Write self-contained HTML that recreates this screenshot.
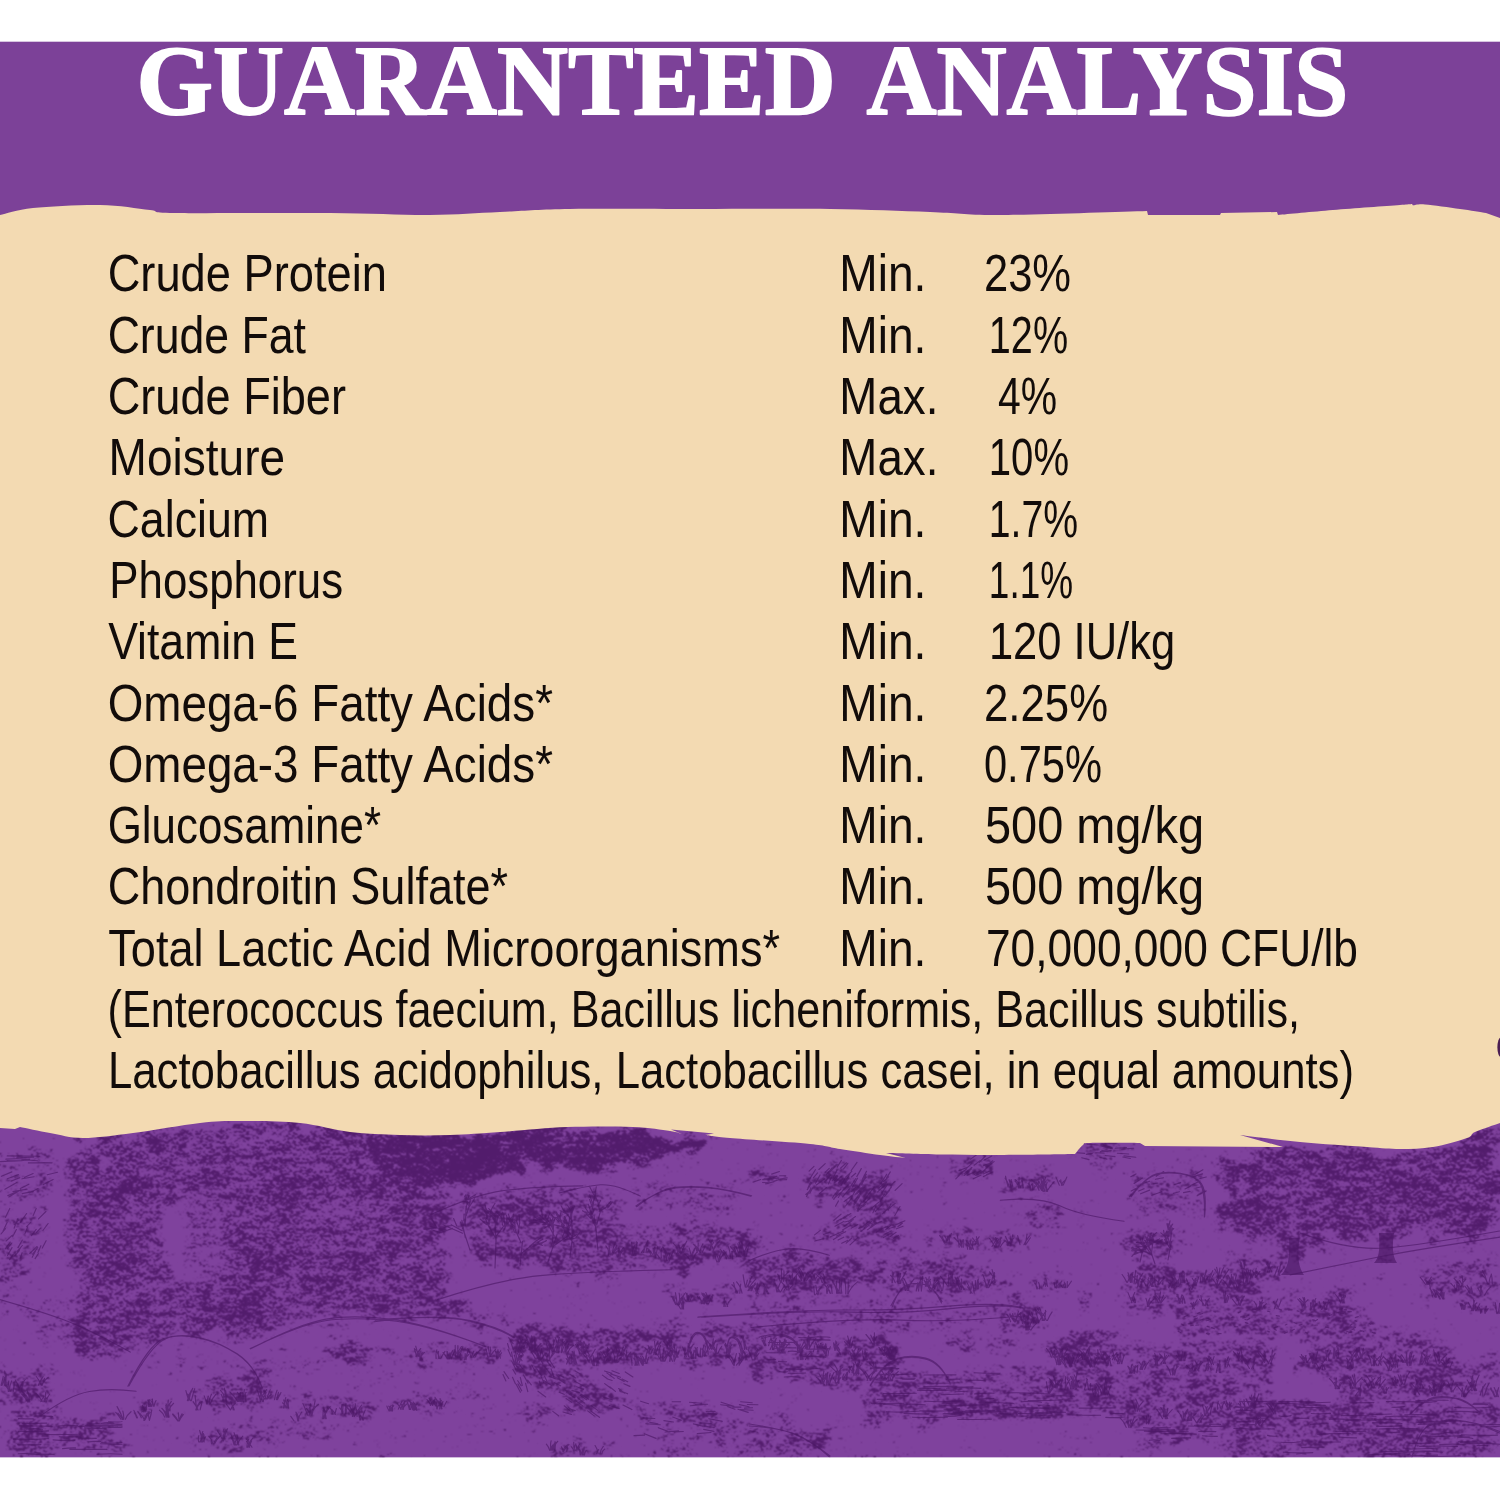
<!DOCTYPE html>
<html lang="en">
<head>
<meta charset="utf-8">
<title>Guaranteed Analysis</title>
<style>
html,body{margin:0;padding:0;background:#fff;}
body{width:1500px;height:1500px;overflow:hidden;position:relative;}
svg{display:block;position:absolute;left:0;top:0;}
.title{font-family:"Liberation Serif","DejaVu Serif",serif;font-weight:bold;fill:#fff;stroke:#fff;stroke-width:1.8px;stroke-linejoin:round;}
.ga text{font-family:"Liberation Sans","DejaVu Sans",sans-serif;font-size:51.5px;fill:#120c0a;}
</style>
</head>
<body>
<svg width="1500" height="1500" viewBox="0 0 1500 1500">
<rect x="0" y="0" width="1500" height="1500" fill="#ffffff"/>
<rect x="0" y="41.7" width="1500" height="1415.6" fill="#7c4198"/>
<clipPath id="bandclip"><rect x="0" y="1100" width="1500" height="357.3"/></clipPath>
<g clip-path="url(#bandclip)">
<defs>
<filter id="sk" x="0" y="1100" width="1500" height="357.3" filterUnits="userSpaceOnUse" color-interpolation-filters="sRGB">
 <feTurbulence type="fractalNoise" baseFrequency="0.035 0.05" numOctaves="2" seed="11" result="w"/>
 <feGaussianBlur in="SourceGraphic" stdDeviation="3.5" result="d0"/>
 <feDisplacementMap in="d0" in2="w" scale="36" xChannelSelector="R" yChannelSelector="G" result="d"/>
 <feTurbulence type="fractalNoise" baseFrequency="0.30 0.45" numOctaves="2" seed="7"/>
 <feColorMatrix type="matrix" values="1 0 0 0 0  1 0 0 0 0  1 0 0 0 0  0 0 0 0 1" result="nf"/>
 <feTurbulence type="fractalNoise" baseFrequency="0.08 0.17" numOctaves="2" seed="11"/>
 <feColorMatrix type="matrix" values="1 0 0 0 0  1 0 0 0 0  1 0 0 0 0  0 0 0 0 1" result="nm"/>
 <feTurbulence type="fractalNoise" baseFrequency="0.022 0.04" numOctaves="2" seed="16"/>
 <feColorMatrix type="matrix" values="1 0 0 0 0  1 0 0 0 0  1 0 0 0 0  0 0 0 0 1" result="nl"/>
 <feComposite in="nf" in2="nm" operator="arithmetic" k1="0" k2="0.75" k3="0.5" k4="-0.125" result="n1"/>
 <feComposite in="n1" in2="nl" operator="arithmetic" k1="0" k2="1" k3="0.27" k4="-0.135" result="n"/>
 <feComposite in="n" in2="d" operator="arithmetic" k1="0" k2="1" k3="0.6" k4="-0.3" result="s"/>
 <feColorMatrix in="s" type="matrix" values="0 0 0 0 0.294  0 0 0 0 0.086  0 0 0 0 0.392  8 0 0 0 -4.1"/>
 <feConvolveMatrix order="3" kernelMatrix="1 2 1 2 5 2 1 2 1" divisor="17" edgeMode="duplicate" preserveAlpha="false"/>
</filter>
</defs>
<rect x="0" y="1100" width="1500" height="357.3" fill="#7f429d"/>
<g filter="url(#sk)" opacity="0.84">
<rect x="-50" y="1050" width="1600" height="456" fill="#252525"/>
<rect x="0" y="1150" width="52" height="14" fill="#949494"/>
<rect x="0" y="1168" width="50" height="34" fill="#696969"/>
<polygon points="0,1212 45,1205 40,1245 12,1262 0,1262" fill="#898989"/>
<rect x="0" y="1262" width="22" height="30" fill="#828282"/>
<ellipse cx="30" cy="1310" rx="22" ry="9" fill="#858585"/>
<polygon points="72,1142 100,1136 180,1128 186,1200 160,1212 158,1262 182,1275 190,1340 135,1345 128,1362 76,1360 70,1290 66,1220" fill="#9d9d9d"/>
<polygon points="176,1126 280,1120 330,1122 332,1335 228,1340 222,1268 226,1208 188,1200" fill="#9d9d9d"/>
<polygon points="326,1122 440,1138 452,1200 446,1290 432,1322 326,1335" fill="#9c9c9c"/>
<ellipse cx="205" cy="1243" rx="22" ry="50" fill="#6b6b6b"/>
<ellipse cx="338" cy="1215" rx="9" ry="45" fill="#7d7d7d"/>
<ellipse cx="128" cy="1180" rx="8" ry="30" fill="#b3b3b3"/>
<ellipse cx="285" cy="1230" rx="9" ry="60" fill="#b3b3b3"/>
<ellipse cx="392" cy="1240" rx="8" ry="50" fill="#afafaf"/>
<polygon points="180,1274 350,1272 440,1300 432,1328 352,1346 262,1330 225,1345 182,1340" fill="#a0a0a0"/>
<polygon points="128,1352 160,1338 178,1334 215,1342 252,1362 262,1386 130,1388" fill="#333333"/>
<polygon points="250,1345 300,1322 350,1316 420,1322 480,1345 490,1390 262,1388" fill="#373737"/>
<ellipse cx="352" cy="1354" rx="22" ry="11" fill="#949494"/>
<polygon points="188,1392 250,1362 270,1372 290,1405 262,1412 200,1410" fill="#949494"/>
<ellipse cx="153" cy="1404" rx="18" ry="7" fill="#858585"/>
<polygon points="295,1400 335,1392 370,1402 372,1425 340,1412 300,1418" fill="#8d8d8d"/>
<rect x="0" y="1372" width="50" height="34" fill="#949494"/>
<polygon points="8,1416 120,1412 122,1455 8,1455" fill="#8d8d8d"/>
<rect x="200" y="1430" width="50" height="18" fill="#858585"/>
<rect x="250" y="1422" width="75" height="20" fill="#707070"/>
<rect x="40" y="1300" width="30" height="40" fill="#656565"/>
<polygon points="375,1192 432,1192 436,1250 430,1310 375,1312" fill="#a0a0a0"/>
<polygon points="375,1132 425,1133 525,1127 637,1127 702,1140 702,1152 650,1160 582,1170 525,1168 475,1182 425,1192 375,1190" fill="#e1e1e1"/>
<polygon points="457,1190 560,1186 625,1200 622,1268 560,1272 470,1262" fill="#8d8d8d"/>
<polygon points="480,1212 575,1206 578,1262 485,1266" fill="#9c9c9c"/>
<polygon points="607,1230 700,1224 752,1228 752,1262 690,1268 610,1264" fill="#949494"/>
<ellipse cx="608" cy="1266" rx="17" ry="20" fill="#949494"/>
<ellipse cx="704" cy="1257" rx="11" ry="8" fill="#bbbbbb"/>
<ellipse cx="685" cy="1270" rx="15" ry="10" fill="#afafaf"/>
<polygon points="375,1285 437,1290 487,1310 517,1328 475,1326 425,1313 375,1311" fill="#9c9c9c"/>
<rect x="670" y="1286" width="56" height="25" fill="#898989"/>
<polygon points="515,1326 752,1322 752,1364 540,1368" fill="#949494"/>
<ellipse cx="697" cy="1342" rx="11" ry="12" fill="#4b4b4b"/>
<ellipse cx="733" cy="1347" rx="9" ry="12" fill="#4b4b4b"/>
<ellipse cx="650" cy="1350" rx="9" ry="7" fill="#656565"/>
<polygon points="375,1318 440,1314 500,1326 512,1360 375,1362" fill="#353535"/>
<ellipse cx="387" cy="1348" rx="13" ry="7" fill="#949494"/>
<polygon points="412,1348 500,1346 502,1362 412,1363" fill="#858585"/>
<polygon points="503,1333 525,1330 552,1380 535,1388" fill="#b3b3b3"/>
<polygon points="535,1368 575,1372 628,1400 622,1414 570,1405 540,1390" fill="#9b9b9b"/>
<polygon points="622,1398 752,1418 752,1436 625,1414" fill="#858585"/>
<rect x="387" y="1397" width="63" height="14" fill="#898989"/>
<rect x="442" y="1382" width="45" height="18" fill="#676767"/>
<ellipse cx="537" cy="1414" rx="13" ry="8" fill="#858585"/>
<rect x="550" y="1440" width="52" height="15" fill="#7d7d7d"/>
<polygon points="650,1424 752,1436 752,1455 652,1455" fill="#707070"/>
<rect x="637" y="1182" width="115" height="28" fill="#606060"/>
<ellipse cx="738" cy="1181" rx="13" ry="4" fill="#a0a0a0"/>
<rect x="750" y="1170" width="30" height="15" fill="#9b9b9b"/>
<polygon points="805,1170 850,1163 856,1196 815,1204" fill="#949494"/>
<polygon points="832,1182 892,1172 897,1214 845,1222" fill="#949494"/>
<polygon points="812,1218 900,1214 900,1244 815,1247" fill="#898989"/>
<ellipse cx="970" cy="1168" rx="21" ry="12" fill="#a0a0a0"/>
<rect x="1005" y="1172" width="57" height="20" fill="#898989"/>
<rect x="1025" y="1202" width="37" height="25" fill="#898989"/>
<rect x="1075" y="1143" width="50" height="17" fill="#898989"/>
<rect x="945" y="1230" width="80" height="20" fill="#828282"/>
<rect x="887" y="1242" width="38" height="10" fill="#707070"/>
<polygon points="750,1258 800,1252 885,1260 885,1292 750,1296" fill="#9b9b9b"/>
<polygon points="890,1262 1000,1257 1000,1294 890,1296" fill="#919191"/>
<ellipse cx="916" cy="1294" rx="23" ry="12" fill="#515151"/>
<rect x="1032" y="1275" width="38" height="15" fill="#7b7b7b"/>
<rect x="750" y="1300" width="275" height="30" fill="#707070"/>
<rect x="1012" y="1305" width="38" height="25" fill="#949494"/>
<rect x="1075" y="1290" width="25" height="20" fill="#828282"/>
<rect x="750" y="1330" width="75" height="55" fill="#898989"/>
<ellipse cx="785" cy="1350" rx="18" ry="11" fill="#515151"/>
<polygon points="837,1337 895,1335 897,1384 840,1386" fill="#9b9b9b"/>
<rect x="945" y="1335" width="67" height="17" fill="#7b7b7b"/>
<ellipse cx="1086" cy="1351" rx="36" ry="17" fill="#a4a4a4"/>
<polygon points="862,1370 1125,1367 1125,1420 862,1422" fill="#858585"/>
<rect x="870" y="1396" width="255" height="18" fill="#949494"/>
<rect x="812" y="1360" width="50" height="25" fill="#898989"/>
<rect x="1045" y="1372" width="67" height="25" fill="#919191"/>
<polygon points="750,1420 832,1424 832,1457 750,1457" fill="#898989"/>
<ellipse cx="820" cy="1448" rx="13" ry="9" fill="#b3b3b3"/>
<polygon points="1215,1157 1285,1144 1375,1147 1450,1147 1475,1132 1500,1122 1500,1230 1462,1240 1400,1240 1325,1240 1305,1250 1250,1240 1220,1230 1225,1192 1215,1172" fill="#aaaaaa"/>
<rect x="1288" y="1238" width="12" height="34" fill="#bbbbbb"/>
<rect x="1378" y="1232" width="16" height="30" fill="#bbbbbb"/>
<rect x="1125" y="1167" width="80" height="50" fill="#696969"/>
<polygon points="1130,1174 1200,1170 1200,1196 1132,1198" fill="#828282"/>
<ellipse cx="1152" cy="1245" rx="28" ry="20" fill="#858585"/>
<rect x="1220" y="1250" width="67" height="30" fill="#8b8b8b"/>
<rect x="1125" y="1270" width="125" height="20" fill="#949494"/>
<rect x="1125" y="1290" width="225" height="20" fill="#7b7b7b"/>
<rect x="1175" y="1307" width="200" height="28" fill="#898989"/>
<rect x="1420" y="1260" width="80" height="40" fill="#858585"/>
<rect x="1462" y="1300" width="38" height="15" fill="#8b8b8b"/>
<rect x="1125" y="1340" width="150" height="35" fill="#8a8a8a"/>
<rect x="1300" y="1335" width="150" height="40" fill="#8a8a8a"/>
<polygon points="1337,1372 1500,1358 1500,1395 1340,1398" fill="#949494"/>
<rect x="1125" y="1378" width="150" height="50" fill="#878787"/>
<polygon points="1225,1400 1400,1400 1400,1457 1225,1457" fill="#949494"/>
<rect x="1400" y="1400" width="100" height="57" fill="#8d8d8d"/>
<ellipse cx="1443" cy="1407" rx="30" ry="9" fill="#515151"/>
<rect x="1125" y="1422" width="100" height="23" fill="#7d7d7d"/>
</g><path d="M145.9 1411.8Q145 1409.2 143.5 1407.4M142 1411.8Q141.7 1409 142.6 1407.2M145.8 1411.8Q146.6 1407.6 146.8 1404.8M143.1 1411.8Q143.6 1407.9 142.4 1405.3M144 1411.8Q144.3 1408.9 145.9 1406.9M151.8 1406.5Q150.8 1402.7 147.7 1400.1M154 1406.5Q154.6 1402.9 156 1400.5M151.9 1406.5Q152.8 1402 152.4 1399M148.5 1406.5Q148.2 1402.3 149.2 1399.6M149.6 1406.5Q148.3 1404 148.3 1402.3M150.4 1406.5Q149.3 1402.7 148.3 1400.1M153.8 1406.5Q153.3 1403.6 151.7 1401.7M170 1410.8Q170.2 1406.4 169.6 1403.5M169 1410.8Q167 1406.6 166.2 1403.8M166.8 1410.8Q167.8 1405.2 171.3 1401.5M168.7 1410.8Q170.1 1406.3 173.6 1403.3M168.3 1410.8Q167.6 1404.3 168.3 1400M199.7 1442Q202.4 1437.8 204.1 1435M198.7 1442Q197.9 1438.1 198.8 1435.6M200.9 1442Q200.8 1435.8 202.8 1431.6M201.6 1442Q201.7 1435 199.6 1430.4M202.7 1442Q204.2 1438.8 205.6 1436.8M202.2 1442Q201.6 1437.5 202.6 1434.5M204.1 1442Q204.6 1436.9 203.3 1433.5M213.5 1443.9Q214.9 1440.7 216.6 1438.5M212.9 1443.9Q211.8 1439.4 208.9 1436.4M211.6 1443.9Q210.7 1441 211.8 1439.1M214.6 1443.9Q216.3 1439.4 219.8 1436.5M223.4 1440.9Q225.1 1433.6 227.5 1428.8M223.3 1440.9Q220.2 1434.8 217.4 1430.8M223.4 1440.9Q224.4 1434.1 223.8 1429.6M221.9 1440.9Q223.3 1434.2 226 1429.7M235.7 1445Q234.2 1440.6 231.5 1437.7M234.1 1445Q233.2 1440.3 231 1437.1M238.9 1445Q236.1 1437.6 234 1432.7M235 1445Q232.6 1438.5 230.9 1434.2M236.6 1445Q239.6 1439.6 242.8 1436.1M234.3 1445Q235.5 1440.5 237.7 1437.5M238.1 1445Q238 1438.9 237 1434.9M248 1447.2Q249.1 1443.9 250.5 1441.7M249.6 1447.2Q249.1 1443.8 246.5 1441.5M252 1447.2Q249 1442.3 246.4 1439M246.9 1447.2Q246.8 1442.3 248.7 1439M249.3 1447.2Q250.2 1443.4 251.6 1440.9M247.8 1447.2Q248.9 1441.7 252.9 1438.1M6.2 1385.3Q5.7 1376.8 4.7 1371.1M2 1385.3Q4 1380.5 4.6 1377.3M4.7 1385.3Q4.4 1378.6 6 1374.1M5.4 1385.3Q5.2 1378.8 6.7 1374.4M1.4 1385.3Q3.5 1381.5 6.1 1379M1 1385.3Q2.6 1380.1 3.2 1376.6M9.3 1391.3Q9.7 1385.1 11.6 1380.9M9 1391.3Q9.1 1386.1 11.1 1382.6M13 1391.3Q14.6 1385.5 15 1381.6M10.8 1391.3Q7.2 1386.2 3.8 1382.8M8.2 1391.3Q8.1 1385.2 8.7 1381.1M9.1 1391.3Q7.1 1387.1 4.3 1384.4M13.3 1391.3Q14.1 1386 13.8 1382.5M18.8 1390Q19.7 1386.3 23.1 1383.9M21.7 1390Q22.4 1385 22.3 1381.6M19.7 1390Q17.9 1384.1 15.3 1380.1M18.6 1390Q21.1 1383.8 25.2 1379.7M28.5 1401.9Q26.7 1396.3 23.8 1392.6M28.5 1401.9Q24.8 1394.7 21.1 1389.8M27.6 1401.9Q25.1 1397.2 21.6 1394M29.9 1401.9Q28.5 1397.2 24 1394M28.4 1401.9Q26.4 1397.2 22.5 1394M29.6 1401.9Q29.6 1395.3 27.2 1390.8M41.9 1385.3Q43.4 1380.6 48.1 1377.4M42.2 1385.3Q43.7 1381.1 44.6 1378.3M38.2 1385.3Q40.7 1380.1 43.1 1376.6M41.7 1385.3Q39 1380 36.3 1376.5M38.4 1385.3Q40.4 1380.9 41.9 1378M45.2 1401.6Q44.2 1398.3 43.4 1396.1M45.6 1401.6Q45.3 1396.1 45.7 1392.5M42.1 1401.6Q39.8 1396.8 35.9 1393.5M44.1 1401.6Q45.2 1398.9 47.7 1397.2M46.5 1401.6Q46.9 1397.3 49.5 1394.4M40.8 1401.6Q42.1 1398.3 44.3 1396.1M418.1 1356.2Q417.3 1352.7 416.9 1350.3M418.4 1356.2Q416.9 1350.2 415.7 1346.2M416.5 1356.2Q415.3 1351.6 414.4 1348.6M419.7 1356.2Q418.5 1352.1 415.8 1349.3M415.9 1356.2Q417.9 1351.6 420.7 1348.5M420.1 1359.9Q419.9 1355.7 419.7 1352.8M419.8 1359.9Q420.9 1355.4 424.5 1352.4M420.8 1359.9Q421.5 1355.1 421 1351.9M420.1 1359.9Q420.7 1355.3 423 1352.2M421.6 1359.9Q420.8 1357 417.8 1355.1M422.6 1359.9Q420.4 1356.5 418.6 1354.2M440.7 1358.4Q443 1354.2 445 1351.4M439.5 1358.4Q438.2 1354 436.5 1351M436.1 1358.4Q435.6 1353.3 436.8 1349.9M438.7 1358.4Q438.2 1354.3 438.4 1351.6M451.1 1358.8Q453.2 1353.9 455.2 1350.6M447.2 1358.8Q447.4 1354.3 446.9 1351.4M449.5 1358.8Q450.3 1353.8 452.8 1350.4M447.3 1358.8Q445.3 1355 443.1 1352.5M447.1 1358.8Q447.6 1354.8 447.5 1352.1M448.2 1358.8Q449 1355.2 450 1352.8M448.2 1358.8Q448.7 1354.6 447.4 1351.7M455.6 1357Q455.2 1350 455.2 1345.3M457.1 1357Q459.8 1351.3 462.8 1347.5M456.8 1357Q458.2 1350.7 461.4 1346.5M457.8 1357Q458.4 1352 457.7 1348.6M459.3 1357Q461.7 1350.7 462.8 1346.4M457.4 1357Q457.9 1350.1 457.9 1345.5M459 1357Q456.5 1352.7 454.3 1349.8M464.9 1359.6Q466.6 1355.8 467.4 1353.2M460.5 1359.6Q459.9 1356.6 458.7 1354.6M464.3 1359.6Q466.6 1356.5 468.7 1354.5M466.1 1359.6Q466.3 1354.5 468 1351.1M461.2 1359.6Q460.1 1356.9 457.6 1355.1M464.6 1359.6Q465.4 1356 465.2 1353.6M471.2 1357.6Q472.3 1353.9 473.7 1351.4M474.8 1357.6Q476.6 1353.1 479.9 1350.1M472.9 1357.6Q475.1 1354.3 476.9 1352M471.1 1357.6Q470.1 1352.1 467.7 1348.5M487.5 1356.3Q486.9 1351.8 485.9 1348.9M490.3 1356.3Q488.6 1350.5 488.1 1346.7M490.3 1356.3Q492.8 1352.1 495.5 1349.4M491.1 1356.3Q490.3 1350.8 490.3 1347.1M497.1 1358.1Q498 1353.8 500.6 1350.9M497.8 1358.1Q499.8 1354.9 501.5 1352.8M497.1 1358.1Q497.5 1353.1 498 1349.7M497.3 1358.1Q496 1353.7 495.4 1350.8M500.4 1358.1Q499.5 1353.5 497.9 1350.4M496.6 1358.1Q496.4 1354.5 496.7 1352.1M498 1358.1Q498.6 1354.4 498.5 1351.8M391.5 1410.9Q392.1 1407.6 393 1405.5M392.5 1410.9Q392.3 1407.2 392.8 1404.8M389.5 1410.9Q389.4 1407.7 391.1 1405.6M391.2 1410.9Q391 1408.3 389.2 1406.5M390.9 1410.9Q390.5 1408 388.7 1406.1M389.7 1410.9Q390.6 1407.8 393.8 1405.7M389.1 1410.9Q387.3 1408 386.9 1406.1M403 1409.1Q403.7 1405.3 404.8 1402.7M400.6 1409.1Q402.4 1404.3 405.3 1401M403.5 1409.1Q402.3 1405.8 400.8 1403.5M398.3 1409.1Q400 1404.7 401.9 1401.7M401.2 1409.1Q399.2 1405.8 397.2 1403.6M402.4 1409.1Q404.3 1406.1 406.6 1404M412.6 1409.5Q413.9 1406.3 416.1 1404.2M414.9 1409.5Q414.3 1406.4 415.4 1404.4M410.7 1409.5Q411 1405.1 413.5 1402.1M410.1 1409.5Q408.8 1405.3 407.4 1402.4M409.3 1409.5Q409.6 1405.3 411.2 1402.6M409.5 1409.5Q407.9 1404.3 406.8 1400.9M412.7 1409.5Q412.1 1404.5 409.8 1401.2M413.2 1410.2Q414.2 1406.4 417.3 1403.9M416.2 1410.2Q415 1406 414.3 1403.2M417 1410.2Q416.5 1406.6 413.5 1404.2M413.3 1410.2Q412.3 1406.5 413.3 1404M414.3 1410.2Q413.3 1407 413.8 1404.8M430.3 1405.4Q431.5 1401.5 435.6 1399M432.6 1405.4Q434.4 1401.2 435.1 1398.5M432.5 1405.4Q431.1 1401.1 429.1 1398.2M430.7 1405.4Q429.5 1402 427 1399.7M441.3 1408.8Q441 1404.5 442.9 1401.6M437.4 1408.8Q436.5 1405.5 433.8 1403.2M436.7 1408.8Q439.3 1403.7 441.4 1400.4M439.8 1408.8Q440 1405.4 439.5 1403.2M437 1408.8Q436.6 1404.2 437 1401.2M442 1408.8Q440.6 1405.2 438.7 1402.9M440.7 1406.7Q439.6 1403.5 439.2 1401.3M443.9 1406.7Q445.4 1403.5 446.8 1401.3M440 1406.7Q438.4 1401.1 435 1397.3M441.1 1406.7Q440.6 1401.9 440.1 1398.6M441.9 1406.7Q441.1 1403.3 438.7 1401M514.4 1364.7Q512.2 1357.1 511.5 1352.1M516.3 1364.7Q518.2 1357.1 520.4 1352M515.7 1364.7Q517.4 1359.2 520.8 1355.6M518.4 1364.7Q520.6 1359.1 522 1355.4M515.1 1364.7Q518 1360.5 520.7 1357.7M515.6 1364.7Q516 1359 514.4 1355.2M517.5 1364.7Q516.9 1356.2 515.1 1350.5M521.2 1348.6Q523.2 1343.5 526.1 1340.2M521.1 1348.6Q521.2 1343.3 520.5 1339.7M524.4 1348.6Q522.7 1344.6 520.9 1341.9M523.7 1348.6Q525.3 1343.7 526 1340.4M520.5 1348.6Q522.3 1344.9 524 1342.3M518.8 1348.6Q519.3 1343.2 522.3 1339.5M530.9 1349.4Q531.3 1344.2 530.1 1340.7M532.5 1349.4Q531.2 1341.3 531.4 1335.9M529.3 1349.4Q530.3 1343.7 533.5 1340M531.8 1349.4Q531.4 1341.9 532.4 1336.9M531 1350.3Q531.3 1343.9 531 1339.6M535 1350.3Q534.7 1343.6 534.4 1339M530.1 1350.3Q529.8 1344.3 527 1340.3M535.4 1350.3Q538 1346.2 541 1343.5M535.6 1350.3Q536.1 1345 535.1 1341.5M541.4 1359.1Q543.7 1355.6 546.3 1353.2M539.7 1359.1Q539 1353.8 536.8 1350.3M538.5 1359.1Q537.1 1354.5 532.9 1351.4M539.2 1359.1Q537.6 1353 536 1348.9M539.6 1359.1Q540.8 1353.5 541.4 1349.7M539.3 1359.1Q541.1 1352.7 541.7 1348.5M546.1 1360.4Q547.5 1356.6 548.3 1354M547.6 1360.4Q547.3 1356.6 544.5 1354.1M549.3 1360.4Q549.1 1353.3 549.9 1348.6M549.2 1360.4Q551.3 1355.5 553.2 1352.2M550.1 1360.4Q548.8 1356.4 548.6 1353.7M548.7 1360.4Q552.5 1354.9 555.7 1351.3M554.7 1351.5Q552.7 1347.2 548.9 1344.4M556.9 1351.5Q558.7 1346 559.1 1342.3M552.1 1351.5Q551.3 1347.7 548.2 1345.2M553.3 1351.5Q552.8 1344.7 554.2 1340.1M553.7 1351.5Q555.6 1345.4 558.7 1341.3M553.8 1351.5Q551.5 1345.4 548.1 1341.3M552.7 1351.5Q550.2 1345.8 546.7 1342M561.3 1352.6Q562.2 1344.6 562.9 1339.2M561.6 1352.6Q563.4 1345.8 567.3 1341.3M558.6 1352.6Q559.1 1347.1 561.1 1343.4M558.2 1352.6Q557.8 1343.5 555.2 1337.4M557.6 1352.6Q559.2 1347.7 559.3 1344.5M556.5 1352.6Q559.3 1345.7 564.9 1341.1M556.3 1352.6Q557.1 1343.5 559.3 1337.5M564.9 1351.8Q565.9 1345.9 566.1 1342M565.2 1351.8Q567.5 1347 568.6 1343.8M568.3 1351.8Q569.7 1347.9 573.6 1345.3M565.7 1351.8Q567.5 1348.6 568.7 1346.5M565.1 1351.8Q564.6 1348.5 565.8 1346.3M566.7 1364Q567.8 1359.8 569.5 1356.9M570.7 1364Q572.7 1361.4 573.7 1359.7M571.8 1364Q571 1359.6 572 1356.7M570.1 1364Q570 1359.7 569.9 1356.9M566.5 1364Q567.9 1361.2 569.4 1359.4M569.8 1364Q568.4 1360.8 566.2 1358.7M569.2 1364Q568.1 1358.1 566.8 1354.3M575.3 1364.2Q575.4 1356.3 574 1351M574.7 1364.2Q573.6 1357 572.9 1352.2M576.9 1364.2Q575 1356.4 572.3 1351.3M575.4 1364.2Q574.2 1360.4 571.2 1357.8M573.1 1364.2Q573.5 1359.5 571.7 1356.4M584.1 1353.9Q586.4 1348.4 589.3 1344.8M579.5 1353.9Q579.1 1348.3 577.6 1344.5M583.3 1353.9Q582.1 1350.2 580.8 1347.7M583.1 1353.9Q585.2 1348.6 586.6 1345M581.9 1353.9Q585 1348.7 588.8 1345.2M583.2 1353.9Q579.9 1348.4 576 1344.6M580.1 1353.9Q578 1348.3 575.6 1344.6M586.6 1350.3Q583.2 1344.7 580.1 1340.9M583.5 1350.3Q583 1344.9 583.9 1341.3M586.5 1350.3Q585.7 1345.3 584.2 1341.9M585.3 1350.3Q586 1346.4 589.2 1343.8M583.4 1350.3Q581.5 1345.6 578.1 1342.4M583.9 1350.3Q583.2 1345.6 582.9 1342.4M584.4 1350.3Q582.1 1344.6 578.6 1340.9M589.5 1362Q586.2 1357.2 583 1354M588.3 1362Q587.4 1356.1 584.8 1352.1M592.5 1362Q590.6 1356.1 587.7 1352.2M588.7 1362Q592 1354.3 595.2 1349.2M596.7 1365.7Q597.1 1358.4 598 1353.5M594.4 1365.7Q593.4 1361.6 590.4 1358.9M598 1365.7Q598.1 1357.3 600.3 1351.7M596 1365.7Q597.9 1360.5 600.5 1357.1M594.5 1365.7Q593.6 1359.6 593 1355.6M593.2 1365.7Q591.1 1359.4 587.9 1355.2M604.4 1359.7Q603.4 1355.1 601.4 1352.1M604.2 1359.7Q606.5 1353.1 608.4 1348.7M607.7 1359.7Q607.6 1352.2 607.6 1347.2M607 1359.7Q609.7 1354.2 613.2 1350.5M604.1 1359.7Q605.5 1353.6 609.7 1349.6M609 1360.5Q607.6 1357 607.8 1354.6M610.1 1360.5Q610.5 1356.2 608.8 1353.4M608.5 1360.5Q606.7 1356 603.6 1352.9M606.5 1360.5Q609.7 1355.8 612.4 1352.6M617.6 1362.6Q620.6 1357.9 623.4 1354.8M616.6 1362.6Q617.5 1359.2 621.2 1356.9M615.9 1362.6Q617.6 1354.9 619.7 1349.8M615 1362.6Q614.6 1355 612.6 1349.9M616.5 1362.6Q616.9 1358.5 618.3 1355.7M622.5 1356Q624.5 1350.2 625.6 1346.4M617.9 1356Q616.7 1350.4 615.7 1346.7M619.4 1356Q622.1 1351.1 625.7 1347.8M619.3 1356Q621.7 1352.1 623.9 1349.5M622 1356Q624.2 1350.5 626.3 1346.8M620.9 1356Q621.7 1350.6 623.3 1347.1M624.1 1359.5Q624.3 1353.9 622 1350.2M627.7 1359.5Q626.4 1355.8 624.5 1353.3M626.1 1359.5Q626.7 1353.9 626.7 1350.1M626.6 1359.5Q627.6 1355 630.9 1352M626.7 1359.5Q626 1354.5 622.8 1351.3M635.3 1365.2Q638.2 1360.7 641.2 1357.6M636.6 1365.2Q636.1 1361.1 633.9 1358.3M634.8 1365.2Q636.5 1361.6 638.7 1359.2M635.4 1365.2Q635.1 1358.9 634.6 1354.7M632 1365.2Q631.9 1361.1 631.2 1358.3M642.4 1365.1Q643.4 1360.9 643 1358.1M639 1365.1Q638.5 1358.7 635.7 1354.4M643 1365.1Q640.8 1360.2 638.7 1357M637.5 1365.1Q636.4 1359.9 636.9 1356.5M643.3 1365.1Q643.1 1360.4 643.4 1357.2M642.4 1365.1Q639.7 1359.3 634.9 1355.4M646.9 1363.5Q647.5 1359.8 648.6 1357.3M644.2 1363.5Q643.3 1360.7 640.2 1358.8M645.8 1363.5Q645.3 1357.6 646.5 1353.7M642.9 1363.5Q641.9 1359.3 640.7 1356.4M643.3 1363.5Q645.4 1358.9 646.6 1355.9M645.7 1363.5Q645.5 1360.1 646.5 1357.8M646.3 1363.5Q644.2 1359.2 642.4 1356.3M649.3 1354Q648.5 1350.2 644.9 1347.7M649 1354Q649.5 1349.8 649.6 1347M646.3 1354Q648.5 1351.1 650.3 1349.1M650 1354Q649.8 1348.9 648.1 1345.5M646.5 1354Q647.4 1350.2 648.7 1347.6M650.9 1354Q651.8 1350.8 653.4 1348.6M653.8 1354.6Q654.9 1346.4 658.1 1340.9M655.4 1354.6Q657.3 1346.9 661 1341.8M656.4 1354.6Q654.7 1346.7 654.5 1341.3M658.7 1354.6Q658.6 1349 660.7 1345.3M664.4 1361.1Q666.9 1354.5 671.1 1350.1M662 1361.1Q665.6 1355.9 668.8 1352.4M663.4 1361.1Q662.7 1353.1 663.8 1347.8M662.3 1361.1Q662.7 1353.1 664.2 1347.8M660.9 1361.1Q658.4 1355 654.1 1350.9M661.2 1361.1Q659.7 1353.7 659.9 1348.7M665 1361.1Q666.6 1355.9 670 1352.4M670.7 1348.9Q670.9 1343.6 669 1340M671.3 1348.9Q668.8 1344.7 667.4 1341.8M668.8 1348.9Q666.6 1344.5 663.7 1341.6M670.7 1348.9Q671.9 1344.1 671.5 1340.9M670.1 1348.9Q669.5 1343.7 668.5 1340.2M668.1 1348.9Q666.9 1344 667 1340.7M669 1348.9Q670.1 1344.6 671.4 1341.8M669.5 1361.3Q670.1 1354.1 672.8 1349.3M672.5 1361.3Q671.9 1357.7 668.4 1355.3M674.2 1361.3Q676.6 1354.6 679.3 1350.2M670 1361.3Q670.7 1355.8 672.8 1352.1M672.5 1361.3Q669.8 1355.6 667.5 1351.9M674.2 1361.3Q674.2 1356.8 672.7 1353.8M674.6 1357.1Q675.2 1350 674.1 1345.3M678.1 1357.1Q676.2 1353 673.4 1350.3M677.3 1357.1Q676.1 1352.1 676.2 1348.8M676.6 1357.1Q676 1353.4 675 1350.9M677.2 1357.1Q675.2 1351.4 671.7 1347.7M676.9 1357.1Q678.6 1353.4 679.3 1350.9M685.1 1356.7Q685 1350.9 682.6 1347.1M684.5 1356.7Q687 1351.2 690.1 1347.6M684.8 1356.7Q685.1 1352.8 685.3 1350.2M688.6 1356.7Q688 1352.6 688.7 1349.9M686.6 1356.7Q688.2 1350.9 688.8 1347M688.8 1351.1Q690.2 1346.9 693.9 1344.1M687.4 1351.1Q688.5 1346.4 688.2 1343.3M689 1351.1Q688.7 1346.3 689.5 1343.1M689.9 1351.1Q691.4 1347.4 692.8 1344.9M694.9 1358.5Q695.9 1353.6 696.1 1350.4M691.4 1358.5Q693.5 1352 697.4 1347.7M693.4 1358.5Q693.2 1353.6 694.1 1350.3M692.3 1358.5Q691.1 1354.6 689.9 1352M695.8 1358.5Q695.6 1353.9 697 1350.8M692.5 1358.5Q692 1352.7 690.1 1348.9M700.6 1356.7Q700.5 1352.6 700.6 1349.8M698.6 1356.7Q696.7 1351.1 695 1347.3M702.3 1356.7Q702.5 1349.7 703.9 1345.1M699.1 1356.7Q696.8 1353.5 694.6 1351.3M698.5 1356.7Q697 1351.4 696.9 1347.9M700 1356.7Q700.1 1351.5 700.8 1348.1M706 1356.1Q705.3 1351.9 701.9 1349M704.6 1356.1Q705.1 1350 705.4 1346M704 1356.1Q704 1351.5 702.9 1348.4M704.6 1356.1Q707.3 1349.9 709.3 1345.8M709.5 1349.2Q711.7 1344.5 715.9 1341.4M711.9 1349.2Q713.1 1344.4 715.9 1341.2M711.7 1349.2Q714 1344.9 715.1 1342M712 1349.2Q712.9 1343 713.3 1338.9M713.5 1349.2Q711.9 1345.2 708.2 1342.5M712 1349.2Q713.6 1344.1 715.5 1340.7M711.4 1349.2Q710.4 1344.1 707.2 1340.7M716 1353.7Q714.6 1349.9 713 1347.3M717.1 1353.7Q715.9 1349.7 714.2 1347M717.7 1353.7Q719.3 1349.3 721.7 1346.3M716.3 1353.7Q716.4 1347.9 717.2 1344M727.9 1357.7Q729.7 1350.7 730.9 1345.9M729.6 1357.7Q727.9 1352.2 726.4 1348.6M729.7 1357.7Q728.9 1350.4 726.2 1345.6M726.8 1357.7Q728 1351.4 729.9 1347.2M728.2 1357.7Q728.2 1350.2 729.2 1345.2M729.2 1357.7Q729.4 1351.7 730.2 1347.7M728.1 1352.1Q727 1346.9 725.5 1343.4M727.3 1352.1Q726.3 1347.7 724.7 1344.7M726.9 1352.1Q729.1 1347.7 732 1344.7M730.1 1352.1Q730.4 1348.2 730.9 1345.6M733.5 1365.1Q731.3 1359.5 727.7 1355.9M739.1 1365.1Q741.8 1360.8 743.9 1357.9M739.2 1365.1Q738.8 1360.7 739 1357.7M734 1365.1Q735.1 1358.2 736.4 1353.6M739.1 1365.1Q740.1 1358.7 739.6 1354.5M734.5 1365.1Q733.3 1358.8 729.5 1354.7M736.4 1365.1Q739.5 1361.1 741.9 1358.5M746.6 1349.3Q744.9 1342.3 743.2 1337.6M744.2 1349.3Q744.7 1341.9 743.4 1336.9M742.7 1349.3Q741.1 1343.3 737.1 1339.4M744.9 1349.3Q744.1 1341.7 741.8 1336.5M746.7 1359.9Q745.5 1354.2 742.1 1350.4M745.4 1359.9Q744.8 1356.2 745.5 1353.7M742.8 1359.9Q740.9 1355.9 739.2 1353.3M747.1 1359.9Q745.2 1354.3 743.4 1350.5M745.3 1359.9Q746.4 1356.6 747.1 1354.4M754.8 1359.9Q756.5 1353.4 757.7 1349.1M755.1 1359.9Q755.9 1354.4 757.6 1350.7M752.4 1359.9Q750.5 1353.6 748 1349.4M753.7 1359.9Q756.5 1356.2 758.7 1353.7M754.4 1359.9Q756.4 1354 758.1 1350.1M754.2 1359.9Q755.2 1354.5 756.5 1350.9M755 1359.9Q754.3 1355.2 755.3 1352M765.9 1345.7Q764.4 1340.3 761.3 1336.7M768.6 1345.7Q769.5 1341.1 771.1 1338M765.7 1345.7Q764.4 1342.7 762.1 1340.7M765.1 1345.7Q764.4 1340.3 765.8 1336.7M764.6 1345.7Q763 1342.7 762.7 1340.6M773.5 1349.4Q774.1 1346 777.5 1343.7M772.5 1349.4Q772.8 1342.5 771 1337.9M773.8 1349.4Q774.4 1343.9 775.7 1340.3M770.1 1349.4Q773 1342.9 776.3 1338.6M779.9 1352.3Q776.3 1345.2 772.9 1340.5M782.1 1352.3Q786.2 1346.3 789.9 1342.4M780.1 1352.3Q779.6 1345.2 779.5 1340.5M778.5 1352.3Q776.3 1346.7 774.7 1342.9M777.7 1352.3Q780.5 1346 783.8 1341.8M782.9 1352.3Q783.2 1344.4 785 1339.1M783.3 1351.3Q782.5 1347.7 781 1345.2M781.5 1351.3Q784.1 1345.1 785.4 1340.9M784.1 1351.3Q782.6 1344.6 779.8 1340.2M782.1 1351.3Q784.5 1345 786.3 1340.8M800.9 1352.6Q799 1346.8 794 1342.9M798.6 1352.6Q800.2 1347.5 800.1 1344M800.3 1352.6Q802.4 1347.6 806.3 1344.3M797.9 1352.6Q798.1 1348.4 797.1 1345.6M797.4 1352.6Q797.7 1345.8 797 1341.3M799 1352.6Q801.9 1346.2 803.9 1342M802.8 1359.6Q802 1356.1 801.4 1353.7M800.4 1359.6Q800.3 1353.5 800.9 1349.4M800.5 1359.6Q801.5 1356.1 801.4 1353.9M801.4 1359.6Q801.3 1354 802.5 1350.3M805.5 1359.6Q806.5 1355.9 809.5 1353.5M809.2 1348.7Q811.7 1342.5 815.9 1338.5M806.7 1348.7Q805.3 1343.3 803.3 1339.8M807.2 1348.7Q808.7 1343.1 809.1 1339.4M809.3 1348.7Q809.6 1340.9 808.7 1335.7M806.9 1348.7Q805.1 1343.6 804.7 1340.3M805.1 1348.7Q807.7 1342.1 811.2 1337.7M806.8 1348.7Q806.8 1341.3 808.2 1336.4M818.9 1351.7Q817.8 1346 815.5 1342.1M817.9 1351.7Q817.2 1347.8 817.8 1345.2M818.6 1351.7Q819.7 1347 821.1 1343.8M813.3 1351.7Q814.5 1348.3 814.5 1345.9M817.7 1351.7Q819.7 1347.2 823.1 1344.2M817.4 1351.7Q817.6 1348.1 820.5 1345.6M826.2 1355.3Q826.7 1351.3 827.8 1348.6M826.3 1355.3Q822.9 1349.8 819 1346.2M825.6 1355.3Q826.5 1348.4 825.7 1343.8M826.2 1355.3Q823.4 1348.3 820.5 1343.6M825.2 1355.3Q826.3 1350.3 826.6 1346.9M825.8 1355.3Q822.3 1348.7 818.4 1344.2M828 1355.3Q828.1 1350.2 830.4 1346.8M835 1350.3Q833.5 1345.8 833.7 1342.8M837.2 1350.3Q836.5 1346.3 834 1343.7M835.2 1350.3Q835.6 1344.9 836 1341.2M839.8 1350.3Q839.2 1347.4 836.3 1345.5M835.1 1350.3Q835.8 1347.2 834.9 1345.2M834.8 1350.3Q837.3 1346.4 838.9 1343.8M838.1 1350.3Q837.7 1344.7 835.7 1341M845.3 1354.8Q846 1350.1 846 1347M844.7 1354.8Q845.4 1350.6 845.1 1347.9M844.7 1354.8Q845 1351.7 846.1 1349.6M840.7 1354.8Q839.6 1351.7 837.4 1349.6M846 1354.8Q846.2 1350.1 847.3 1346.9M850 1347.9Q849.4 1340.8 847.6 1336M851.1 1347.9Q852.3 1343.9 852.6 1341.3M848.3 1347.9Q849.6 1344 850.3 1341.4M849.3 1347.9Q849.3 1341.5 851.3 1337.2M849.6 1347.9Q847 1344.1 844.4 1341.6M854.6 1358.6Q853.4 1355.2 851 1352.9M851.4 1358.6Q853 1352.2 855.9 1347.9M854.7 1358.6Q857.3 1352.7 858.8 1348.7M855.4 1358.6Q853.4 1353.3 852.1 1349.7M852.2 1358.6Q850.5 1354.1 849.7 1351.1M856 1358.6Q854.7 1354 853.5 1350.9M854.3 1358.6Q857 1353.4 860.5 1349.9M866.4 1359.6Q865.4 1355 864.6 1352M866.8 1359.6Q866.9 1354.4 864.8 1351M867.3 1359.6Q865.5 1356.2 864.2 1354M867.4 1359.6Q866 1354.1 865 1350.4M865.1 1359.6Q865.3 1355.4 867 1352.6M864 1359.6Q862.6 1354.4 862.5 1350.9M864.9 1359.6Q865.5 1355 865.6 1351.9M874.3 1344.8Q874.6 1340 873.6 1336.8M873.1 1344.8Q874.8 1340 876.7 1336.7M874.4 1344.8Q873.5 1339 870.7 1335.1M873 1344.8Q870 1338.6 866 1334.5M874.3 1344.8Q874.4 1337.6 874.4 1332.8M883.8 1355.5Q881.1 1350.6 878.8 1347.4M883.7 1355.5Q884.7 1348.4 885.5 1343.7M884.6 1355.5Q886.3 1350.7 890.8 1347.4M884.3 1355.5Q882.4 1350.8 879.3 1347.6M889.8 1358Q890.9 1352.7 893.3 1349.2M889.3 1358Q888.6 1354.9 885.2 1352.8M887.6 1358Q884.9 1352 881.7 1348M889.7 1358Q889.4 1353.7 889.2 1350.8M888.7 1358Q887.9 1351.9 887.8 1347.9M891.9 1358Q893.3 1354.4 894.7 1352M892.7 1358Q892.9 1354 894.4 1351.3M891.7 1359.1Q890.6 1353.9 888.3 1350.5M894.3 1359.1Q893.4 1355.1 893.6 1352.4M894.8 1359.1Q894.7 1353.7 896 1350M890.9 1359.1Q891.8 1352.4 895.1 1347.9M892.5 1359.1Q894 1355 896.4 1352.3M893.7 1359.1Q892.4 1352.2 889.7 1347.5M894.1 1359.1Q894.4 1352.8 895.5 1348.6M677.8 1304.3Q680 1298.4 684.3 1294.5M676 1304.3Q674.1 1299.7 673 1296.6M677.2 1304.3Q676.3 1297.3 675.4 1292.7M679.3 1304.3Q680.1 1297.5 679.1 1293M675.5 1304.3Q673.3 1299.7 671.7 1296.6M679 1304.3Q682.1 1297.9 684.5 1293.7M683.1 1308.9Q682.6 1303.5 682 1300M683.7 1308.9Q681.4 1303.8 679.4 1300.5M680.6 1308.9Q679.4 1305.4 676.1 1303M681.8 1308.9Q682.3 1302.5 682.8 1298.3M682.1 1308.9Q683.4 1304.3 682.9 1301.3M683.4 1308.9Q683.6 1302.5 684.1 1298.3M683.3 1308.9Q682.3 1304.1 680 1301M687.6 1301.6Q687.9 1296.3 685.7 1292.8M689.8 1301.6Q690.9 1298.2 692.1 1295.9M688.8 1301.6Q687.4 1296.6 687 1293.3M686.2 1301.6Q684.2 1298.4 683.4 1296.4M688.2 1301.6Q687.3 1297.9 686.9 1295.4M686.6 1301.6Q688 1297.9 688.4 1295.5M704.1 1303.7Q705.6 1298.6 709.7 1295.2M703.2 1303.7Q705.1 1300.3 706.3 1298.1M701.8 1303.7Q703.2 1298.9 704.9 1295.7M701.6 1303.7Q700.9 1299.6 699.3 1296.8M702 1303.7Q702.7 1300.8 704.8 1298.9M704.6 1303.7Q705.8 1300.2 708.6 1297.9M703.3 1303.7Q701.4 1299.5 697.5 1296.7M708.5 1303.8Q710.5 1299.3 711.8 1296.2M704.4 1303.8Q704.4 1299.1 704.3 1296M707.4 1303.8Q706 1298.1 702 1294.3M706.4 1303.8Q708 1300.3 708.7 1298M708.3 1301Q706 1296.2 701.7 1293M708.1 1301Q707.2 1296.4 703.8 1293.3M708.6 1301Q707.3 1296 705.9 1292.6M709.5 1301Q710.4 1297.8 712.8 1295.7M711.1 1301Q712.2 1297.2 712.9 1294.7M707.9 1301Q705.4 1297.4 702.9 1295M711.3 1301Q712.5 1297.9 712.6 1295.8M727.7 1306.4Q726.1 1303.3 725.6 1301.2M725.2 1306.4Q725.3 1302.4 724 1299.8M727 1306.4Q727.8 1302 731.3 1299M723.9 1306.4Q723.9 1301.4 724.6 1298.1M549.8 1450.3Q551.5 1447.2 552.7 1445.1M555 1450.3Q555 1445.8 555.9 1442.8M549.7 1450.3Q548.5 1446.6 546.4 1444.2M553.9 1450.3Q554.8 1445.1 555.1 1441.7M551 1450.3Q552.7 1445.5 555.2 1442.3M551 1450.3Q550.1 1444.6 551.1 1440.8M552.2 1450.3Q553.7 1444.9 557.8 1441.3M563.4 1451.3Q566.3 1447.2 568.9 1444.4M566.7 1451.3Q567.5 1447.6 567.3 1445.1M562.7 1451.3Q563.7 1447.4 567.5 1444.8M563 1451.3Q562.9 1448.6 561.4 1446.8M576.9 1451Q576.7 1447.3 576.2 1444.8M573.5 1451Q573.5 1448.5 571.3 1446.7M575 1451Q576.5 1448.6 578.2 1447M576.9 1451Q577.6 1446.9 579.6 1444.1M574.5 1451Q573.7 1445.8 573.7 1442.3M576.7 1451Q577 1448.6 579.5 1446.9M574.1 1451Q573.8 1446.7 575.8 1443.8M584 1454.9Q583.4 1450.1 584.2 1447M581.2 1454.9Q580.4 1450.8 577.3 1448M584.5 1454.9Q584.7 1452.4 586.2 1450.7M583.1 1454.9Q580.5 1451.2 578.7 1448.7M582.6 1454.9Q582.6 1451.3 582.2 1448.9M580.2 1454.9Q580 1451.6 579.2 1449.4M596.4 1453.6Q597 1451.2 598.6 1449.6M601.9 1453.6Q602.1 1450.9 604.8 1449.1M600.1 1453.6Q600.8 1449.3 603.2 1446.5M598 1453.6Q597.5 1448.7 595.1 1445.5M742 1293.1Q740.7 1286.3 736.6 1281.8M737.8 1293.1Q736.2 1288.1 732 1284.7M736.2 1293.1Q734.5 1286.8 733.6 1282.6M739.8 1293.1Q740.1 1287.7 740.7 1284.1M748.2 1287.2Q749 1280.8 751.8 1276.6M746.7 1287.2Q748.7 1283.6 750.9 1281.1M745.5 1287.2Q746.8 1283 747.4 1280.2M745.3 1287.2Q743.8 1279.8 743.1 1274.8M749.2 1287.2Q752.7 1282.4 755.7 1279.2M751.6 1290.6Q752.9 1286.8 755.6 1284.2M748 1290.6Q748.6 1288.1 751.3 1286.4M750.8 1290.6Q751.6 1287.7 753.1 1285.8M749 1290.6Q750.1 1287.7 752.7 1285.7M751.8 1290.6Q752.8 1286 755.2 1282.9M758.3 1293.8Q756.9 1290.5 755.4 1288.2M756.8 1293.8Q756.6 1287.4 757.3 1283.1M756.5 1293.8Q756 1290.4 754.5 1288M755.8 1293.8Q758.1 1288.8 759.8 1285.5M764.9 1293.6Q765.2 1290.1 764 1287.8M768.2 1293.6Q766.4 1287.7 763.4 1283.8M763.7 1293.6Q764.5 1289.9 764.1 1287.5M767.8 1293.6Q766 1290.5 764.8 1288.4M767.2 1293.6Q766.8 1289.3 764 1286.4M768.6 1293.6Q765.8 1289.1 763.7 1286.2M780 1291.9Q776.5 1285.5 773.1 1281.2M780.6 1291.9Q782.2 1288.4 784.8 1286M777.4 1291.9Q778.5 1286 780.6 1282.1M776.8 1291.9Q775.6 1284.2 774.1 1279.1M778.8 1291.9Q777 1286 773.6 1282.1M779.9 1281.1Q779.8 1277 777.7 1274.2M783.5 1281.1Q784.3 1274.9 783.9 1270.8M780.9 1281.1Q783.8 1275.9 788 1272.4M781.7 1281.1Q781.4 1273.8 781.5 1269M786.8 1290Q784.8 1284.6 780.4 1281M784.2 1290Q787.3 1285 791.2 1281.7M789.1 1290Q786.9 1284.3 785.9 1280.5M788.7 1290Q791 1286.9 793 1284.8M788.7 1290Q787.2 1284 786.6 1280.1M787.8 1290Q789.1 1284.1 789.1 1280.1M795.6 1284Q796.7 1278.4 796.5 1274.7M792.6 1284Q791.8 1277.8 792.5 1273.7M792.9 1284Q790.5 1278.6 789.4 1275.1M790.5 1284Q793 1279.3 795.7 1276.1M791.6 1284Q793.9 1276.7 799.6 1271.9M806.6 1280.6Q808.7 1275.8 812.6 1272.6M801.7 1280.6Q799 1275.7 796.7 1272.5M806.7 1280.6Q810 1274.2 814.3 1270M805.1 1280.6Q803.4 1272.8 798.8 1267.7M804.4 1280.6Q805.2 1275.6 807.9 1272.4M801.7 1280.6Q800.8 1273.4 798.4 1268.7M815.5 1280.1Q814.4 1275.7 812.1 1272.9M813.7 1280.1Q813.9 1276.1 815 1273.5M812.6 1280.1Q811.1 1276 808.1 1273.3M814.7 1280.1Q817.8 1274.8 821.4 1271.3M817.8 1294.8Q816.1 1289.1 815.8 1285.3M814.5 1294.8Q814 1290.2 813.8 1287.1M815.7 1294.8Q817.9 1291 819.5 1288.5M818 1294.8Q818.8 1290.1 821.4 1286.9M821.9 1282.4Q820.3 1276.9 819.5 1273.1M824.8 1282.4Q825 1277.4 823.3 1274M825.2 1282.4Q823.5 1278.5 821 1275.8M822.5 1282.4Q820.9 1277.9 816.7 1274.9M832.1 1293.4Q831.8 1288.4 831 1285M827.1 1293.4Q827.6 1289.3 828.7 1286.5M826.9 1293.4Q826.1 1288.5 827.5 1285.3M830.3 1293.4Q828.1 1288.4 824.9 1285.1M830.4 1293.4Q829.9 1290.1 826.9 1287.8M836.6 1293.2Q836.6 1285.9 836.4 1281M838.2 1293.2Q835.8 1285.7 832.4 1280.7M837.4 1293.2Q835.5 1287.1 833.9 1283.1M840 1293.2Q836.3 1286.9 832.7 1282.7M841.9 1293.2Q841.1 1286.6 839.4 1282.2M840.9 1293.2Q841.2 1285.1 841.9 1279.8M838.9 1293.2Q839.9 1285 839.6 1279.5M848 1293.8Q848.4 1285 848.1 1279.1M847.8 1293.8Q847.7 1288.7 849.2 1285.3M848.1 1293.8Q851.1 1286.7 857.6 1281.9M845.8 1293.8Q846.2 1284.6 844.2 1278.6M895.2 1282.6Q894 1278.2 890.5 1275.3M892 1282.6Q892.5 1276.1 892.3 1271.8M892.6 1282.6Q892.4 1276.6 893.8 1272.7M897.7 1282.6Q897.2 1277.3 898.5 1273.7M899.6 1283.4Q901.6 1278.6 904.3 1275.4M898.1 1283.4Q898.2 1278.3 897.8 1274.9M898.1 1283.4Q899.8 1277.5 900.6 1273.5M898.5 1283.4Q898.9 1279 900.6 1276M900.4 1283.4Q899.4 1277.6 898.7 1273.8M899.8 1283.4Q903.3 1276.2 906.1 1271.4M908.4 1290.5Q906.5 1284.7 905.2 1280.9M909 1290.5Q907.4 1283.3 903.8 1278.5M907.6 1290.5Q909.5 1283.7 914 1279.2M905.3 1290.5Q904.9 1284.3 902.5 1280.1M905.7 1290.5Q907.8 1286.7 909.4 1284.2M907.2 1290.5Q909.7 1285.7 911.3 1282.5M916.3 1290.9Q916.7 1286 917.9 1282.7M921.3 1290.9Q922 1285.7 922.5 1282.3M921.5 1290.9Q921.3 1285.9 919.7 1282.5M918.4 1290.9Q918.8 1285.4 920.9 1281.7M921.3 1290.9Q922.1 1282.2 922.7 1276.4M918.6 1290.9Q918.5 1285.4 920.9 1281.8M916.2 1290.9Q919 1283.6 921.2 1278.8M927.8 1286.1Q928.8 1280.5 929.2 1276.8M928.6 1286.1Q927.4 1280.9 925.8 1277.4M926.6 1286.1Q925.9 1282.6 924.2 1280.3M929.5 1286.1Q930.7 1283.2 930.1 1281.2M927.1 1286.1Q928 1282.1 930.5 1279.4M925.5 1286.1Q925.8 1281.9 927.4 1279.2M930.3 1290.9Q927.6 1285.2 925.9 1281.4M931.3 1290.9Q933.3 1284.3 937.3 1279.9M931.8 1290.9Q930 1287.2 928.4 1284.7M933.3 1290.9Q935.5 1286 938.5 1282.7M930.9 1290.9Q934.5 1285.1 938.9 1281.2M931.7 1290.9Q933.7 1284.3 934.6 1280M941.4 1290.5Q941 1286 939.2 1283M942.6 1290.5Q943.8 1284.4 943.5 1280.4M938.3 1290.5Q939.6 1286.7 939.7 1284.2M939.2 1290.5Q938.9 1284.5 938.1 1280.5M937.3 1290.5Q937.4 1287 937 1284.6M948.8 1285.8Q948.4 1278.7 948.9 1274M947.4 1285.8Q944 1280.1 940.5 1276.3M952 1285.8Q951.4 1279.9 950.7 1276M951.2 1285.8Q950.1 1279.5 948.5 1275.3M950.4 1285.8Q949.9 1281.4 951.7 1278.5M952.5 1283.7Q952.7 1278 952.4 1274.3M957.8 1283.7Q958.1 1279.3 959.2 1276.3M954.2 1283.7Q951.7 1280.6 950.4 1278.6M953.1 1283.7Q952.5 1278 950.7 1274.2M956.2 1283.7Q956.3 1279.8 957.3 1277.1M964.4 1289.3Q962.7 1285.9 960.4 1283.6M961.3 1289.3Q961.8 1283.2 961.6 1279.1M961.7 1289.3Q959.6 1282.3 955.1 1277.7M963.6 1289.3Q960.3 1282.5 957.8 1277.9M960 1289.3Q957 1281.9 955 1277M974.2 1293.2Q973.6 1286.3 972.1 1281.7M970.2 1293.2Q971.2 1288.8 971.2 1285.8M972.2 1293.2Q969.6 1289.4 967.5 1286.8M970.8 1293.2Q969.5 1286.4 966.7 1281.8M976 1288.8Q977.4 1283.6 977.5 1280.2M975.2 1288.8Q975.8 1283.8 975.3 1280.5M978.2 1288.8Q978.8 1283.8 978.1 1280.5M976 1288.8Q977 1285.5 980.2 1283.3M977.6 1288.8Q977.9 1282.9 978.3 1279M974 1288.8Q972.5 1285.8 972.2 1283.9M987.3 1287.7Q987.9 1282.7 990 1279.4M988.6 1287.7Q990.4 1282.9 995 1279.8M987.5 1287.7Q986.7 1283.3 984 1280.3M986.4 1287.7Q985.5 1279.8 982.8 1274.5M995.2 1282.3Q993.5 1274.7 992.1 1269.6M991.6 1282.3Q992 1276.9 994.6 1273.3M994.5 1282.3Q994.3 1276.4 993.1 1272.4M994.8 1282.3Q994 1276.4 994.5 1272.5M995.4 1282.3Q993.7 1276.1 989.5 1271.9M945.2 1243Q943 1239 942 1236.3M948.9 1243Q949.2 1237.3 951.4 1233.4M945.5 1243Q945.9 1240 948.8 1238M947.3 1243Q946.7 1239 944.9 1236.3M946.4 1243Q948.6 1238.3 949.5 1235.1M946.2 1243Q947.3 1238.8 947.9 1236M944.5 1243Q942.3 1238.5 939.7 1235.5M961.8 1247.1Q958.6 1241.3 954 1237.5M963.3 1247.1Q962.9 1242.6 963.2 1239.6M961.8 1247.1Q961.1 1242.3 959.9 1239.2M959.2 1247.1Q958.3 1240.2 957.3 1235.7M971.7 1249.3Q969.2 1245.1 967.5 1242.3M967.7 1249.3Q966.5 1244.3 966.7 1240.9M969.6 1249.3Q970.1 1244.1 970.8 1240.6M973.4 1249.3Q971.7 1244.3 969.8 1241M970.5 1249.3Q969 1246.1 966.6 1243.9M971.7 1249.3Q972.6 1244.6 973 1241.4M977.9 1244.2Q977.4 1239.7 976.4 1236.7M978.5 1244.2Q978.1 1241.1 977.6 1239.1M975.6 1244.2Q976.5 1239.8 979.1 1236.8M978.3 1244.2Q976.8 1241.3 976.1 1239.4M975.2 1244.2Q976.7 1241.2 977.6 1239.2M977.2 1244.2Q974.6 1240.5 972.6 1238M995.3 1246.5Q996.8 1243.8 998.8 1242M996.5 1246.5Q996.7 1241.1 995.6 1237.5M992 1246.5Q994.7 1241.7 997.2 1238.4M994.6 1246.5Q992.2 1241.7 989.6 1238.5M994.6 1246.5Q996.6 1242.3 998.7 1239.6M997 1247Q997.2 1243.6 996.6 1241.3M998.7 1247Q1000.3 1243.3 1000.9 1240.8M998.3 1247Q998.8 1241.4 1001.1 1237.7M996.6 1247Q997.3 1243.1 997.7 1240.6M1000.2 1247Q1002.3 1243.1 1005.4 1240.5M995.2 1247Q995.6 1243.1 997 1240.6M1010 1245.6Q1011.8 1239.1 1012.7 1234.8M1007.4 1245.6Q1006.9 1242.1 1006.8 1239.7M1008.4 1245.6Q1007.5 1242.6 1004.8 1240.6M1007.7 1245.6Q1009.3 1241 1013.9 1237.9M1010.1 1245.6Q1010.9 1241.7 1012.8 1239.1M1010.9 1245.6Q1010.7 1239.9 1010.2 1236.1M1009.1 1245.6Q1007.7 1240.2 1005.5 1236.6M1025.7 1244.7Q1028.5 1240.6 1030.4 1237.8M1020 1244.7Q1018.6 1239.3 1017.6 1235.7M1025.2 1244.7Q1026.6 1238.4 1027 1234.2M1023.9 1244.7Q1026.6 1239.6 1029.4 1236.1M1011.3 1187.1Q1009.8 1182.7 1009.1 1179.7M1009.5 1187.1Q1007.6 1181.8 1005.1 1178.2M1010.7 1187.1Q1010.4 1182.7 1011.3 1179.7M1008.1 1187.1Q1006.4 1180.6 1005.5 1176.2M1012.8 1187.1Q1012.3 1183.1 1011.1 1180.4M1020.9 1188Q1019.6 1183 1015.2 1179.6M1018.7 1188Q1019 1181.6 1019.1 1177.4M1023.1 1188Q1023 1183.2 1022 1180M1023.5 1188Q1023 1183.5 1021.7 1180.5M1022.3 1188Q1022.5 1182.4 1022 1178.7M1019.2 1188Q1017.9 1183.9 1015.1 1181.1M1030.4 1190Q1029.4 1185.3 1029.1 1182.2M1032.8 1190Q1033.9 1187.4 1034.2 1185.7M1032.6 1190Q1032.3 1186 1032.8 1183.3M1030.2 1190Q1029.9 1186.6 1031.5 1184.3M1032.9 1190Q1035.1 1186.3 1037.7 1183.8M1031 1190Q1030.2 1186 1028.2 1183.4M1042.9 1190.3Q1043.3 1182.7 1045.6 1177.6M1039 1190.3Q1037.9 1185 1038.5 1181.4M1041.9 1190.3Q1043 1184.6 1046.1 1180.8M1042.2 1190.3Q1040.9 1185.1 1039.1 1181.6M1041.6 1190.3Q1039.1 1185.1 1034.6 1181.6M1042 1190.3Q1043.1 1183.4 1043.9 1178.7M1039.1 1190.3Q1036.7 1183.9 1031.8 1179.7M1043 1191.3Q1041.6 1184.3 1041.1 1179.6M1047.6 1191.3Q1046.6 1185 1043.3 1180.8M1044.7 1191.3Q1044.2 1185.2 1041.6 1181.1M1046.8 1191.3Q1050.6 1185.5 1054.1 1181.6M1043.7 1191.3Q1039.7 1185.6 1036 1181.8M1046.1 1191.3Q1045.7 1185.9 1047.1 1182.3M1047.2 1191.3Q1044.8 1185 1042.7 1180.9M1059.3 1185.1Q1057.3 1180.3 1056 1177.1M1063.2 1185.1Q1065.5 1180.3 1066.8 1177.1M1061.4 1185.1Q1062.7 1181.9 1065.8 1179.8M1062.5 1185.1Q1061.2 1182.5 1059.5 1180.8M1062 1185.1Q1060.7 1182 1060.8 1179.9M1130.5 1282.3Q1128.9 1277 1128.3 1273.4M1132.1 1282.3Q1131.8 1276.3 1133 1272.4M1130.6 1282.3Q1129.8 1276.6 1128 1272.8M1130.4 1282.3Q1129.1 1278 1128.1 1275.2M1131 1282.3Q1130.8 1277.5 1130.7 1274.3M1126.8 1282.3Q1124.5 1277.6 1122.1 1274.5M1127.5 1282.3Q1129.8 1276.7 1132.1 1272.9M1137.9 1283.8Q1139.3 1277.5 1142.8 1273.4M1138.7 1283.8Q1136.5 1279.4 1133.1 1276.5M1135.7 1283.8Q1137.1 1278.9 1137.4 1275.6M1134.1 1283.8Q1134.8 1275.7 1135.8 1270.4M1140.2 1286.9Q1141.1 1282.5 1144.1 1279.6M1137.6 1286.9Q1138.5 1282.9 1137.7 1280.2M1140.9 1286.9Q1141.7 1281.6 1142.9 1278.1M1139.4 1286.9Q1138.1 1283.6 1138.3 1281.4M1137.8 1286.9Q1138.2 1284.1 1136.9 1282.2M1146 1286Q1144.5 1281.3 1140.1 1278.2M1149.8 1286Q1150.5 1281.5 1151.2 1278.5M1147.6 1286Q1148.1 1281.1 1148.4 1277.8M1146.9 1286Q1149.2 1282.7 1150.2 1280.5M1155 1286.5Q1154.9 1280.3 1154.8 1276.1M1151.8 1286.5Q1150.5 1282.2 1147.8 1279.3M1153.5 1286.5Q1152.6 1281.9 1150.2 1278.8M1156.2 1286.5Q1154.9 1282.1 1151.8 1279.1M1152.6 1286.5Q1151.8 1280.3 1152.3 1276.1M1151.6 1286.5Q1153 1282.7 1154.8 1280.1M1158.9 1284.6Q1158.5 1281.7 1155.5 1279.8M1158 1284.6Q1158.8 1280.3 1159 1277.4M1158.4 1284.6Q1158.8 1281.1 1159.7 1278.8M1158.9 1284.6Q1161.7 1280.6 1164.4 1277.9M1162.8 1284.6Q1162.6 1279.6 1163.9 1276.3M1168.7 1287.7Q1170.8 1282.4 1174.7 1278.8M1171.4 1287.7Q1170.8 1284.1 1168 1281.8M1171.9 1287.7Q1172.5 1280.6 1175 1275.8M1173.5 1287.7Q1175.9 1282.2 1179.3 1278.6M1172.2 1287.7Q1174 1283.6 1174.8 1280.8M1173.9 1287.7Q1174.4 1283.7 1174.2 1281M1178.3 1286.4Q1176.2 1279.1 1173.5 1274.3M1178.2 1286.4Q1179.2 1278.9 1179.7 1273.9M1176.5 1286.4Q1174.2 1282.3 1172.1 1279.5M1178.9 1286.4Q1180.5 1281.5 1183.3 1278.3M1178.3 1286.4Q1176.4 1279.7 1173.1 1275.2M1177.5 1286.4Q1176.4 1282.7 1173.8 1280.1M1174.5 1286.4Q1173.8 1280.7 1172 1276.9M1181.7 1282.7Q1181.8 1275.8 1183.5 1271.2M1180.4 1282.7Q1180.8 1277.2 1181.1 1273.6M1182.8 1282.7Q1183.2 1275.7 1182.5 1271.1M1184.5 1282.7Q1183.4 1278.7 1183.6 1276.1M1185 1282.7Q1182.7 1276.9 1181.2 1273M1184.1 1282.7Q1184.4 1276.4 1184.2 1272.2M1192.1 1289.6Q1194 1283.8 1196.4 1280M1191.5 1289.6Q1190.1 1285.9 1187.5 1283.5M1191.7 1289.6Q1193.3 1283.2 1195.1 1279M1189.6 1289.6Q1188.8 1283.1 1186.3 1278.8M1195.7 1285.8Q1194.8 1281.3 1192.3 1278.3M1194.8 1285.8Q1195.6 1281.2 1196.1 1278.2M1194.3 1285.8Q1195.3 1283.4 1197.4 1281.8M1193.9 1285.8Q1193.5 1282 1195.4 1279.5M1196 1285.8Q1197.4 1280.7 1198.4 1277.3M1194.7 1285.8Q1195.6 1281.4 1195.3 1278.5M1202.4 1281.8Q1201.9 1277.3 1203.2 1274.3M1205.6 1281.8Q1204.5 1278 1201.3 1275.4M1204.8 1281.8Q1207.7 1276.4 1211.5 1272.8M1203.3 1281.8Q1205.1 1275 1206.5 1270.5M1202.7 1281.8Q1204.3 1275.2 1206.8 1270.9M1200.7 1281.8Q1200.1 1278.1 1201.4 1275.7M1204 1281.8Q1204.4 1274.8 1206.2 1270.1M1209.2 1281.8Q1209.9 1277.4 1211.4 1274.4M1210.9 1281.8Q1211.3 1277.2 1213.7 1274.1M1211 1281.8Q1209.6 1277.5 1209 1274.6M1208.7 1281.8Q1210.7 1275.1 1212.7 1270.7M1217.6 1287.9Q1215.8 1284.2 1214.9 1281.8M1218 1287.9Q1216.1 1282.7 1212.6 1279.1M1217.2 1287.9Q1216.8 1282.3 1218.7 1278.6M1216.9 1287.9Q1217.7 1282.7 1216.6 1279.2M1216.9 1287.9Q1219.9 1282.8 1222.1 1279.4M1228.5 1287.6Q1226.3 1283 1222.9 1280M1229.7 1287.6Q1229.1 1283.2 1229.7 1280.3M1228.3 1287.6Q1230.9 1283.4 1233.8 1280.6M1229.1 1287.6Q1227.1 1284.7 1225.1 1282.7M1228.9 1287.6Q1228.8 1283.7 1229.9 1281.1M1234 1284.8Q1233.3 1280 1233.1 1276.8M1232.9 1284.8Q1233.4 1279.9 1231.7 1276.6M1233.8 1284.8Q1235.4 1278.8 1236.4 1274.8M1230.6 1284.8Q1231.5 1278.5 1231.4 1274.3M1229.5 1284.8Q1230.4 1280 1232.2 1276.9M1233.2 1284.8Q1231.2 1279.1 1228 1275.4M1230.9 1284.8Q1230.8 1279.9 1228.8 1276.6M1237.2 1289.2Q1238.4 1285.1 1240.4 1282.4M1236.8 1289.2Q1237 1285.1 1235.2 1282.5M1234.2 1289.2Q1234.2 1286.2 1232.5 1284.3M1236.9 1289.2Q1238.7 1286.3 1240.6 1284.3M1235.6 1289.2Q1234.3 1284.3 1231.6 1281.1M1249.2 1283.7Q1250.6 1277.4 1250.9 1273.2M1246 1283.7Q1247.3 1275.5 1248.7 1270M1243.9 1283.7Q1242.9 1275.5 1242.1 1270M1247.7 1283.7Q1246.7 1276.7 1244.6 1272.1M1248.1 1283.7Q1248.2 1275.6 1246.1 1270.1M1246.1 1283.7Q1247 1277.5 1249.9 1273.3M1244.8 1283.7Q1245.9 1279.4 1248.7 1276.5M1056.6 1357.2Q1055.5 1354.2 1053.5 1352.3M1055.9 1357.2Q1053.2 1353.6 1051.2 1351.2M1055.3 1357.2Q1055.2 1353.6 1053.2 1351.2M1053 1357.2Q1052.6 1353.3 1051.2 1350.6M1051.5 1357.2Q1049.9 1352 1046.5 1348.5M1054.2 1357.2Q1056.5 1353.4 1057.7 1350.9M1054 1357.2Q1055.1 1353 1054.4 1350.3M1058.8 1364.7Q1058.6 1358.1 1059.1 1353.7M1059.6 1364.7Q1059.6 1357.4 1060.2 1352.6M1056.9 1364.7Q1056.4 1359.7 1054 1356.4M1059.7 1364.7Q1060.4 1359.9 1063.9 1356.7M1059.8 1364.7Q1061.7 1358.2 1067 1353.8M1058.3 1364.7Q1057 1359.5 1057.4 1356.1M1060.3 1364.7Q1059.4 1359.1 1058.6 1355.4M1063.4 1357.4Q1062.4 1353.8 1060.9 1351.3M1063.8 1357.4Q1064.9 1352 1067.8 1348.5M1061.2 1357.4Q1061.4 1351.9 1063.1 1348.3M1060.3 1357.4Q1058.6 1354 1056.4 1351.7M1062.6 1357.4Q1061.9 1351.2 1061.9 1347.1M1059.8 1357.4Q1058.5 1351.1 1054.2 1346.9M1062.2 1357.4Q1060.4 1353.5 1060.2 1350.9M1071 1366.8Q1069.9 1361.1 1068.4 1357.3M1070.1 1366.8Q1072.2 1362.8 1073 1360.1M1065.5 1366.8Q1063.1 1362 1059.8 1358.9M1069.9 1366.8Q1068.9 1361.3 1065.7 1357.6M1066.5 1366.8Q1065.1 1361.8 1061.6 1358.4M1065.2 1366.8Q1064.8 1361.1 1064.5 1357.3M1070.9 1366.8Q1072.1 1362.1 1074 1359M1075 1362.9Q1076.2 1357.8 1078.1 1354.4M1074.6 1362.9Q1074.1 1358.4 1072.4 1355.3M1076.9 1362.9Q1077.7 1359.5 1081.3 1357.2M1076.7 1362.9Q1077.7 1357.8 1080.4 1354.5M1082.8 1359.4Q1081.4 1354.9 1081.4 1351.9M1087.8 1359.4Q1088.9 1351.4 1090 1346.1M1086 1359.4Q1083.9 1353.8 1079.4 1350M1087.7 1359.4Q1086.6 1354.9 1083.4 1351.9M1084.5 1359.4Q1085.6 1352.3 1088.9 1347.6M1087.8 1362.3Q1088.1 1357.8 1087.6 1354.8M1088.1 1362.3Q1087.5 1358.9 1085.5 1356.7M1091.5 1362.3Q1090.4 1356.9 1088.5 1353.2M1087.8 1362.3Q1085.9 1359.3 1084.4 1357.4M1093.7 1367Q1095.1 1359.7 1097.8 1354.8M1090.4 1367Q1091.9 1361.6 1091.9 1358.1M1094.1 1367Q1096 1362.6 1097.6 1359.6M1092.4 1367Q1090.4 1362.3 1088.3 1359.2M1090.2 1367Q1088.7 1361.2 1084.2 1357.4M1090.6 1367Q1088.8 1363.2 1087.5 1360.6M1092.3 1367Q1089.5 1361.6 1085.5 1358.1M1102.9 1359.3Q1102.6 1356.1 1103.7 1354M1097.8 1359.3Q1098.3 1353.7 1097.7 1349.9M1102.9 1359.3Q1101 1355.5 1098.5 1353M1102.2 1359.3Q1101.2 1354.3 1100.7 1351M1099.1 1359.3Q1098.7 1356.7 1095.9 1355.1M1106.6 1365.7Q1105 1359.8 1102 1355.9M1107.6 1365.7Q1104.6 1359 1102.2 1354.5M1107.9 1365.7Q1108.9 1360 1109.7 1356.2M1106.2 1365.7Q1107.7 1361.4 1110.4 1358.6M1111.1 1365.7Q1110.2 1360.9 1109.2 1357.7M1111.1 1365.7Q1109.9 1360.2 1109.1 1356.6M1107.7 1365.7Q1107.2 1358.3 1105.4 1353.4M1114.6 1359.7Q1113 1355 1113.1 1351.8M1109 1359.7Q1106.5 1356.3 1104.7 1354M1114.8 1359.7Q1115.4 1356.8 1117.7 1354.9M1114.5 1359.7Q1114.2 1354 1112.1 1350.3M1112.3 1359.7Q1114.3 1355.5 1116.9 1352.7M1109.8 1359.7Q1107.6 1355.6 1105.5 1352.9M1121.9 1363.7Q1120.6 1359.8 1117.6 1357.1M1117.4 1363.7Q1119.3 1358 1120.5 1354.2M1121.8 1363.7Q1122.9 1358.6 1124.1 1355.2M1119.8 1363.7Q1117.9 1358.1 1117.1 1354.4M1118.4 1363.7Q1116.8 1358.9 1112.6 1355.6M1121.6 1363.7Q1120.5 1357.5 1120.4 1353.3M1304.4 1362.5Q1302.8 1358.9 1300 1356.5M1303.4 1362.5Q1302.9 1357.7 1301.4 1354.5M1307 1362.5Q1309.6 1358.1 1313.1 1355.2M1307.2 1362.5Q1305 1359 1303.4 1356.7M1306.9 1362.5Q1306.4 1358.3 1305.3 1355.6M1305 1362.5Q1304.6 1358.7 1302.8 1356.1M1303.6 1362.5Q1304.4 1358.5 1306.2 1355.8M1312.7 1363.2Q1311.6 1357.5 1309.1 1353.7M1312.6 1363.2Q1312.7 1357.9 1313.5 1354.3M1314 1363.2Q1312.8 1357.3 1309.5 1353.4M1315 1363.2Q1313.7 1357.4 1310.2 1353.5M1315.6 1363.2Q1315.9 1356.4 1317.6 1351.8M1325.1 1369.5Q1324.4 1365.7 1321.2 1363.1M1319.5 1369.5Q1322.4 1362.8 1325.9 1358.3M1319.5 1369.5Q1316.8 1364.2 1314.2 1360.7M1322.5 1369.5Q1322.2 1364.4 1323 1361M1329.2 1360.5Q1328 1354.6 1327.5 1350.6M1330.2 1360.5Q1328.3 1357.4 1326.6 1355.4M1326.4 1360.5Q1326.5 1354.4 1325.9 1350.3M1328.2 1360.5Q1328.3 1354.6 1330.5 1350.7M1338.2 1358.1Q1338.2 1351.9 1338.3 1347.8M1334 1358.1Q1335.3 1354.2 1334.9 1351.6M1333 1358.1Q1334.2 1351.9 1333.9 1347.8M1337.2 1358.1Q1335.3 1352.9 1334.8 1349.4M1334.6 1358.1Q1336.4 1353.3 1336.7 1350.2M1333.1 1358.1Q1334.6 1354.5 1337.9 1352M1338.7 1358.1Q1338.8 1350.9 1336.8 1346.2M1348.9 1368.4Q1350.3 1364.7 1350.3 1362.2M1347.9 1368.4Q1348 1362.8 1349.4 1359M1352 1368.4Q1349.5 1362.3 1346.6 1358.2M1347.4 1368.4Q1347.7 1364.2 1347.8 1361.3M1348.4 1368.4Q1350.6 1362.4 1352.9 1358.4M1352.6 1368.4Q1353.6 1364.4 1352.8 1361.8M1352.1 1368.4Q1349.5 1362.4 1346.6 1358.4M1351.8 1357.1Q1352.5 1353.9 1354.5 1351.8M1353.5 1357.1Q1356.5 1352.3 1359.7 1349M1356.1 1357.1Q1356.9 1352.5 1359.8 1349.4M1351.8 1357.1Q1351.8 1353.9 1349.3 1351.7M1355.3 1357.1Q1356.1 1352.1 1356.7 1348.9M1352.1 1357.1Q1351.9 1354.1 1350.2 1352.1M1359.3 1358.7Q1357.1 1353.9 1355.6 1350.8M1362.3 1358.7Q1361.8 1353.7 1358.9 1350.4M1360.5 1358.7Q1361.7 1354.9 1365 1352.5M1362.2 1358.7Q1360.9 1354.6 1359.2 1351.9M1361.7 1358.7Q1363.1 1352.4 1363.4 1348.2M1360.1 1358.7Q1360.3 1352 1359 1347.5M1374.6 1365.8Q1373.8 1359 1375 1354.5M1372 1365.8Q1375.5 1360.3 1379.6 1356.7M1373.5 1365.8Q1372.9 1358.7 1374.4 1354M1371.5 1365.8Q1370.9 1359.5 1368.4 1355.3M1378.6 1365.3Q1380.3 1357.9 1382 1352.9M1376.9 1365.3Q1374.9 1360.2 1371.4 1356.8M1378.2 1365.3Q1380 1360 1383.7 1356.4M1381.2 1365.3Q1379.6 1360.7 1375.2 1357.6M1388.4 1370.6Q1389.1 1366.8 1390.3 1364.3M1390 1370.6Q1389.9 1365.3 1388.3 1361.8M1390 1370.6Q1389.8 1363.8 1390.1 1359.2M1391.1 1370.6Q1393 1364.3 1395.2 1360.2M1388.8 1370.6Q1387.1 1364.8 1383.6 1361M1397.6 1367.1Q1397.5 1362.2 1395.1 1358.9M1392.2 1367.1Q1388.9 1361.2 1384 1357.3M1395.8 1367.1Q1395.8 1359.3 1395.8 1354M1394.9 1367.1Q1392.9 1360.5 1390.2 1356M1397.5 1367.1Q1397.4 1362.8 1398.5 1359.9M1393.4 1367.1Q1393.7 1359.3 1395.8 1354.1M1393 1367.1Q1389.8 1362.4 1387.3 1359.2M1402.9 1362.5Q1401.3 1358.5 1398 1355.8M1405.4 1362.5Q1406.6 1356.6 1406.9 1352.7M1405.3 1362.5Q1404.7 1357.9 1401.6 1354.8M1404 1362.5Q1402.1 1358.7 1399.9 1356.1M1411.1 1365.3Q1410.6 1360.9 1410.8 1357.9M1407.2 1365.3Q1405.9 1360.5 1406.2 1357.4M1409.1 1365.3Q1408.8 1357.5 1410.4 1352.3M1410.6 1365.3Q1412.3 1359.3 1413.9 1355.3M1407.5 1365.3Q1407.1 1358 1406.2 1353.2M1409.6 1365.3Q1410.4 1357.8 1411.8 1352.8M1419.8 1364.2Q1420.5 1355.8 1424 1350.2M1424.8 1364.2Q1426 1359.3 1426.3 1356M1421.7 1364.2Q1424.6 1359.4 1428.5 1356.2M1421 1364.2Q1421.1 1359.8 1422.4 1356.8M1422.8 1364.2Q1424 1358.8 1426.6 1355.3M1427.1 1361.2Q1429.2 1357.4 1430.2 1354.9M1422.3 1361.2Q1421.4 1356 1422 1352.5M1427.2 1361.2Q1426.4 1356.6 1423.2 1353.6M1427.6 1361.2Q1426.5 1354.8 1427.1 1350.5M1439.5 1363.1Q1438.4 1356.6 1434.8 1352.3M1436.4 1363.1Q1434.3 1355 1433.6 1349.7M1439.7 1363.1Q1442.7 1357.8 1446.8 1354.3M1439.9 1363.1Q1439.7 1356.5 1438.2 1352.1M1446.8 1367Q1445.4 1362.4 1441.7 1359.3M1445.6 1367Q1444.5 1362.7 1443.6 1359.9M1445.1 1367Q1443.7 1364.2 1441.5 1362.3M1445.5 1367Q1446.7 1361.9 1449.3 1358.5M1446.4 1367Q1446 1361.5 1446.2 1357.9M1450.4 1367Q1451.3 1364 1452.4 1362M1444.8 1367Q1446 1364.3 1448.5 1362.5M1129.7 1373.3Q1130.6 1367.9 1132.1 1364.4M1133.2 1373.3Q1130.7 1369 1127.9 1366.2M1134.6 1373.3Q1134.5 1368.7 1135.4 1365.7M1131.1 1373.3Q1129.8 1369.2 1128 1366.6M1131.9 1372.8Q1134.1 1368.5 1137.2 1365.7M1137 1372.8Q1137.8 1368.5 1137.5 1365.6M1133.2 1372.8Q1134.2 1368.8 1133.9 1366.2M1131.5 1372.8Q1132.4 1369.2 1131.8 1366.8M1142.6 1369.3Q1141.9 1364.9 1139.1 1362M1141 1369.3Q1142.5 1364.6 1143.2 1361.4M1142.3 1369.3Q1144.2 1364.4 1144.8 1361.2M1139.9 1369.3Q1141.5 1365.1 1142.5 1362.3M1141.8 1369.3Q1143.8 1365.6 1146 1363.1M1140.5 1369.3Q1140.8 1365 1142.6 1362.2M1144.6 1369.3Q1145.9 1365 1148.5 1362.1M1155.7 1365.1Q1155.2 1360.6 1155.2 1357.6M1157.4 1365.1Q1157.5 1360 1157 1356.6M1157.7 1365.1Q1156.7 1360.9 1153.7 1358.1M1157.6 1365.1Q1156.5 1358.1 1154.7 1353.4M1156.6 1365.1Q1156.1 1359 1155.1 1354.9M1154.9 1365.1Q1158 1360.3 1161.1 1357.1M1164.2 1363.4Q1163.6 1358.8 1164.7 1355.7M1163.2 1363.4Q1165.6 1358.5 1168.7 1355.3M1165.2 1363.4Q1164.3 1357.6 1164.7 1353.7M1160.9 1363.4Q1163.1 1360.2 1164.9 1358M1163.2 1363.4Q1164.8 1358.6 1166.4 1355.4M1165.6 1363.4Q1163.9 1357.7 1159.5 1353.9M1172.7 1375Q1172.4 1370.9 1172.2 1368.2M1170.8 1375Q1169.8 1369.6 1166.8 1365.9M1174.6 1375Q1176 1369.1 1177.1 1365.2M1172.5 1375Q1175 1369.7 1178.2 1366.2M1174.1 1375Q1173.3 1369.2 1174.2 1365.3M1179.7 1360.6Q1178.3 1357.5 1176.5 1355.4M1183.8 1360.6Q1184 1356 1184.8 1352.9M1180.5 1360.6Q1179.6 1357.2 1180 1354.8M1181.7 1360.6Q1181.8 1355.3 1182.4 1351.8M1180.3 1360.6Q1178.2 1355.5 1177.6 1352M1184.8 1360.6Q1185.6 1357.4 1186 1355.3M1192.6 1373Q1195.4 1367.8 1197.4 1364.3M1191 1373Q1192.2 1368.5 1192.3 1365.5M1191 1373Q1189.6 1369.2 1190 1366.6M1192.7 1373Q1192.3 1367.5 1192.7 1363.9M1188.7 1373Q1189.6 1368.9 1193.3 1366.2M1191.9 1373Q1192.8 1368.7 1191.8 1365.8M1191.6 1373Q1190.3 1368.5 1186.6 1365.4M1198.9 1370.9Q1197.8 1364.9 1195.2 1361M1198.4 1370.9Q1199.6 1365.1 1200.9 1361.2M1195 1370.9Q1197 1365.8 1200.3 1362.5M1196.9 1370.9Q1198.8 1365.7 1202.4 1362.3M1205.5 1370.6Q1206.5 1365.9 1208.1 1362.7M1211.1 1370.6Q1210.7 1367.6 1208.6 1365.6M1205.6 1370.6Q1206.1 1366.6 1206.8 1363.9M1205.9 1370.6Q1206.8 1367 1209.2 1364.6M1205.8 1370.6Q1206.2 1367.8 1208.4 1365.9M1207.8 1370.6Q1208.8 1367 1208.6 1364.5M1208.4 1364.6Q1208.6 1360.6 1206.9 1357.9M1213.5 1364.6Q1212.2 1359.5 1209 1356.2M1211.3 1364.6Q1209.4 1359.5 1208.1 1356.1M1211.4 1364.6Q1213 1359.7 1214.1 1356.5M1220.2 1372.5Q1219.5 1365.4 1219.8 1360.7M1216.2 1372.5Q1217.1 1367.6 1218.4 1364.3M1219.4 1372.5Q1218.9 1367.8 1218.7 1364.7M1220.4 1372.5Q1218.6 1367.1 1218 1363.5M1219.7 1372.5Q1220.1 1367.6 1220.1 1364.3M1216.3 1372.5Q1217.5 1368 1217.9 1365M1225.3 1366.3Q1226.3 1360.7 1228.5 1356.9M1227.4 1366.3Q1228.5 1362 1229.4 1359.2M1224.7 1366.3Q1225.1 1362.9 1227.6 1360.6M1225.8 1366.3Q1225 1361.7 1225.2 1358.7M1229.8 1366.3Q1228.4 1363.1 1225.5 1360.9M1239.6 1360.9Q1237.7 1355.4 1233.5 1351.7M1238.4 1360.9Q1238.6 1353.6 1240.9 1348.8M1241.3 1360.9Q1238.9 1356.1 1237.5 1352.9M1241.9 1360.9Q1241.9 1352.7 1241 1347.3M1246.6 1363.6Q1246.8 1360.2 1244.7 1357.9M1245.3 1363.6Q1243.1 1357.8 1241.9 1353.9M1246.6 1363.6Q1248.6 1360.4 1250.8 1358.3M1246.8 1363.6Q1245.2 1359.1 1242.3 1356.2M1249.4 1368.4Q1247.3 1364.1 1244.4 1361.1M1251.7 1368.4Q1254 1365.1 1255.1 1362.9M1252.1 1368.4Q1253.5 1364.3 1253.7 1361.5M1253.5 1368.4Q1253.9 1363.4 1254.4 1360M1264.7 1362.5Q1265.5 1358.1 1265.1 1355.2M1264.6 1362.5Q1264.2 1355.6 1264.3 1351M1262.8 1362.5Q1264.7 1356.5 1265.3 1352.6M1264.7 1362.5Q1261.5 1356.8 1258.7 1353.1M1271.5 1363.6Q1271.5 1355.5 1272.5 1350.1M1271.6 1363.6Q1271.1 1359.1 1270.5 1356.1M1268.6 1363.6Q1269.7 1358.5 1273.7 1355.1M1268.9 1363.6Q1265.3 1357.1 1260.5 1352.8M1270.5 1363.6Q1273.2 1357.4 1275 1353.3M1425.4 1284.3Q1422.6 1280.1 1420.3 1277.3M1427.9 1284.3Q1429.6 1279.9 1431.2 1277M1428.6 1284.3Q1430.6 1281.4 1431.4 1279.5M1429 1284.3Q1427.6 1281.7 1425.7 1279.9M1429.3 1284.3Q1429.7 1281.8 1432.1 1280.1M1427 1284.3Q1426.6 1281.6 1424.7 1279.8M1435.3 1297.2Q1432.2 1291.7 1429.8 1288.1M1436.6 1297.2Q1435.6 1292.3 1433 1289.1M1435.7 1297.2Q1435.3 1292.8 1434.6 1289.8M1432.8 1297.2Q1430.6 1289.6 1429.6 1284.5M1439.7 1299Q1437.8 1294.8 1436.2 1292M1443.5 1299Q1444 1295.1 1444.2 1292.6M1444 1299Q1442.7 1295.1 1442.9 1292.5M1443 1299Q1440.4 1293.9 1436 1290.5M1443.5 1299Q1442.3 1293.5 1440.6 1289.8M1440.4 1299Q1439 1295.6 1437.1 1293.4M1442.9 1299Q1442.1 1295.2 1440.5 1292.7M1455.6 1290.1Q1454.4 1287.1 1454.5 1285.1M1456.3 1290.1Q1457 1286.7 1456.6 1284.5M1458.8 1290.1Q1459.3 1286.4 1459.1 1283.9M1459 1290.1Q1458.6 1286.6 1457.1 1284.3M1455.2 1290.1Q1457.4 1286.5 1459.8 1284.1M1455.9 1290.1Q1453.8 1286.1 1450.9 1283.4M1463.6 1287Q1461.3 1283.1 1459.6 1280.5M1460.8 1287Q1457.6 1281.8 1454.1 1278.3M1462.9 1287Q1463 1280.1 1462 1275.6M1461 1287Q1462.3 1282.4 1465.7 1279.4M1469.7 1293.3Q1467.6 1289 1464.8 1286.2M1470.4 1293.3Q1468.8 1288.5 1467.1 1285.2M1471.5 1293.3Q1470.9 1289.4 1471.1 1286.8M1472.8 1293.3Q1471.8 1290 1471.5 1287.8M1471.9 1293.3Q1470.7 1289.2 1467.8 1286.5M1480.6 1295.2Q1480.8 1290.3 1481.5 1287M1480.5 1295.2Q1480.6 1289.3 1480.8 1285.4M1481.8 1295.2Q1482.4 1292 1481.5 1289.8M1480.5 1295.2Q1480.3 1290.9 1477.9 1288.1M1484.6 1295.2Q1486.8 1290.3 1490.5 1287M1492.3 1283.9Q1492.3 1278 1491.3 1274M1487.9 1283.9Q1486.2 1278.5 1482.2 1274.9M1488.8 1283.9Q1489.5 1278.1 1491.4 1274.3M1487.5 1283.9Q1485.8 1275.9 1482.4 1270.6M836.2 1374.9Q839 1370.3 842.2 1367.3M839.1 1374.9Q837.4 1368.2 833.8 1363.7M837.6 1374.9Q835.3 1370 830.7 1366.6M839.9 1374.9Q840.4 1369.8 840.2 1366.3M853 1372.6Q853.5 1368.3 854.2 1365.4M847.7 1372.6Q849.1 1368.9 851.7 1366.4M849.6 1372.6Q849.7 1369.2 849.3 1366.9M852 1372.6Q852.2 1367.7 854.4 1364.4M855.3 1373.3Q857.7 1366.5 859.5 1362M853.7 1373.3Q853.4 1367.4 853.7 1363.5M858.3 1373.3Q858 1367.1 857.6 1363M858.7 1373.3Q858.9 1365.8 859.3 1360.8M857.5 1373.3Q857.6 1366.5 855.4 1362M867.9 1380.3Q865.6 1373 859.9 1368.2M870.4 1380.3Q868.3 1375.3 865.3 1372M869.9 1380.3Q871.9 1374.2 875.8 1370.2M867 1380.3Q869.5 1374.7 874.2 1371M875.8 1371.2Q873.3 1366.4 869.4 1363.1M874.8 1371.2Q874.5 1365.9 872.7 1362.4M874 1371.2Q874 1365.5 873.8 1361.7M876.2 1371.2Q875.6 1365.9 875.7 1362.3M884.1 1379.5Q884.9 1376 886.4 1373.7M886.2 1379.5Q883.7 1373.3 881 1369.2M886.1 1379.5Q889.2 1374.3 892.9 1370.8M882.2 1379.5Q880.5 1375.6 878.8 1373M883.1 1379.5Q881.7 1375.6 879.3 1373M884 1379.5Q881.9 1375.7 879.2 1373.2M889.1 1380.8Q888.5 1375.6 887.9 1372.2M892.6 1380.8Q893 1377.4 891.2 1375.2M891 1380.8Q889.7 1375 888.7 1371.2M891.6 1380.8Q893.6 1375.2 898.3 1371.5M1131.3 1302.7Q1132.8 1296.6 1134.7 1292.6M1135.5 1302.7Q1134.6 1298.1 1133.4 1295.1M1134.3 1302.7Q1133.2 1299.7 1131.1 1297.7M1132.1 1302.7Q1129.5 1296.6 1128 1292.6M1148 1306.4Q1150.4 1302.3 1153.4 1299.5M1149.1 1306.4Q1148.9 1302.4 1149.2 1299.8M1147.4 1306.4Q1147.5 1301.3 1150.1 1297.9M1147.7 1306.4Q1147.2 1301.6 1146 1298.4M1160.1 1302.8Q1162.4 1298.3 1163.5 1295.2M1156.1 1302.8Q1155.7 1295.5 1154.8 1290.6M1158.1 1302.8Q1157.1 1298.9 1153.8 1296.3M1161 1302.8Q1163.2 1299.6 1165.3 1297.5M1160.7 1302.8Q1158.6 1298.2 1155.8 1295.2M1159.8 1302.8Q1159.4 1296.2 1160.6 1291.8M1158.6 1302.8Q1156.1 1298 1154.8 1294.7M1180.3 1303.2Q1178.5 1298.1 1176.8 1294.6M1180.1 1303.2Q1181.1 1298.2 1181.8 1294.9M1184.8 1303.2Q1184.4 1299.7 1183 1297.4M1182.4 1303.2Q1181 1298.9 1176.7 1296M1182.3 1303.2Q1182.5 1299 1183.3 1296.2M1185.2 1303.2Q1184.7 1298.3 1182.3 1295M1179.5 1303.2Q1178.4 1297.9 1177.9 1294.4M1192.9 1308.8Q1192.7 1305.3 1191.7 1303M1192.5 1308.8Q1194.2 1306 1196 1304.1M1194.5 1308.8Q1193.5 1305.5 1190.7 1303.2M1192.7 1308.8Q1192.7 1304.9 1193.6 1302.3M1192.4 1308.8Q1194.6 1303.4 1197.1 1299.8M1204.7 1305.7Q1202.6 1301.9 1199.6 1299.4M1203.1 1305.7Q1201.5 1299.7 1200.8 1295.7M1207.8 1305.7Q1207.1 1302.2 1205.4 1299.8M1205.6 1305.7Q1207.2 1301.3 1209.3 1298.4M1205.2 1305.7Q1205.2 1302.3 1207.3 1300.1M1226.9 1302.5Q1228.6 1298.8 1228.7 1296.3M1225.3 1302.5Q1225.1 1295.8 1225.7 1291.3M1225.1 1302.5Q1226.3 1298.9 1227.2 1296.5M1225.5 1302.5Q1227.3 1298.2 1227.5 1295.3M1225 1302.5Q1223.6 1296.5 1223.9 1292.5M1225.5 1302.5Q1224.5 1297.6 1225.3 1294.4M1237 1305.2Q1234.4 1301.6 1232.6 1299.3M1240.4 1305.2Q1238 1300.5 1235.9 1297.3M1237.8 1305.2Q1238.8 1301.8 1239.2 1299.5M1239 1305.2Q1238.6 1300.1 1236.3 1296.7M1239.9 1305.2Q1240.5 1300.1 1243.4 1296.7M1240.1 1305.2Q1242.2 1299.8 1244.4 1296.2M1257.7 1308.6Q1259.5 1305.2 1262.1 1303M1260 1308.6Q1260.9 1303.5 1262.5 1300.1M1258.6 1308.6Q1260.2 1304.9 1263.2 1302.5M1257.1 1308.6Q1256.9 1304.2 1254 1301.3M1259.1 1309.1Q1259.6 1304.9 1261.2 1302.1M1262.5 1309.1Q1260.8 1306 1259.4 1303.9M1262.2 1309.1Q1263.4 1305.9 1266.4 1303.8M1259.3 1309.1Q1261 1306.2 1261.9 1304.2M1259.9 1309.1Q1260.8 1304.4 1259.7 1301.2M1261.5 1309.1Q1261.8 1306 1261.4 1303.9M1274.3 1308.8Q1275.4 1303 1277.7 1299.1M1278.3 1308.8Q1277.1 1305.2 1275.7 1302.8M1276.3 1308.8Q1275.7 1304.5 1273.4 1301.6M1277.8 1308.8Q1279.7 1304 1281 1300.7M1302 1307.1Q1304.3 1302.7 1308 1299.8M1302.5 1307.1Q1301.5 1302.3 1297.8 1299.1M1306.1 1307.1Q1303.5 1302 1299.5 1298.5M1304.8 1307.1Q1302.6 1303.6 1300.2 1301.3M1305.7 1307.1Q1304.9 1301.3 1302.9 1297.4M1303.9 1307.1Q1303.6 1301.5 1304.2 1297.8M1304.4 1307.1Q1305 1301.5 1304.4 1297.7M1312.8 1309.9Q1315 1306.1 1316.5 1303.6M1311.2 1309.9Q1311.3 1305.8 1310.6 1303.1M1311.1 1309.9Q1312.8 1303 1315.8 1298.5M1314.7 1309.9Q1313.9 1304.6 1312.3 1301.1M1313.3 1309.9Q1313.2 1303.8 1313.2 1299.7M1310.4 1309.9Q1310.2 1305.4 1311.1 1302.3M1314.2 1309.9Q1315.2 1304.5 1315.3 1300.9M1325.7 1309.5Q1326.2 1305.2 1329.4 1302.3M1321.9 1309.5Q1323.2 1305.4 1326.1 1302.6M1325.2 1309.5Q1324.1 1304.7 1323.6 1301.5M1326.7 1309.5Q1326.6 1303.9 1328.7 1300.1M1321.4 1309.5Q1320.2 1304.8 1319.2 1301.7M1342.4 1303Q1342.1 1297.3 1339.2 1293.4M1342.3 1303Q1342.4 1298.1 1340.9 1294.8M1340.9 1303Q1338.8 1297.9 1335.6 1294.6M1342.6 1303Q1343.5 1298.5 1345.5 1295.6M1344 1303Q1344.3 1297.7 1343.2 1294.1M1340.6 1303Q1341.4 1298.1 1344.8 1294.9M1340.3 1303Q1342.9 1299.2 1345.6 1296.6M1463.1 1309.3Q1462.2 1305.9 1461.2 1303.6M1464.8 1309.3Q1464.5 1306.9 1463.9 1305.3M1461.8 1309.3Q1460.9 1305.6 1460 1303.2M1463.9 1309.3Q1463.2 1306 1461.9 1303.8M1463 1309.3Q1463.6 1306.1 1466.1 1303.9M1464.8 1309.3Q1465.7 1305.5 1464.8 1302.9M1471.4 1310.7Q1473 1306 1476.9 1302.8M1475.5 1310.7Q1475.9 1306.6 1475.2 1303.8M1476.2 1310.7Q1478.5 1306.5 1479.8 1303.8M1472.6 1310.7Q1473 1304.7 1474.6 1300.6M1472.5 1310.7Q1470.2 1305.7 1468.2 1302.4M1475.8 1310.7Q1474.4 1307.7 1473.1 1305.7M1473.6 1310.7Q1474.3 1304.1 1473.4 1299.7M1485 1313.2Q1486.3 1310.6 1486 1308.9M1485.1 1313.2Q1484.2 1310.9 1485 1309.4M1485.3 1313.2Q1485.5 1309.1 1486.3 1306.4M1480.5 1313.2Q1480.9 1309.6 1479.3 1307.2M1480.6 1313.2Q1481.6 1310.8 1481.9 1309.2M1484.9 1313.2Q1487.1 1310.4 1488.1 1308.6M1498.2 1313.3Q1499.5 1307.3 1499.6 1303.3M1500.8 1313.3Q1503 1307.4 1504.2 1303.5M1497.6 1313.3Q1496.2 1309.8 1495.2 1307.5M1496.7 1313.3Q1496.2 1307 1495.3 1302.7M1499.6 1313.3Q1500.3 1309.6 1501.4 1307.2M1048.8 1394.1Q1046.8 1386.7 1046.4 1381.8M1048.9 1394.1Q1052.1 1388.5 1056 1384.8M1048.6 1394.1Q1050.9 1388.1 1055.7 1384M1049.6 1394.1Q1049.6 1388.4 1050.3 1384.6M1049 1394.1Q1051.1 1389.7 1052.5 1386.7M1056.9 1387.6Q1055.2 1380.8 1053.6 1376.3M1055 1387.6Q1056 1383.9 1058.4 1381.4M1057.1 1387.6Q1058.3 1382.2 1061.3 1378.6M1055.3 1387.6Q1053.4 1382.2 1049.3 1378.6M1054.9 1387.6Q1057.5 1383.6 1059.4 1380.9M1053.9 1387.6Q1051.5 1384 1050.2 1381.6M1060.3 1389.5Q1060.4 1385.4 1059.9 1382.7M1060.8 1389.5Q1061.5 1382.5 1063 1377.9M1060.5 1389.5Q1060.4 1384.4 1062.1 1381M1065 1389.5Q1065.7 1381.7 1065.3 1376.5M1064.8 1389.5Q1066.5 1383.6 1069.9 1379.7M1061.6 1389.5Q1061.8 1382.6 1061.2 1378.1M1072.8 1388.7Q1072.9 1384.3 1071.4 1381.3M1070.6 1388.7Q1071 1385.4 1071.2 1383.2M1071 1388.7Q1071.4 1384.8 1072.1 1382.1M1070.8 1388.7Q1069.7 1383 1067.5 1379.2M1076.2 1388.7Q1075.9 1385 1077.1 1382.5M1073.6 1388.7Q1074.4 1385.4 1074.2 1383.2M1073.5 1388.7Q1075.1 1383.8 1079.1 1380.5M1074.1 1387.2Q1073.5 1380.9 1070.8 1376.6M1075 1387.2Q1076.2 1378.4 1077.1 1372.6M1074.2 1387.2Q1073.3 1381 1073 1376.8M1078.7 1387.2Q1076.9 1380.4 1074.8 1375.9M1073.4 1387.2Q1073.7 1380.9 1076.1 1376.8M1077.4 1387.2Q1076.6 1379.9 1074.3 1375.1M1090.1 1389.4Q1090.2 1385.8 1090.6 1383.5M1088.5 1389.4Q1088.4 1384.1 1086.7 1380.5M1084.5 1389.4Q1085.7 1383.5 1087.5 1379.6M1088.5 1389.4Q1087.1 1382.8 1086.7 1378.4M1098.6 1396.6Q1097.9 1390.4 1098.6 1386.2M1094.2 1396.6Q1092.6 1391.8 1092.1 1388.6M1098.5 1396.6Q1097.8 1393.7 1094.9 1391.7M1095 1396.6Q1097.2 1390.7 1098.5 1386.8M1094.9 1396.6Q1095.1 1391 1096.4 1387.2M1104.6 1393.7Q1104.9 1384.6 1105.8 1378.4M1101.9 1393.7Q1100.4 1389.2 1098.3 1386.1M1101.5 1393.7Q1100.1 1387.5 1096.1 1383.3M1106.7 1393.7Q1106.8 1386.8 1106.6 1382.2M1105.1 1393.7Q1104.2 1388.4 1104.6 1384.9M1107.5 1394.9Q1109.3 1389 1111.1 1385.1M1104.2 1394.9Q1102.9 1388.6 1099.7 1384.4M1105.6 1394.9Q1103.7 1389 1100.9 1385M1105.9 1394.9Q1105.2 1391.1 1101.8 1388.5M1109.7 1394.9Q1107.4 1390.8 1105.8 1388.1M1128.8 1427.4Q1127.5 1420 1128 1415.1M1130.9 1427.4Q1133.1 1422.4 1137.3 1419.1M1131 1427.4Q1132.5 1421.2 1134.4 1417M1129.1 1427.4Q1127.7 1423.7 1126.5 1421.3M1130.9 1427.4Q1129.1 1424.1 1127 1421.9M1131 1427.4Q1131.3 1423 1130 1420M1126.2 1427.4Q1124.2 1421.5 1119.9 1417.6M1139.3 1411.1Q1138.7 1403.9 1135.8 1399.1M1137 1411.1Q1138.6 1405.5 1142.9 1401.7M1137.5 1411.1Q1136.7 1406.2 1136 1402.9M1135.4 1411.1Q1133.8 1404.8 1131.9 1400.6M1148.5 1423.8Q1145.7 1419.4 1143 1416.5M1148.7 1423.8Q1149.7 1419.2 1150.7 1416.2M1148.3 1423.8Q1149.2 1418.5 1148.6 1415M1146.4 1423.8Q1147.2 1419.1 1146.2 1416M1163.5 1416.2Q1163.8 1409.6 1164.3 1405.2M1164.7 1416.2Q1165 1411.2 1163.7 1407.9M1165 1416.2Q1163.3 1410.9 1163.2 1407.3M1165.1 1416.2Q1166.9 1411.5 1167.9 1408.3M1166.5 1418.6Q1167.2 1412.5 1167.7 1408.4M1167.7 1418.6Q1165.3 1410.8 1163.2 1405.5M1166.1 1418.6Q1164.7 1411.9 1160.8 1407.5M1162.5 1418.6Q1159.5 1413.1 1156.8 1409.4M1166.6 1418.6Q1165.5 1413 1162 1409.3M1165.4 1418.6Q1168.4 1413.2 1172.2 1409.7M1182.5 1419.9Q1183.2 1415.8 1185.7 1413M1182.9 1419.9Q1183.9 1413.5 1187.9 1409.2M1183.2 1419.9Q1183.8 1415.1 1183 1411.9M1182.3 1419.9Q1184.9 1414.3 1187.4 1410.5M1182.4 1419.9Q1181.4 1414.7 1177.8 1411.2M1184.6 1419.9Q1185 1414.2 1187.9 1410.4M1183.5 1419.9Q1183.9 1414.7 1182.9 1411.3M1190.3 1420.5Q1192.9 1416 1196.2 1413.1M1188.8 1420.5Q1189 1416.5 1189.3 1413.9M1190 1420.5Q1191 1415.6 1191 1412.3M1189.1 1420.5Q1188.9 1415.2 1188.9 1411.7M1191.3 1420.5Q1190.6 1417.3 1189.9 1415.2M1191.6 1420.5Q1191.1 1415.9 1191.3 1412.8M1187.6 1420.5Q1187.6 1417.5 1189.1 1415.5M1199.7 1422.8Q1201.9 1417.7 1205.4 1414.3M1197.8 1422.8Q1199.6 1417.9 1202.6 1414.6M1197.6 1422.8Q1199.7 1418.3 1202.9 1415.4M1196.7 1422.8Q1198.6 1419.7 1200.6 1417.7M1196.5 1422.8Q1194 1418.7 1192 1415.9M1201.1 1422.8Q1201 1416.9 1201 1412.9M1205.3 1415.5Q1208.2 1409.9 1210.8 1406.1M1204.7 1415.5Q1206.3 1411.3 1209.1 1408.4M1205.7 1415.5Q1205.8 1410.2 1207.2 1406.6M1204.6 1415.5Q1204.4 1409.1 1202.2 1404.9M1208.5 1415.5Q1207.3 1410.2 1205.5 1406.7M1209.9 1415.5Q1211.1 1407.5 1213.1 1402.2M1221.7 1409.1Q1222.2 1404.5 1224.9 1401.4M1217.6 1409.1Q1217.1 1404.4 1218.3 1401.3M1220.9 1409.1Q1220.2 1405.2 1218.1 1402.6M1221.8 1409.1Q1222.2 1404.7 1224.6 1401.9M1230.3 1409.6Q1229.5 1405.2 1229.6 1402.2M1228.7 1409.6Q1229 1405.8 1231.6 1403.2M1227.8 1409.6Q1227.5 1404.2 1226.2 1400.6M1228.2 1409.6Q1225.9 1404.7 1223.9 1401.5M1228.1 1409.6Q1229.2 1405.6 1231.1 1402.9M1244.8 1410.1Q1244.5 1403.8 1244 1399.6M1242.9 1410.1Q1241.7 1406.2 1238.4 1403.6M1240.7 1410.1Q1241.3 1405.2 1240 1401.9M1246.4 1410.1Q1245.6 1405.2 1242 1401.8M1253.3 1408.3Q1252.2 1400.4 1251.5 1395.1M1250 1408.3Q1251.6 1399.7 1255.1 1394.1M1254.2 1408.3Q1254.3 1399.2 1254.8 1393.1M1254.7 1408.3Q1253.1 1401.6 1249.8 1397.1M1254.7 1408.3Q1256.1 1399.7 1258.8 1393.9M1250.2 1408.3Q1248.2 1402.7 1246 1398.9M1250.7 1408.3Q1253.4 1400.4 1255 1395.2M1255 1425.9Q1256.7 1421.6 1257.7 1418.8M1259.5 1425.9Q1260.4 1421.1 1260.5 1417.8M1255.2 1425.9Q1256.8 1422.5 1259.8 1420.3M1255.1 1425.9Q1256.1 1420.7 1256.7 1417.2M1259.3 1425.9Q1257.5 1421.5 1255 1418.5M1260.8 1425.9Q1263.9 1420.4 1268.2 1416.7M1275.7 1413.9Q1275.4 1409 1273.9 1405.7M1274.1 1413.9Q1274.6 1407.4 1276.7 1403M1275.9 1413.9Q1274.6 1407.9 1273.4 1403.9M1275.9 1413.9Q1272.7 1408.2 1270 1404.5M1273.8 1413.9Q1270.9 1407.8 1266.7 1403.8M611.3 1254.9Q614.4 1249.4 616.6 1245.7M611.9 1254.9Q613.1 1247.4 615.3 1242.3M610.4 1254.9Q608.5 1249.5 605.9 1245.9M610.7 1254.9Q613.5 1250.1 616.9 1246.9M608.5 1254.9Q608.4 1250.8 608 1248M612.6 1254.9Q613.5 1251.2 616.8 1248.7M610.7 1254.9Q609.3 1249.8 609.1 1246.4M620 1256.9Q620.1 1253.3 622.6 1250.9M617.7 1256.9Q620.6 1251.4 623.4 1247.7M618.5 1256.9Q619.2 1253.1 618.4 1250.5M619.8 1256.9Q620.2 1251.6 618.8 1248M633.3 1255.6Q634.7 1249.6 637.1 1245.6M632.5 1255.6Q632.7 1247.6 631.5 1242.4M631.9 1255.6Q632.6 1249.7 634.2 1245.8M635.9 1255.6Q636.6 1247.3 636.7 1241.7M634.8 1255.6Q636 1247.8 637.4 1242.6M645.9 1252.5Q646.6 1248.2 647.4 1245.4M643.3 1252.5Q645.6 1245.2 647.9 1240.4M644.1 1252.5Q644.2 1248.4 644.2 1245.7M641.4 1252.5Q644.1 1248.4 646.5 1245.7M655.3 1254.2Q654.1 1251 654.6 1248.9M655.3 1254.2Q654.7 1249.9 654.7 1247M650.7 1254.2Q649.3 1251 648.8 1248.8M650.7 1254.2Q649.1 1250.8 647.6 1248.6M653.8 1254.2Q653.2 1250.6 653.1 1248.3M652.5 1254.2Q650.8 1251.6 649.2 1249.9M659.2 1257.6Q656.9 1254 654.8 1251.6M661.3 1257.6Q660.9 1252.2 661.4 1248.6M656 1257.6Q654.1 1252.2 653.6 1248.6M655.7 1257.6Q656.7 1250.9 657.8 1246.3M667.3 1260.6Q666.5 1254.7 664.5 1250.8M669 1260.6Q667.7 1252.8 663.3 1247.6M669.3 1260.6Q671.9 1254.5 673.6 1250.4M669.6 1260.6Q670 1256.3 669.1 1253.4M666.8 1260.6Q666 1252.4 662.6 1247M676.6 1253.9Q680.8 1247.6 685.5 1243.4M678.5 1253.9Q676.6 1249 675.9 1245.6M680.3 1253.9Q678 1247.5 673.4 1243.3M676.6 1253.9Q680.2 1247.5 685.6 1243.2M681 1253.9Q683.6 1246.2 686.8 1241.1M677 1253.9Q680.5 1247.9 684.9 1243.9M681.1 1253.9Q679.8 1248.7 678.8 1245.1M690 1260.2Q688.1 1256.6 685 1254.2M691.3 1260.2Q691.8 1253.5 694.5 1249.1M692.2 1260.2Q695.6 1253.6 698.7 1249.1M689.7 1260.2Q692.6 1254.1 694.5 1250.1M691.3 1260.2Q691.1 1252.9 689.2 1248M689.7 1260.2Q692.1 1251.8 696.2 1246.3M693.4 1260.2Q692.7 1255.9 690.2 1253.1M702.2 1252.4Q704.2 1248.8 704.9 1246.4M700.5 1252.4Q698.8 1248.6 695.6 1246M700.1 1252.4Q696.6 1247.5 693.3 1244.1M697.3 1252.4Q695.7 1247.8 694.8 1244.7M699.9 1252.4Q700.4 1247.3 702.9 1243.9M697.1 1252.4Q698.4 1246.8 698.2 1243M713.4 1250.1Q711.8 1243.6 708.4 1239.2M710.8 1250.1Q710.9 1244.8 711.3 1241.2M713.1 1250.1Q714.9 1244.4 719.9 1240.5M713.5 1250.1Q715.4 1245.1 719.3 1241.8M709.7 1250.1Q711.2 1244 712.3 1240M709.2 1250.1Q710.8 1245.6 713.6 1242.6M719.1 1261.9Q720.5 1256.9 724.1 1253.5M718.6 1261.9Q719.2 1255.8 721.4 1251.7M716.9 1261.9Q715.4 1258.6 715.5 1256.3M717.9 1261.9Q718.6 1258.6 717.4 1256.4M729.5 1258.7Q731.1 1252.5 734.7 1248.4M729 1258.7Q726 1253.7 723.4 1250.3M732.3 1258.7Q732.9 1254.4 731.7 1251.6M730.6 1258.7Q730.3 1251.6 728.5 1246.9M726.7 1258.7Q724.3 1253.1 720.2 1249.4M726.7 1258.7Q725.6 1254.5 726.1 1251.7M740 1256.6Q737.4 1250.5 736 1246.5M741.3 1256.6Q740.8 1249.4 739.3 1244.6M740.7 1256.6Q739.5 1248.9 737.8 1243.8M736.7 1256.6Q736.1 1251.9 734.7 1248.7M737.2 1256.6Q734.6 1250.6 730.3 1246.6M738.6 1256.6Q739.7 1251.6 740.2 1248.2M740.8 1256.6Q739.7 1251.5 740.2 1248.2M745.1 1256.1Q742.8 1247.5 741.2 1241.8M742.7 1256.1Q740.5 1250 739.9 1245.9M740.8 1256.1Q741.4 1248.2 742.4 1243M743 1256.1Q745 1248.3 749.6 1243.1M745.1 1256.1Q742.4 1247.9 739 1242.4M746.3 1256.1Q747.8 1248.3 749.4 1243.1M123.7 1419.3Q123.9 1414.4 122.8 1411.1M121 1419.3Q118.4 1415.2 115.8 1412.4M122.4 1419.3Q121.2 1412.9 118.2 1408.6M125.4 1419.3Q127.1 1414.7 131 1411.7M123.2 1419.3Q119.9 1411.7 117.1 1406.6M122.7 1419.3Q120.2 1415.6 117.9 1413.1M137.3 1417.8Q135.9 1414.7 135 1412.6M137.5 1417.8Q135.4 1413.4 133.9 1410.4M136.6 1417.8Q136.3 1414.8 134.2 1412.8M141.3 1417.8Q139.6 1413.9 137.8 1411.4M149.4 1420.3Q151.3 1414.2 151.7 1410.1M143.9 1420.3Q145.3 1415.1 149.1 1411.6M144.7 1420.3Q146.6 1415.5 150.1 1412.3M149.4 1420.3Q148.3 1415.2 147.9 1411.8M144.7 1420.3Q142.7 1416.1 139.5 1413.3M143.8 1420.3Q145.6 1416.4 146.7 1413.7M166.3 1417.1Q165.4 1412.9 163.3 1410M168 1417.1Q165.8 1411.8 161.8 1408.3M166.3 1417.1Q166 1410.7 166.4 1406.5M167.8 1417.1Q166.9 1410 165.7 1405.2M169 1417.1Q167.9 1411.4 165.8 1407.7M164.7 1417.1Q163.3 1413 159.5 1410.2M168.8 1417.1Q168.4 1411.6 167.5 1407.9M179.3 1421Q179.9 1416.7 182 1413.8M178.2 1421Q176 1416.7 172.9 1413.8M179.2 1421Q178.5 1416.1 178.4 1412.9M177.8 1421Q174.9 1417 172.6 1414.3M179.2 1421Q181 1417.1 183.3 1414.5M294.1 1421Q292.2 1418.2 290.8 1416.3M297.8 1421Q297.4 1416.8 296 1414M298.8 1421Q298.7 1415.6 295.9 1412.1M298.3 1421Q298.7 1415.6 301.7 1412M310.8 1415.1Q313 1408.6 318.6 1404.3M312 1415.1Q314 1406.6 315.1 1400.9M307.6 1415.1Q305.1 1408.1 302.9 1403.4M309.1 1415.1Q310.3 1408.4 310.5 1403.9M311.4 1415.1Q310.5 1410.5 309.6 1407.4M308.9 1415.1Q312 1410.1 314.9 1406.7M311.5 1415.1Q309.1 1411.2 306.4 1408.5M326.2 1418.6Q325.2 1412.9 324.1 1409M324.1 1418.6Q324.7 1412.7 328.1 1408.8M323 1418.6Q326 1411.3 328.2 1406.4M325.7 1418.6Q324.9 1412 323.1 1407.7M323.3 1418.6Q325.8 1411.5 330.1 1406.7M322.8 1418.6Q323.1 1413.7 323.2 1410.4M334.9 1414.3Q335.7 1410.8 336.4 1408.5M335.4 1414.3Q333.7 1411.4 331.7 1409.5M333.1 1414.3Q332 1410.7 330.5 1408.3M331.9 1414.3Q332.4 1411.3 331 1409.3M346 1413.3Q346.7 1410 345.9 1407.7M342.9 1413.3Q342.1 1410 339.8 1407.9M345.9 1413.3Q346 1408.3 345.6 1405M342 1413.3Q341 1408 342 1404.5M342.7 1413.3Q342.2 1410.4 340 1408.4M345.6 1413.3Q345.6 1407.3 345.9 1403.4M342 1413.3Q343.2 1407.9 343 1404.3M357.1 1416.4Q356.2 1408.8 355.2 1403.7M354.6 1416.4Q352.4 1410.2 349.6 1406.1M352.6 1416.4Q354.1 1409.4 355.2 1404.7M353 1416.4Q350.5 1410 345 1405.7M352.4 1416.4Q353.1 1409.4 353 1404.7M354.5 1416.4Q357.9 1409.6 361.7 1405M360.6 1420Q359.2 1415 359.5 1411.7M363.4 1420Q360.4 1414.4 356.1 1410.7M360.5 1420Q358.7 1414.1 358.3 1410.2M360.2 1420Q358.8 1413.1 355.9 1408.4M359.8 1420Q359.9 1413.7 359.3 1409.5M362.2 1420Q362.9 1414.1 365.2 1410.1M188.8 1400.6Q186.8 1394.6 185.9 1390.6M187.4 1400.6Q188.8 1394.2 191.5 1390M190.5 1400.6Q188.9 1396.7 187.9 1394.1M191.4 1400.6Q193 1393.4 194.7 1388.7M188.8 1400.6Q190 1393.2 192.7 1388.4M196.2 1409.9Q197.6 1405 201.8 1401.7M196.8 1409.9Q195.5 1401.3 195.2 1395.6M200.1 1409.9Q201.5 1404.8 202.1 1401.3M195.8 1409.9Q197.1 1405.4 199.6 1402.3M198.1 1409.9Q195.5 1405 193.1 1401.7M207.4 1403.9Q205.2 1399.1 204.2 1395.9M206.7 1403.9Q206.9 1399.3 208.4 1396.2M209.2 1403.9Q209.2 1398.1 211.4 1394.2M210.1 1403.9Q212.3 1398.2 215.7 1394.5M223.9 1402Q223.1 1397.5 221.2 1394.4M226.6 1402Q225 1393.6 224.4 1388M226.1 1402Q224.8 1395 220.5 1390.4M222.1 1402Q223.7 1397.4 223.9 1394.4M226.5 1402Q226.1 1395.4 225.7 1390.9M233.2 1409.9Q232.5 1405 230.9 1401.7M230.4 1409.9Q228.2 1406.6 226.5 1404.4M234.2 1409.9Q233.5 1407.1 232.1 1405.2M230.6 1409.9Q232.1 1405.7 235.5 1403M237.5 1401.4Q238.9 1396.6 239.2 1393.3M240.6 1401.4Q240.6 1396.8 238.7 1393.6M241.5 1401.4Q242.6 1396.7 243.3 1393.6M239.3 1401.4Q239.7 1396.1 240.6 1392.6M237.8 1401.4Q234.1 1395.9 230 1392.1M238.6 1401.4Q238.3 1397.1 239.9 1394.2M242.9 1401.4Q243 1394.4 244.5 1389.7M242.9 1401.8Q241.5 1398 240.5 1395.5M243 1401.8Q243.3 1396.2 242.3 1392.4M243.8 1401.8Q240.5 1396.1 237.4 1392.3M245.8 1401.8Q246 1396.6 245.1 1393.1M241.5 1401.8Q243 1396.2 246 1392.5M260.1 1401.5Q260 1396 260.8 1392.4M260.7 1401.5Q258.9 1394.5 257.1 1389.9M263.3 1401.5Q263.4 1396.2 266.1 1392.6M260.1 1401.5Q262.5 1394.4 266.6 1389.7M262.3 1401.5Q261.5 1395 261 1390.7M267.6 1398.9Q268.4 1396.3 271.2 1394.5M266.7 1398.9Q268.6 1393.4 270.2 1389.7M265.8 1398.9Q264.9 1393.8 264 1390.5M264.6 1398.9Q262.5 1395.5 260.5 1393.2M274.5 1399.6Q275.4 1394 277.1 1390.2M276.5 1399.6Q278.2 1395.3 278.4 1392.4M277.5 1399.6Q278.9 1396.4 280.3 1394.3M276.4 1399.6Q279 1395.5 281 1392.7M288.3 1407.9Q287.6 1403.4 285.6 1400.3M285 1407.9Q285.2 1403.1 283.7 1399.9M286.4 1407.9Q287.7 1404.1 288.5 1401.5M287 1407.9Q287.3 1403.8 285.5 1401M288.5 1407.9Q288.6 1403.1 287.3 1399.9M286.7 1407.9Q285.1 1404.8 282.5 1402.8M283.6 1407.9Q284.2 1401.6 285.8 1397.5M1036.8 1288.8Q1035.7 1284.7 1036.3 1281.9M1037.2 1288.8Q1036.9 1285.2 1034.4 1282.8M1039.4 1288.8Q1039.9 1285.1 1038.7 1282.7M1038 1288.8Q1036.6 1286.1 1035.8 1284.4M1047.5 1286.3Q1046.4 1283.7 1043.9 1282M1043 1286.3Q1044.3 1283.8 1044.8 1282.1M1047.5 1286.3Q1046.6 1282.3 1046.4 1279.7M1045.4 1286.3Q1045 1281.6 1045.2 1278.5M1056.7 1287.8Q1057.4 1284.5 1060.7 1282.3M1055.1 1287.8Q1054.6 1284.7 1054 1282.5M1059.8 1287.8Q1059.9 1283.8 1061.7 1281.1M1056.2 1287.8Q1057 1283.3 1057.2 1280.3M1058.2 1287.8Q1059.5 1284.8 1060.6 1282.8M1062.3 1287.4Q1061.6 1285 1059.1 1283.4M1065.7 1287.4Q1064.9 1284.2 1064.3 1282.1M1064.6 1287.4Q1065.7 1285 1065.2 1283.4M1067.2 1287.4Q1069.7 1283.7 1071.4 1281.2M1063.2 1287.4Q1063.1 1284.6 1064.8 1282.8M1067.2 1287.4Q1067.2 1283.8 1067.3 1281.5M1010.7 1321.8Q1009.5 1317.3 1006.9 1314.3M1014.5 1321.8Q1013.8 1317.8 1012 1315.2M1014.3 1321.8Q1011.8 1317.6 1009.8 1314.8M1014.6 1321.8Q1016.5 1316.3 1020.8 1312.7M1015.4 1321.8Q1013.5 1316.9 1012.5 1313.7M1014.3 1321.8Q1011.8 1317.1 1010 1314M1015.6 1321.8Q1017.2 1315.5 1018.4 1311.3M1027 1323.3Q1027.8 1317.1 1029.3 1312.9M1022.9 1323.3Q1021 1319.1 1020.2 1316.3M1022.3 1323.3Q1022.3 1317.7 1020.2 1314M1023 1323.3Q1023.1 1319.3 1023.7 1316.6M1024.7 1323.3Q1025.1 1318.9 1027.3 1315.9M1025.8 1323.3Q1025.9 1318.3 1024.5 1314.9M1025.1 1323.3Q1026.9 1320 1029 1317.8M1030 1329.9Q1027.2 1322.2 1023.1 1317.1M1025.9 1329.9Q1025.9 1322.7 1025.1 1317.9M1028.6 1329.9Q1030.3 1322.9 1033.9 1318.2M1031 1329.9Q1033.5 1326 1036.4 1323.4M1028 1329.9Q1028.2 1321.6 1027.6 1316.1M1027 1329.9Q1026.6 1321.1 1024.4 1315.2M1038.5 1322.4Q1041.9 1315.9 1045.9 1311.5M1038.9 1322.4Q1036.7 1314.7 1035.2 1309.5M1035.9 1322.4Q1033.3 1317.6 1029.5 1314.3M1033.8 1322.4Q1033.4 1316.4 1031.7 1312.4M1046.3 1320.4Q1045 1315.7 1041.3 1312.6M1043.4 1320.4Q1040.5 1313.8 1035.4 1309.4M1044.4 1320.4Q1045.7 1314.4 1045.5 1310.3M1042.7 1320.4Q1041 1313.4 1037.7 1308.8M1042.2 1320.4Q1041.7 1312.7 1039.7 1307.6M1047.4 1320.4Q1049.7 1315.3 1052.1 1311.9M1043.7 1320.4Q1042.3 1316.5 1040.3 1313.8M822.2 1383.8Q822.7 1376.2 823.9 1371.2M821.4 1383.8Q819.8 1380 816.5 1377.4M820.7 1383.8Q823.6 1378.6 827 1375.2M823.1 1383.8Q825.6 1377.9 827.4 1374M822.4 1383.8Q822.8 1379 824.1 1375.7M821.4 1383.8Q820.3 1380.2 817.8 1377.8M828.9 1384.8Q826.8 1378.2 825.3 1373.8M826.7 1384.8Q826.7 1378.2 826.5 1373.9M829.6 1384.8Q828.6 1381.2 825.8 1378.8M824.2 1384.8Q822.3 1378.2 819.1 1373.9M827 1384.8Q827.3 1377.6 827.6 1372.8M828.8 1384.8Q828.6 1378 830.2 1373.5M829.5 1384.8Q830.7 1377.4 834 1372.5M836.2 1383.1Q834.1 1379.3 832.5 1376.7M835.2 1383.1Q836.6 1375.9 836.3 1371M838.3 1383.1Q838.1 1377.8 838.3 1374.2M836.8 1383.1Q839.2 1379.9 840.6 1377.8M838.9 1383.1Q839 1376.1 839.3 1371.4M838.1 1383.1Q839.6 1376.5 839.3 1372.1M842.7 1379.4Q842.5 1376.1 844 1373.9M843.3 1379.4Q844.7 1375.9 846.5 1373.6M846.9 1379.4Q847.1 1375.3 847.8 1372.5M846.4 1379.4Q845.9 1375.3 846.9 1372.5M858 1375.2Q859.1 1370.8 858.3 1367.8M855.8 1375.2Q857 1370.4 858.1 1367.2M856.1 1375.2Q857.3 1369.2 860.9 1365.2M853.7 1375.2Q856.5 1370.6 860.1 1367.5M854.2 1375.2Q852.6 1371.3 849.9 1368.7M1339.4 1388.6Q1340 1384.9 1342 1382.3M1335.9 1388.6Q1334.3 1382.7 1329.6 1378.7M1337.8 1388.6Q1339.5 1384.9 1340.3 1382.5M1335.2 1388.6Q1335.4 1382.2 1336.5 1378M1336.2 1388.6Q1335.7 1384.1 1337 1381M1339.1 1388.6Q1336.6 1384.8 1334.5 1382.3M1350.4 1388.2Q1350.3 1383.2 1350.1 1379.9M1352.6 1388.2Q1351.6 1383.8 1348.8 1380.8M1356.2 1388.2Q1353.7 1382 1348.8 1377.9M1354.6 1388.2Q1352.3 1381.5 1350.5 1377.1M1353.4 1388.2Q1356.2 1382 1361.7 1377.9M1355.6 1388.2Q1355.7 1379.7 1354.2 1374M1356 1388.2Q1354.4 1380.3 1352.4 1375.1M1355.3 1395.8Q1357.1 1393 1358.7 1391M1360.2 1395.8Q1361.3 1391.3 1360.8 1388.3M1359.3 1395.8Q1359 1391.3 1358.5 1388.2M1360.3 1395.8Q1360.8 1389.8 1360.5 1385.7M1360.4 1395.8Q1360.5 1391 1359.3 1387.7M1373.2 1387.8Q1377.2 1382.3 1380.8 1378.6M1367.9 1387.8Q1370.6 1381.9 1375 1378M1372.2 1387.8Q1370.5 1380.4 1366 1375.4M1368.4 1387.8Q1366.4 1382.5 1364.1 1379M1368.7 1387.8Q1367.1 1382.6 1362.3 1379.1M1374.9 1388.1Q1372.6 1381.8 1371.7 1377.5M1378.8 1388.1Q1380.4 1382 1380.7 1377.9M1378.6 1388.1Q1382.2 1382.7 1385.4 1379.1M1373.6 1388.1Q1375.5 1381.1 1380.8 1376.4M1385.6 1393.1Q1386 1390 1388.7 1387.9M1386.5 1393.1Q1385.8 1389.8 1386.5 1387.5M1384.4 1393.1Q1383.2 1389.1 1380.5 1386.5M1385.2 1393.1Q1384 1389.1 1382.6 1386.5M1384.1 1393.1Q1382.4 1388.1 1380.1 1384.7M1385.6 1393.1Q1386.5 1389.9 1388.3 1387.8M1394.1 1385.6Q1393 1382.1 1392.3 1379.8M1397.3 1385.6Q1396 1381.3 1391.8 1378.5M1394.5 1385.6Q1396 1382.8 1398.3 1380.9M1396.1 1385.6Q1397.3 1382.1 1397.6 1379.7M1396 1385.6Q1396.2 1380.1 1394.7 1376.4M1403.2 1384.5Q1400.6 1378.7 1398.1 1374.8M1404.4 1384.5Q1405.9 1378.8 1406.9 1375M1401.5 1384.5Q1401.7 1378.9 1400.6 1375.1M1401.6 1384.5Q1400 1379.7 1398.7 1376.6M1404.5 1384.5Q1406 1376.9 1409.5 1371.8M1415 1394.4Q1417.1 1388.3 1417.9 1384.2M1415.3 1394.4Q1415.1 1387.5 1416.7 1383M1419.5 1394.4Q1415.9 1387.7 1411 1383.2M1414.2 1394.4Q1414.5 1389.9 1415.4 1386.8M1420.8 1388.7Q1419.7 1385.2 1420.2 1382.9M1423.9 1388.7Q1422.8 1384.9 1420 1382.3M1419.4 1388.7Q1416.9 1382.8 1415.7 1378.9M1420 1388.7Q1420.2 1384.5 1421.6 1381.6M1419.8 1388.7Q1420.2 1384 1421 1380.9M1422.3 1388.7Q1422.1 1385.1 1420.9 1382.7M1435.2 1395.3Q1435.9 1389.9 1438.3 1386.4M1432.1 1395.3Q1430.1 1389.9 1429.1 1386.3M1431.8 1395.3Q1433.4 1389.7 1433.5 1385.9M1432.7 1395.3Q1434.8 1389.7 1438.2 1386M1435.2 1395.3Q1432.4 1389.4 1429.1 1385.5M1434.7 1395.3Q1433.9 1389 1434.4 1384.8M1439.1 1391.5Q1442 1386.3 1444.5 1382.8M1440.4 1391.5Q1438.1 1386.6 1434.6 1383.3M1438.9 1391.5Q1435.4 1386.2 1431.9 1382.7M1439.5 1391.5Q1437.3 1386.2 1432.9 1382.6M1438.9 1391.5Q1440.9 1385.9 1442.1 1382.2M1439.3 1391.5Q1441.1 1387.6 1444.3 1385M1453.3 1391.8Q1450 1387.7 1447.6 1384.9M1452.7 1391.8Q1455.1 1387.5 1457.6 1384.7M1451.5 1391.8Q1449.6 1385.8 1448 1381.9M1452.9 1391.8Q1451.1 1388.2 1449.4 1385.8M1451.4 1391.8Q1451.5 1385.3 1453.5 1381M1461.7 1396.3Q1462.1 1391.6 1462.1 1388.4M1463.9 1396.3Q1463.3 1391.3 1462.3 1387.9M1463.3 1396.3Q1464.3 1389.9 1466.7 1385.7M1464.6 1396.3Q1460.7 1389.3 1456.2 1384.6M1465.5 1396.3Q1467.8 1391.9 1471.1 1388.9M1475.3 1386.8Q1476.3 1379.8 1479.1 1375.1M1470.9 1386.8Q1471.6 1379.9 1472.9 1375.3M1473.4 1386.8Q1473.3 1381.7 1471.3 1378.3M1474 1386.8Q1473.3 1380.6 1472.5 1376.4M1472.3 1390.7Q1470.3 1384.3 1467.2 1380M1471.3 1390.7Q1472 1384.8 1474.6 1380.8M1474.8 1390.7Q1472.4 1385.9 1470.9 1382.7M1476.6 1390.7Q1475.8 1386.8 1472.1 1384.2M1475.5 1390.7Q1474.1 1385.8 1470.4 1382.5M1471.3 1390.7Q1472.5 1385.5 1472.6 1382M1471.4 1390.7Q1472.5 1384.9 1475.2 1381M1484.4 1395.1Q1485.6 1391.4 1487.1 1388.8M1480.2 1395.1Q1481.6 1388.3 1485.6 1383.8M1484.5 1395.1Q1486 1387.9 1489.1 1383.1M1482.9 1395.1Q1482.3 1390.1 1482.7 1386.7M1495.4 1396.7Q1492.4 1392 1490.4 1388.8M1495.2 1396.7Q1494 1393.4 1492.9 1391.1M1497 1396.7Q1496.2 1391.3 1494.2 1387.6M1495.8 1396.7Q1497.9 1391.3 1498.6 1387.7M1494.6 1396.7Q1492.3 1391.3 1490.9 1387.8M1498.4 1396.7Q1497 1392.8 1496.9 1390.2M1218.5 1278.2Q1219.4 1272.1 1219.9 1268M1219.7 1278.2Q1217.6 1271.8 1216.6 1267.4M1223.2 1278.2Q1226.1 1273.1 1228.8 1269.7M1217.6 1278.2Q1219.2 1274.4 1219.5 1271.9M1219.5 1278.2Q1217.4 1272.8 1214.7 1269.2M1220.5 1278.2Q1220.9 1271.9 1223.8 1267.7M1242.7 1268.8Q1241.8 1265 1241.2 1262.6M1244 1268.8Q1244.2 1263.7 1243.9 1260.3M1243.8 1268.8Q1245.1 1265 1245 1262.4M1241.4 1268.8Q1240.8 1263.6 1239.9 1260.1M1255.9 1277.3Q1255.4 1271.9 1256.2 1268.3M1252.2 1277.3Q1251.4 1273.8 1248.4 1271.5M1251.8 1277.3Q1250.4 1272.9 1250.4 1270M1256.1 1277.3Q1258.1 1273.8 1259.8 1271.5M1256 1277.3Q1254.7 1273.4 1252.4 1270.8M1252.2 1277.3Q1253.3 1273.8 1256.3 1271.4M1255.2 1277.3Q1255.2 1274.1 1257.1 1272M1267.5 1271.9Q1269.3 1266 1270.3 1262M1269.2 1271.9Q1269.6 1268.5 1272.4 1266.3M1271.9 1271.9Q1269 1267 1266.5 1263.8M1271.5 1271.9Q1270.1 1266 1266.9 1262.2M1279.9 1275.2Q1278.2 1271.3 1277.9 1268.7M1274.7 1275.2Q1276.6 1270.2 1277.7 1266.9M1277.9 1275.2Q1279.7 1268.8 1280.7 1264.5M1278.9 1275.2Q1280.7 1270.8 1283.8 1267.8M1206.4 1333.3L1208.9 1334.8M1200 1314.3L1202.8 1313.5M1211.7 1327.6L1214.4 1328.7M1338.3 1320.7L1340.4 1321.1M1340.5 1313.1L1343.6 1313.6M1213.9 1311.7L1215.6 1312M1344.3 1309.7L1346.4 1309.8M1188.1 1323.9L1191.1 1323.4M1285.3 1325L1286.9 1324.3M1370.3 1323.1L1373 1324M1184.1 1316.9L1187.5 1315.4M1246.3 1316.1L1248.6 1315.1M1325.4 1327.1L1328.8 1327.8M1194.5 1319.2L1197.5 1318M1336.5 1312.8L1339.2 1312.4M1292.3 1330.3L1294.4 1329.3M1267.6 1331.1L1269.3 1331.8M1351.9 1329.2L1354.7 1330M1207.2 1333.1L1209.7 1333.8M1305.3 1332.3L1307.5 1333.1M1242.8 1318L1246 1317.8M1353.1 1328.4L1355.4 1327.5M1297.1 1310.9L1298.9 1311.3M1274.5 1329.1L1276.3 1330.2M1284.4 1333.2L1287.5 1332M1193.8 1316.8L1197.2 1315.8M1231 1318.1L1232.7 1317.1M1329.4 1315.4L1331.8 1314.7M1350.3 1325.3L1352.1 1324.1M1288.7 1310L1292 1309.7M1346.4 1331.9L1348.2 1331.5M1344 1332.8L1346.2 1333.3M1276.2 1315.6L1279.4 1316.1M1299.1 1325.1L1302.1 1324.3M1339.2 1309.2L1342.5 1308.6M1206.6 1319L1208.3 1318.6M1267.5 1311.3L1269.9 1311.8M1355 1320.6L1356.7 1321.3M1358.5 1332.1L1361.5 1331.2M1240.7 1316.9L1244.2 1316.9M1315.5 1320.9L1317.5 1319.5M1206.1 1320.7L1208.9 1320.2M1181.3 1324L1183.5 1325.3M1247.3 1319.8L1249.7 1318.4M1348.6 1332.8L1351.5 1332.1M1302.1 1311.1L1303.8 1310.8M1234.7 1326.8L1237.9 1326.9M1308.9 1315.5L1312.1 1314.3M1355.3 1317.6L1358.3 1316.5M1244.9 1319.5L1247.3 1320M1207.1 1326.4L1209.3 1327M1252.8 1309.2L1255.9 1309.5M1190.6 1325.7L1193.3 1325.2M1372.3 1332.5L1375.3 1333.2M1238.3 1312.8L1240.7 1311.7M1347.9 1311.8L1351.3 1311.6M1279.1 1309.1L1281.5 1310.1M1200.1 1320.2L1203.6 1319M1218.7 1333.5L1221.1 1333.6M1208.2 1318.4L1210.4 1319.8M1369.3 1323.4L1370.9 1324.4M1178.2 1331.4L1180.7 1332.5M1314.9 1325.2L1317.3 1325M1245.4 1322.6L1248 1323.4M1197.7 1313.4L1200 1312.4M1294 1322.6L1296.2 1323.6M1312.7 1319.9L1314.8 1320.3M1360 1330.4L1363.5 1331.3M1195.8 1325.2L1198.5 1325M1274.3 1327.8L1277.6 1326.6M127.9 1386.2Q148.9 1344.5 163.3 1338.9Q177.8 1333.3 198.9 1338Q219.9 1342.7 237.1 1353.8Q254.3 1364.9 262.1 1388.1M129 1385.8Q150.8 1345.5 164.7 1339.2Q178.6 1332.8 199.1 1337.6Q219.7 1342.3 237.1 1354.1Q254.5 1365.9 262.4 1387.8M250.7 1348.8Q299.4 1324 324.6 1319.4Q349.8 1314.8 387 1318.8Q424.2 1322.7 485.8 1346.8M250.2 1348.6Q301.1 1324.2 325.2 1320.7Q349.4 1317.1 386.8 1320.2Q424.3 1323.3 485.8 1346.7M375.2 1320.1Q440.3 1314.1 469.8 1321.1Q499.2 1328 514 1337.8M374 1321.7Q440 1313.3 470.3 1320.6Q500.7 1327.8 514.3 1337.4M892.1 1307.1Q899.3 1287 907.6 1284.7Q915.8 1282.3 925 1284.6Q934.2 1286.9 941.5 1303M891 1305.7Q900.6 1287.1 908.2 1284.7Q915.9 1282.3 924.8 1284.8Q933.7 1287.4 942 1301.5M687.1 1353.4Q690.7 1338.7 694.7 1335Q698.6 1331.4 702.6 1335.7Q706.5 1340 708.3 1354.3M687.2 1353Q689.9 1338.2 693.5 1334.4Q697.1 1330.5 702.5 1334.3Q707.9 1338 708 1353.7M725.8 1357.7Q728 1338.9 730.5 1338Q733 1337.1 736.5 1339.8Q740 1342.4 741.7 1357.6M726 1358.7Q727.2 1338.8 730.2 1337.5Q733.2 1336.2 737.2 1338.5Q741.3 1340.9 743.1 1359.2M1410 1414.3Q1425.1 1399.2 1435.3 1398.1Q1445.6 1397 1456.4 1398.4Q1467.3 1399.9 1478.9 1412M1409.2 1414.9Q1424.1 1399.3 1434.3 1397.3Q1444.6 1395.3 1456.6 1398.7Q1468.5 1402.1 1479.4 1412M1131.1 1196.6Q1145.1 1177.5 1155.4 1174.2Q1165.6 1171 1180.3 1173.4Q1195 1175.8 1200.1 1183.5Q1205.3 1191.2 1204.4 1216.9M1129.5 1196.7Q1145.2 1178.6 1154.9 1175.2Q1164.5 1171.7 1180.3 1173.8Q1196.1 1176 1201.5 1183.9Q1206.9 1191.8 1204.6 1216.8M1000.3 1200.3Q1039.8 1196.2 1059.8 1205.7Q1079.7 1215.3 1124 1221.2M635.9 1206Q660.2 1189.5 675.5 1187.9Q690.8 1186.3 708.5 1188Q726.1 1189.6 750.9 1196.2M636.6 1206.7Q659.7 1189 675 1187.3Q690.4 1185.7 708 1187.4Q725.7 1189.1 751.6 1195.8M559.6 1192.9Q585.7 1186 600.4 1184.8Q615.1 1183.7 640.2 1196.1M431 1214.5Q470.3 1196.9 495.6 1191.9Q520.9 1187 582.9 1185.8M437.6 1299.6Q499.6 1279.3 540.1 1275.6Q580.7 1272 671.2 1269.8M759.1 1337.2Q774.6 1332.7 784.9 1335.1Q795.2 1337.5 802.3 1352.9M761.2 1339Q774.5 1333.8 784.6 1336.4Q794.8 1338.9 803 1350.9M870.3 1385Q884 1362.7 897.3 1358.6Q910.5 1354.5 925.6 1358.1Q940.6 1361.8 950.1 1383.6M870.3 1385.7Q885.5 1361.9 898.2 1359Q910.8 1356.1 925 1358.9Q939.1 1361.7 950.3 1382.9M748.9 1260.8Q774.1 1249.6 789.8 1248.7Q805.5 1247.8 829.2 1255.3M702 1317.3Q802 1310.4 852.1 1312.1Q902.2 1313.8 950.5 1308.6Q998.8 1303.4 1023.1 1308.2M697.9 1317.1Q800.6 1309.6 849.7 1310Q898.8 1310.4 948.5 1306.1Q998.2 1301.8 1023.1 1307.8M751 1327.6Q851.9 1317.7 900.8 1320.1Q949.8 1322.5 1020.1 1316.3M1300.4 1233.1Q1349.6 1250.6 1384.5 1248Q1419.3 1245.4 1499.5 1231M1290.1 1274.9Q1350.4 1262.6 1384.8 1255.8Q1419.3 1249 1501.1 1236.9M-1.2 1299.3Q40.8 1311.3 64.9 1320.3Q89.1 1329.3 130.2 1352.1M40.9 1415.6Q69.5 1394.9 89.4 1391.5Q109.2 1388 136 1391.3M1411.7 1458.1Q1418.9 1430 1429.8 1424.6Q1440.7 1419.3 1457.6 1420.2Q1474.5 1421.2 1499.5 1432.9M1412.4 1456.2Q1418.9 1430.6 1429.1 1425.8Q1439.4 1420.9 1456.8 1420.9Q1474.2 1420.9 1500.4 1431.9M749.4 1426Q779 1427.8 794.1 1433.9Q809.2 1440 830 1455.9M749.5 1424Q780.4 1428.6 795.1 1434Q809.8 1439.5 829.8 1457.2M59.3 1436.7Q69.8 1437.1 80.3 1436.9M30.8 1453.4Q35.6 1452.3 40.4 1453M18.5 1418.6Q25.9 1418.9 33.3 1418.9M18.5 1431.3Q33.5 1432.2 48.6 1430.9M89.7 1424Q98.9 1423.5 108.1 1424.2M17.8 1444.6Q29.3 1445.1 40.9 1444.6M102.3 1427.9Q109.9 1427.5 117.5 1427.2M101.6 1423.3Q107.7 1422.1 113.8 1423.3M26.5 1429Q34.4 1428 42.4 1429.3M69.8 1449.3Q88.3 1449.5 106.9 1449.3M19.4 1425.7Q35.7 1425.8 51.9 1426.4M62.6 1448.6Q69.1 1447.7 75.6 1447.9M84.6 1427.9Q95.4 1428.4 106.1 1428.7M58.6 1426Q68.1 1424.9 77.5 1425.8M100.7 1443.7Q116.3 1444.6 122 1444.3M19.7 1439.2Q34 1439.8 48.3 1438.5M97.1 1454.2Q110.9 1453.3 122 1454.2M85.1 1425.5Q103.7 1425.2 122 1425.9M107.3 1423.6Q120.9 1424.7 122 1424.2M101.5 1442.5Q112.3 1443.6 122 1442.5M78.6 1426.3Q95.9 1426.1 113.3 1426.2M40.2 1454.8Q44.8 1454.8 49.4 1454.5M53.1 1439.9Q63.9 1441 74.7 1440.4M108.8 1427.2Q120.3 1427.7 122 1427.2M108.5 1421.9Q121.9 1422.3 122 1421.5M91.2 1427.2Q95.4 1426.1 99.6 1426.9M13.5 1439.1Q22.1 1439 30.7 1439.4M34.1 1416Q43.4 1415.5 52.7 1416.6M88 1441.9Q94.3 1441 100.6 1441.6M28.5 1454.8Q41.2 1453.8 54 1454.4M44.9 1434.5Q61.1 1434.8 77.2 1434.3M18.2 1453.7Q26.1 1453.2 34 1453.4M78.6 1438Q87.4 1438.2 96.3 1438.3M22.1 1423.8Q34.4 1423.3 46.7 1423.1M1023.9 1407.9Q1036.1 1407.6 1048.3 1408.5M904 1404.2Q914.6 1403.8 925.2 1404.9M984.8 1412Q995.2 1411.8 1005.6 1411.8M1006.9 1392.8Q1025.3 1392.6 1043.7 1393.2M944.1 1409.2Q951.7 1409.3 959.4 1408.6M1008.6 1407.2Q1017 1407.8 1025.4 1407M871.5 1403.3Q887.6 1404.2 903.7 1403.2M883.4 1393.5Q899.8 1393.9 916.3 1393.3M941.2 1394.7Q952.4 1394.3 963.6 1394M1035.2 1412.7Q1050.3 1411.7 1065.4 1412.3M1051.4 1396Q1062.8 1395.4 1074.3 1396.3M943.7 1415.9Q952.4 1417 961 1415.1M1038.5 1405.6Q1044.2 1404.4 1049.9 1405.7M893.7 1395.4Q900.8 1395.3 907.9 1395.9M883.6 1404.4Q889.5 1404.2 895.3 1405.2M1076.2 1415Q1088.4 1415.7 1100.6 1415.3M1021.2 1416.1Q1031.7 1416.4 1042.2 1415.6M1031.1 1414.9Q1037.6 1415.5 1044.2 1415M941.1 1405.3Q955.1 1406.4 969.1 1405.3M965.8 1410.7Q980.3 1409.8 994.8 1410.6M876.9 1403.9Q887.7 1404 898.6 1403.1M1028.1 1400.5Q1045.5 1400.8 1062.8 1399.7M1105.9 1417.4Q1116.9 1417.9 1125 1417M957.6 1419.5Q974.5 1419.5 991.3 1419.2M965.7 1411.8Q970.6 1412.1 975.6 1411.5M953.1 1412.1Q967.9 1412.8 982.6 1411.8M944.2 1413.4Q954.1 1414.4 964 1413.6M985.6 1402.5Q999.5 1402.7 1013.3 1403.2M998.7 1413.7Q1004.7 1413.3 1010.6 1414.4M1021.3 1401.7Q1031.3 1400.7 1041.4 1402.3M893.7 1396.5Q899.2 1397.5 904.8 1396.4M1110.4 1413.3Q1126.6 1413.8 1125 1412.9M912.6 1417.2Q930 1417.8 947.4 1417.1M1019.9 1393.8Q1025.6 1394.6 1031.4 1393.1M1018.6 1413.4Q1035.2 1414.4 1051.8 1413.1M962.5 1411.6Q981.4 1411.7 1000.2 1411.1M977.2 1399.1Q985.5 1398.4 993.8 1398.5M1068.1 1414.8Q1075 1415 1081.9 1415M919.9 1410.7Q936 1411.7 952.2 1410.5M1003.9 1403.4Q1009 1402.7 1014.1 1403.8M1027.3 1417.5Q1038.8 1418.3 1050.2 1417.6M956.3 1405.3Q969.5 1405.4 982.8 1404.7M974.7 1393.9Q984.4 1392.9 994 1393.2M943.1 1413.9Q948.8 1413.3 954.6 1414.1M924.9 1401.3Q943 1402.3 961.1 1400.9M886.6 1411.7Q903.7 1412.8 920.8 1411M1079 1408.1Q1097 1408.1 1115 1407.9M1040.9 1393.6Q1046.6 1393.5 1052.2 1394.3M877.3 1399.4Q886.4 1398.8 895.5 1399.1M904.1 1413.4Q916.3 1414 928.5 1414.1M1457.7 1437.8Q1465.3 1436.8 1472.8 1438.5M1411.3 1451.5Q1426.8 1450.4 1442.3 1452.3M1383.5 1454.1Q1396.7 1453.1 1409.9 1454.2M1296.7 1454Q1301.3 1452.8 1305.9 1454M1339.4 1437.1Q1347.9 1437.9 1356.5 1437.8M1239.7 1401.2Q1255.3 1402 1270.9 1401.3M1405.7 1449Q1420.8 1449.2 1435.9 1448.3M1409.3 1443.6Q1419.7 1443.5 1430.2 1443.1M1462.7 1425Q1481.5 1424.6 1500 1424.5M1240.3 1424.9Q1247.8 1425.1 1255.3 1424.4M1460.4 1442.6Q1476.3 1442.8 1492.2 1443.4M1415.8 1400.8Q1431.9 1399.8 1448.1 1400.3M1236.6 1410.3Q1245.8 1410.7 1255.1 1409.9M1385.6 1416.7Q1396.8 1415.8 1408 1416M1369.1 1414.3Q1380.5 1414.8 1391.9 1414M1283.4 1452.2Q1298.1 1453.2 1312.8 1452.6M1398.2 1416.7Q1410.1 1416.1 1422 1417M1239.3 1428.7Q1256.8 1429.2 1274.3 1428.9M1278.9 1415.9Q1285 1417.1 1291.1 1415.5M1280.9 1442.3Q1290.4 1443 1300 1441.7M1410.1 1455.7Q1423.8 1455.6 1437.6 1455.1M1233.9 1428.4Q1242.1 1428.2 1250.3 1429M1299 1404.8Q1312.1 1404.8 1325.3 1405.4M1236.8 1421.9Q1243.9 1421.2 1250.9 1421.8M1305.9 1403Q1318 1402.6 1330.1 1402.2M1461.7 1434.7Q1479.5 1435.7 1497.4 1435.2M1425.7 1433.7Q1434.8 1434.5 1443.9 1433.6M1418.2 1424.4Q1433.3 1423.3 1448.3 1423.7M1416.1 1422.1Q1430.3 1423 1444.5 1422.8M1376.7 1426.4Q1389.3 1426.5 1401.8 1425.9M1422.6 1421.7Q1440.5 1420.9 1458.3 1421M1477 1445.6Q1482.3 1445 1487.6 1445.6M1329.6 1419.2Q1342.8 1418.9 1356 1419.5M1439.7 1444.6Q1452.8 1443.7 1466 1444.7M1295.1 1418.3Q1301.8 1418.2 1308.5 1418.2M1481 1426.6Q1492.2 1427.4 1500 1426.1M1473.8 1403.3Q1481.9 1403.6 1490.1 1403M1272.6 1403.7Q1288.1 1403.1 1303.6 1404.2M1392 1407.3Q1398.2 1407.5 1404.4 1406.5M1235.2 1406.5Q1249.5 1407.4 1263.7 1406.7M1415.1 1402.4Q1420 1402.9 1424.9 1402M1404.8 1414.7Q1421.6 1414.3 1438.5 1415M1317.7 1434.2Q1322.8 1434.1 1328 1434.3M1311.3 1413.5Q1320.9 1414.3 1330.5 1413.4M1457.1 1436.6Q1463.2 1436.2 1469.4 1437M1333.2 1419.1Q1346.9 1419 1360.7 1419.9M1267.5 1435.4Q1272.2 1436.5 1276.8 1436.1M1386.4 1401.5Q1402.5 1401.5 1418.6 1401.9M1379.1 1429Q1388.3 1428.3 1397.4 1429.5M1417.5 1401.9Q1427.2 1403.1 1436.9 1401.2M1472.9 1404.4Q1480.3 1404.4 1487.6 1404.5M1335.8 1431.2Q1350.8 1432.1 1365.8 1431.3M1350.2 1402.9Q1362 1402.8 1373.9 1402.6M1302.7 1447.7Q1310.3 1447 1318 1448.1M1345.8 1420.6Q1361 1419.7 1376.2 1420.2M1458.3 1441.8Q1467.7 1441.4 1477.1 1441.8M1398.1 1452.1Q1411.2 1452 1424.3 1452M1444.1 1432.5Q1450 1432.5 1455.9 1432.9M1380 1423.2Q1386 1422.7 1392.1 1422.9M1246.6 1417.9Q1256.9 1419 1267.2 1418M1429.8 1436.1Q1447.2 1437 1464.7 1435.3M1294.8 1406.9Q1307.1 1407.9 1319.4 1407.3M1234 1407.2Q1244.5 1407.7 1255 1408M1454.7 1407.5Q1472.5 1408.5 1490.3 1407.3M1372.6 1422.9Q1387.3 1422 1401.9 1423.6M1381.7 1451.2Q1395 1452.4 1408.2 1450.5M1319.1 1442.1Q1329.8 1441.9 1340.5 1442M1301.7 1447.6Q1312.8 1446.7 1324 1447.1M1467.8 1443.7Q1485.9 1442.7 1500 1444.3M1323 1433.8Q1336.8 1433.5 1350.5 1433.7M1380.8 1429Q1399 1428 1417.2 1428.7M1374.5 1419.4Q1392 1419.6 1409.4 1420M1310.5 1424.3Q1319.3 1423.5 1328.1 1423.8M1419.7 1446.4Q1438.5 1445.7 1457.4 1446.4M1388.1 1432.8Q1393.6 1432.3 1399.1 1432.2M1341.3 1415.6Q1358.6 1415.1 1375.9 1416.3M1424.7 1456.4Q1442.5 1456.8 1460.4 1455.8M1447.3 1411.8Q1462.6 1410.7 1477.9 1412.4M1368.1 1454.7Q1384 1453.5 1400 1455.2M1278.8 1401.5Q1297 1401.6 1315.1 1401.8M968.4 1380.5Q976.8 1379.6 985.2 1380.8M918.9 1388.3Q929.4 1387.7 939.9 1388.9M955.6 1391.8Q961.4 1391.5 967.1 1391.2M955.1 1387Q964 1387.1 972.9 1386.7M927.6 1383.1Q943.3 1383.6 959 1382.8M917.5 1390.2Q935.5 1390.9 953.4 1389.9M946.6 1388.2Q963.8 1387.1 981 1388.4M879.5 1368.2Q889.2 1369.3 898.8 1368.5M881.4 1374.4Q897.6 1374.9 913.8 1374M974.1 1372.8Q992.4 1373.6 1000 1373.2M870.6 1368.1Q883 1367.4 895.3 1367.6M895.7 1378Q905.4 1378.2 915.1 1378.3M946.1 1379.6Q952.8 1379.1 959.5 1379.2M924.1 1375Q940 1374.8 956 1374.8M874.4 1379.5Q880 1380.5 885.7 1380M986.1 1374.9Q995 1375.3 1000 1374.3M902.8 1379.2Q908.5 1379.6 914.2 1379.5M923.9 1386.6Q940 1386.5 956.1 1386.4M1151.2 1429.2Q1162.8 1430.1 1174.4 1429.6M1194.5 1425.3Q1202.4 1424.9 1210.3 1425.2M1160.9 1433.7Q1178.6 1433.2 1196.3 1434.1M1198.7 1431.5Q1207.3 1431.3 1215.9 1431.6M1143.6 1427.7Q1156.9 1428.7 1170.3 1427.8M1179.4 1431.3Q1183.7 1431.8 1188 1431.7M1188.4 1426Q1206.1 1426.6 1223.8 1426.1M1171.7 1438.4Q1181.1 1437.7 1190.5 1437.9M1202.4 1435.8Q1209.8 1436.5 1217.3 1436.4M1144.4 1431.3Q1159.4 1432.3 1174.4 1430.6M1209.6 1424.4Q1215.2 1424.2 1220.7 1424.4M1152.1 1427.5Q1159.6 1428.1 1167 1427M1136.1 1430Q1151.9 1430.4 1167.6 1429.4M1149.3 1440.3Q1154.6 1439.3 1159.8 1440.6M779.1 1371.6Q783.3 1372.4 787.5 1371.8M801.5 1339.9Q817.4 1339.2 830 1340.1M772.7 1348.2Q784.3 1347.1 796 1347.9M768.5 1342.5Q782.3 1342.5 796.2 1342.2M817.7 1336.8Q830.1 1336.8 830 1337.5M767.1 1359.7Q771.4 1359.7 775.6 1359.6M788.3 1351.4Q793.9 1350.7 799.5 1352.1M766.2 1352.7Q775.8 1352.8 785.3 1352.9M806.7 1349.3Q825.3 1348.3 830 1348.8M784.3 1377Q792 1376.1 799.8 1377.2M800.6 1356.6Q813.1 1356 825.6 1357.1M771.8 1345.1Q780.9 1344.3 789.9 1344.8M778.5 1361.4Q782.5 1361.9 786.6 1361.8M788.2 1373.3Q796.9 1373.7 805.6 1373M786 1368.9Q802.9 1370 819.8 1368.2M798.9 1337.5Q808.6 1338.1 818.2 1336.9M7 1160.5Q17.5 1161.6 28.1 1159.7M7.2 1155.9Q23.2 1155.9 39.3 1156.3M16.8 1157.7Q25.2 1157.5 33.7 1157.3M28.4 1162.9Q40.3 1163.2 52 1162.7M5.9 1159.1Q17.8 1158.4 29.6 1159.3M21.8 1160Q29.6 1159.9 37.4 1160.7M30.2 1163Q47 1162.1 52 1163M0.4 1161.6Q10.7 1160.8 20.9 1160.9M856.8 1176.6L861.3 1168.6M833.5 1177.3L837 1170.1M813.3 1177.9L817.6 1172.9M838.3 1197.5L843.5 1189.2M851 1185.9L855.8 1178.5M826.4 1174.7L832.1 1167.8M809.1 1171.2L814 1166.3M818.9 1169.5L825.2 1163.6M845.6 1177.2L851.8 1171.3M819.7 1193.4L826.5 1187.5M830.1 1171.7L837.9 1164.3M809.8 1193.3L812.8 1187.8M851.4 1177L855.7 1173.3M832.1 1180.9L837 1175.7M831.5 1170L836.3 1164.3M825.4 1182.1L829.9 1175.2M833.1 1196L841 1189M855.1 1194.3L862.1 1187.3M834.7 1182.7L841.3 1176.4M834.6 1180.8L837.7 1176.2M824.4 1181.8L830.8 1175.1M816.3 1185L824.7 1178.7M825.3 1172.1L829.2 1168.3M828.4 1183.9L831.3 1177.4M810 1178.5L815.4 1169.7M837.2 1167.1L841.4 1160.4M807.3 1189.6L811.9 1182.2M856.5 1194L864.3 1187.1M857.9 1187.5L862.8 1181.2M851.4 1191.5L855.5 1187.7M806.5 1196.4L811 1188.2M851.2 1170.5L857 1162.4M808 1187.7L810.6 1182.3M833.8 1199.4L838.2 1191.9M805.9 1194.5L811.2 1189.7M842.6 1196.8L849.5 1188.9M832.4 1198L838.2 1189.9M840.5 1168.2L846.5 1162.8M843.6 1168.9L847.8 1163.3M815.5 1183.2L820.1 1174.9M886.5 1178.1L890.3 1171.9M854.2 1200.7L860.1 1194.6M862.1 1182.7L866.3 1174.3M844.1 1201.6L851.6 1195.7M883.3 1186.7L886.6 1181.9M879.1 1187.9L885.7 1181.9M890.6 1185.6L895 1181.4M835.5 1206.2L838.5 1200.9M852.5 1187L857.5 1178.2M843.5 1189.8L848.3 1184.9M863.8 1201.1L868.8 1193.8M861.2 1203.2L865.4 1199.5M886.3 1193.4L890.4 1188.4M877.6 1191.9L884.8 1185.3M845.5 1206L851.6 1198.3M883.6 1181.6L888.5 1176.9M862.4 1179.3L866.5 1171.3M844.1 1183.6L849 1178M856.6 1201.5L860.5 1193.2M872.9 1212.8L876.1 1205.8M853.8 1203.9L858.4 1194.7M851.9 1196.7L854.6 1191.9M884.6 1196.3L889.6 1190.4M858 1211.4L861.8 1205M854 1205.1L859.7 1196.2M889 1208.5L895.3 1203.3M859.4 1209L865.3 1204.2M833.9 1198.5L841.7 1192M894.7 1215.7L900 1206.5M880.9 1183.2L886.7 1174.4M895.1 1190.4L902.1 1183.6M861.8 1184.6L864.3 1179M889.4 1190.1L892.4 1184.1M845.2 1181.6L849.9 1173.8M887 1193L891.4 1187.2M862.6 1205.5L869.8 1198.1M875.4 1211.3L882.1 1204.4M838.2 1183.1L842.6 1178.9M882.3 1213.9L889.2 1207.6M859.6 1193.8L863.1 1186.5M880.1 1201.5L884.5 1194M881.9 1192.8L887.4 1184.6M871.7 1208.1L878.5 1202.4M841 1185.5L844.9 1178.8M854.1 1204.2L858.2 1198.6M857.1 1210.9L861.6 1201.3M859.4 1184.5L866.3 1177.4M862.2 1181.3L866.3 1177M888.1 1210.1L891 1203.7M869.4 1193.4L874.2 1187M896.5 1228.8L903 1226.3M834.8 1235.1L843.5 1230.9M851.6 1228.1L857.9 1224.5M859.1 1227.9L869.1 1224.1M858.8 1228.4L864.5 1225.9M841.7 1243.2L847.5 1240.4M883.5 1237.6L888.4 1234.8M836.8 1221.3L843.3 1217.7M890.2 1236.5L896.1 1232.3M838.1 1240.1L843.7 1237.2M843.4 1218.5L850.8 1213.6M864.4 1227.6L871.4 1221.4M833.9 1220.3L841 1214.2M867.7 1229.6L876.4 1223.5M872.6 1224.6L882 1221.3M876.5 1232.1L881.5 1229.2M844.8 1222L853.3 1219.7M889.6 1228.3L895.2 1226.8M893.6 1238.2L898.4 1235.4M895.6 1224.9L904.9 1220.8M885.6 1229.7L890.6 1225.6M835 1226.2L843.8 1221.4M833.5 1239.6L840.2 1235.3M878.9 1229.8L887.9 1226.3M836.4 1236.1L845.7 1231.7M871.7 1225.4L876.4 1222.5M848.5 1221.5L855.5 1216.5M897.9 1226.6L902.3 1223.3M840.6 1219.7L848.2 1214.5M884.8 1233.9L891.3 1230.9M846.2 1243.1L851.6 1238.2M842.5 1230L850.7 1225.3M830.5 1236.8L836.7 1234.1M814.8 1241L823.3 1238.7M861.4 1227.3L870 1220.9M844.5 1225.9L852 1220.8M814.6 1234.9L820.3 1230.4M850 1244.9L857.9 1237.7M861 1231.3L869.3 1225.1M823.6 1234.4L829.2 1232.5M9.6 1259.6L13.2 1254.4M7 1248.9L11.8 1243M18 1247.6L22.3 1240.1M14.1 1228.2L17.8 1218.7M42.3 1248.1L46.1 1240.7M17.3 1253L21.5 1246.3M36.4 1232.5L40.8 1228M12.7 1236.6L16.4 1229.6M7.6 1255.4L12 1247.6M42.9 1230.5L48.1 1223.5M6.1 1241L12.4 1235.1M32.2 1257.3L35.4 1251.3M25 1233.6L27.7 1226.7M32.7 1254.2L37.7 1247.5M38 1252.5L40.9 1245.7M38.5 1218.8L45.9 1211.5M14.2 1224.6L18.7 1220M20.3 1222.3L26.6 1213.5M35.1 1258.6L38.3 1253.6M26.6 1226.6L31 1222.1M20.3 1258.1L22.1 1252.8M29.8 1253.4L37.1 1246.5M3.1 1230.9L7.1 1222.5M5.3 1248.8L10.3 1242.2M1 1234L5.5 1228.6M17.5 1251.1L22.3 1245.5M31.5 1235.6L36.2 1229.4M5.5 1217.3L9.8 1208.4M33.2 1215.6L36.2 1208.6M15 1255.6L19.3 1250.7M4.9 1189.3L16.8 1182.6M24.6 1177.3L33.1 1173.5M22.2 1193.6L33.3 1191.4M29.7 1192.8L38 1188.6M11.1 1181.1L19.7 1177.8M47.2 1174.7L57.6 1172.3M22 1178.8L34 1176.7M7.3 1178.8L18.4 1174.6M1.4 1176.3L11.9 1171.9M13 1191.6L27.1 1189.1M20.3 1188.6L28.9 1184.2M7.8 1195.6L16.9 1191.8M43.3 1184.6L53.1 1179.6M8.8 1196.9L20.8 1189.7M519.8 1350L523.3 1355M541.1 1376.4L543.6 1382.4M525.5 1383.2L527.8 1391.7M544.4 1376.1L547.1 1381.4M512.9 1369.5L515.6 1374.1M519.1 1336.7L522.3 1343.3M539.3 1381L540.5 1385.9M530.8 1346.6L535.4 1353.6M536.8 1368.8L541.4 1375.5M525.3 1335.2L528.4 1342M507.5 1343.5L509 1348.3M547.3 1361.7L551 1366.3M531.7 1365L535.2 1371.5M541.3 1350.5L543.5 1355.8M508.7 1337.6L513 1343.6M513.5 1359.8L516.7 1366.7M545.2 1339.1L547.5 1347.3M512.5 1377.3L515.4 1383.7M503 1374.5L505.9 1381M511.7 1360.9L515.8 1369.3M517.7 1380.7L521.1 1385.8M530.5 1350L535.1 1358.3M549.3 1359.8L554.4 1367.8M526.1 1342L530.4 1347.3M517.9 1383.9L521.7 1390.8M529.4 1343L532.1 1351M513.4 1360.6L517.4 1366.8M508 1349.5L511.1 1356.4M510.6 1341.6L513.4 1349.7M544.8 1366.6L550.4 1374.1M551.1 1368.9L553.8 1377M516.2 1384.3L520.4 1392.2M517.9 1341L521.3 1346.5M539.5 1357.7L542.8 1363.6M523.4 1374.9L528.1 1383.1M520.3 1377.3L522.3 1385.5M504 1371.7L508.7 1378.5M517.4 1353.5L522 1360.8M519 1363.8L522.4 1368.5M527.6 1380.1L531.3 1384.8M565.3 1390.1L571.8 1394.7M625.3 1371.9L632.9 1376.9M619.5 1390.5L627.6 1393.8M569.9 1374.3L575.7 1378M569.4 1408.8L575.2 1410.6M604.7 1383.6L610.9 1388.2M549.1 1376.3L555.1 1378.8M543.2 1380.3L551.4 1385.2M559.2 1392.3L564.3 1394.4M606.8 1372.9L614.2 1378.4M564.2 1405.8L570.2 1410.9M617.3 1377.7L624.2 1381.4M566 1398.5L571.6 1402.3M604.5 1371L611.8 1373.3M571.9 1390.4L579.8 1392.7M619.9 1391.5L627.4 1393.5M538 1391.2L545.7 1397M580.8 1394.1L588.7 1399.2M587.6 1410.9L594.2 1415.9M609.3 1405.5L619.2 1408.6M591.7 1411.7L599.5 1417.3M575.1 1381.6L584.1 1386.3M603.7 1397.3L612.3 1399.8M566.6 1392.2L574.7 1397.7M575.2 1370.9L579.9 1373.7M612 1370.8L619.2 1373.5M559.1 1379.4L565 1383.3M577.6 1397.9L584.4 1403M568 1407L572.8 1410.9M606.9 1378.7L612.1 1380.5M591 1405.5L597.7 1410.4M623.8 1383.8L629.9 1386.4M554.4 1382.7L560.6 1385.8M622.1 1379.1L627.7 1381.7M618.6 1388.5L624.4 1393.1M576.3 1401.2L582.4 1405.6M576.6 1386.8L583.5 1389.3M610.7 1373.9L620.5 1377.3M602.4 1375.1L607.3 1378.7M580.5 1395.4L586.3 1399.6M552.8 1411.4L558.6 1415.8M558.7 1374.7L563.6 1377.2M609.7 1386.8L615.4 1391.4M623 1405.1L631.9 1409.6M563 1412L571.5 1414.5M672.7 1417L681.2 1420.3M706.2 1411.6L715.1 1411.4M695.4 1404.6L707.6 1404.3M721.1 1402.2L733.9 1406.2M707.9 1413.4L716.2 1414.3M644.4 1433.7L656 1438.4M727.3 1406.5L734.9 1409.2M643.1 1417.9L654.8 1418.5M740.2 1409.5L753 1410.3M665.1 1432L678.5 1430.9M740.8 1401.7L752.2 1402.7M690.3 1405.7L703.9 1404.4M634 1435.6L644.6 1435.1M749.8 1430.8L757.9 1432.2M700.4 1422.9L711 1423.5M739.4 1404.6L749 1406.8M701.8 1425.8L714.2 1427.5M732.8 1407.1L740.9 1407.1M744.5 1408.1L752.4 1407.7M674.5 1431.9L683.3 1431.5M646 1423.7L660.2 1424.7M708.9 1418.7L722.2 1421.3M720.8 1404.7L732.7 1406.1M697.3 1433.6L711 1432.5M672.1 1401.7L680.6 1401.7M640.6 1401.2L648.6 1403.7M663.9 1420.6L673.5 1422M703.7 1429.4L714 1431.4M649.9 1422.4L657.9 1423.8M658.3 1427.7L667.3 1431.1M738 1409.2L748.2 1412.4M693.4 1423.9L702.8 1426.1M689.5 1402.3L701.3 1403.2M747.4 1404.5L757.9 1404.7M1137.8 1186.7L1146.6 1181.8M1151.5 1184L1157.3 1183.1M1190.7 1185.6L1200.1 1181M1199.9 1178.5L1206.3 1177M1131.2 1190.9L1138.9 1186.9M1140.6 1193.8L1149.6 1190.1M1155.4 1179.3L1163.5 1177.8M1156.2 1176.3L1163.7 1171.6M1173.3 1193.4L1179.3 1191.7M1196 1188L1202.7 1186.5M1197.1 1195.8L1206.1 1190.9M1198 1194.6L1203.7 1192.1M1195.7 1174L1202.9 1169.8M1151.8 1195.2L1161.8 1191.7M1134.1 1183.4L1142.4 1178.1M1183.5 1192.6L1190.1 1191.4M1185 1188.9L1190.8 1186M1188.4 1175.6L1195.2 1174.5M1192.5 1176.8L1202.6 1173.9M1140.6 1184.2L1149.7 1181.3M1130.8 1176.7L1136 1173.9M1174 1184.8L1180.7 1182.6M1138.7 1191.1L1144 1188.7M1198.5 1194.9L1204.6 1191.8M779.6 1175.7L785.6 1175.7M764 1178.8L773.1 1178.7M773.8 1181.4L779.5 1179.4M779.9 1179L787.2 1177.9M776.1 1180L786.7 1179.6M762.7 1179.6L769.6 1179.5M771.7 1174.1L779.4 1171.5M762.6 1182.5L768.4 1182.8M753 1182.1L760.7 1179.5M767.7 1180L776.6 1176.3M771.3 1178.4L778.7 1178.2M765.6 1183.9L773.9 1181.7M975.7 1175.5L983.6 1172.4M959.1 1174.8L966.2 1169.2M986.6 1167.3L994.1 1161.6M967.2 1175.3L974.9 1171.8M973.3 1178.7L981.2 1174.9M982.2 1172.7L987.9 1166.4M955.8 1178.8L963.1 1171.4M983.1 1174L989.2 1171.2M983.6 1165.6L989.9 1163.2M970.6 1159.1L979.4 1152.8M964.2 1175.5L971.2 1169M974.2 1165.1L980 1160.7M983.5 1176.6L990.1 1173.6M976.6 1174.3L982.6 1171.5M984 1160.2L991.8 1156.1M966 1168.9L971.4 1163.8M964.3 1173.6L971.9 1167.5M986.4 1174.6L993 1172M958.9 1170.8L967.4 1167.3M974.6 1174.6L980.9 1170.5M979.3 1162.4L985.3 1156.2M985.7 1166.9L992.7 1160.8M1101.6 1150.3L1108.1 1151.7M1122.8 1157L1130.4 1158.5M1103.5 1145.3L1111.9 1147.5M1077 1152.8L1084.7 1153.4M1099.7 1157.3L1107 1159.1M1086.3 1154.4L1092.3 1153.5M1087.2 1144.3L1098.2 1145M1095.7 1152.8L1104.2 1153.1M1117.4 1153.3L1128.7 1154M1124 1155.9L1135.8 1157.2M1115.2 1148.2L1126.5 1147.5M1121.8 1149.1L1133.6 1148.3M1081.7 1157.8L1089 1159.6M1101.9 1146.1L1112.3 1148.6M1100.4 1151.6L1111.2 1150.6M1105.2 1155.5L1115 1156.6M495 1268L496.2 1236.2M495.7 1239.3L495 1219M495.4 1219L485.2 1210.9M485.9 1213.5L482.2 1207.1M489.2 1211.1L481.7 1209M495 1230.8L496.9 1218M496.9 1224.1L497.3 1215.6M496.5 1223.2L499 1214.2M495 1229.4L495.5 1215.5M495.5 1215.7L488.7 1208.7M495.4 1217.4L490.2 1211.6M495.4 1222.5L490.3 1213.4M496 1236.4L506.6 1222.2M504.9 1227.9L503.9 1216.8M504.1 1220.9L503 1212.9M504.4 1221.4L500 1215.8M504.4 1222.8L501.1 1217.1M502.5 1225.2L501.3 1213.9M501.6 1220.5L502.3 1212.1M502 1218.2L496.5 1211.8M503.7 1230.7L507.8 1221.7M507.4 1222L506.6 1215.4M505.8 1225.9L506.9 1218.9M507.6 1223.9L511.4 1217.8M496 1238.5L486.5 1222.7M492 1231.8L485.7 1219.6M486.5 1224.6L480.1 1219M488.8 1223.1L491 1214.5M488.7 1222.7L491.6 1209.4M491.2 1209.8L495 1203.2M490.3 1216.2L497.9 1211.8M491.3 1217L485.7 1208.5M489.4 1224.1L486.2 1211.6M486.5 1218.4L486.7 1209M487 1213.9L485.1 1205M520 1266L522.5 1241.3M521.7 1253.2L534 1243.4M529.4 1246.4L536.9 1240.2M535.1 1242.8L541.8 1244.1M535.9 1241.3L540.2 1238.1M536.7 1242.8L542.8 1239.2M530.6 1245.5L540.7 1243M540.5 1243.9L546.4 1240.6M539.6 1243.5L545.9 1241.1M532.9 1246.3L541.2 1243.3M536.7 1243.4L542.4 1245.5M536.6 1244.7L540.4 1240.1M521 1242.5L513.9 1226.9M518.2 1234L519.8 1221.9M519.8 1223.1L519 1214.4M518.9 1228.1L516.2 1220.2M514.4 1232.3L510.7 1220.5M512.5 1221.4L513.4 1214M511.4 1224.6L508.1 1217.9M511 1221.8L508.3 1214M515.5 1232.6L514.7 1221.7M515.1 1227.5L510.2 1221.5M515.1 1224.7L510.4 1218.7M548 1262L557.1 1234.3M553.2 1246.2L567.6 1236.1M562.4 1236.8L566.5 1227.7M564.5 1230.3L561.9 1224.4M564.3 1232.9L565.5 1227.4M565.7 1232.8L567.6 1226.8M565.3 1239.5L577.2 1237.9M575.6 1238.2L579.4 1232.8M571.2 1238.1L577.1 1234.2M554.2 1236L545.8 1219.8M548.3 1227.3L545.5 1216.4M547.1 1220L549.8 1213M546.7 1221.9L545.5 1215.1M547 1222.5L545.6 1216.4M547.2 1222.4L539.9 1215.4M541.3 1219.6L535.6 1220.3M542.6 1217.2L541.4 1210.1M550.6 1224.2L537.9 1221.2M538.4 1221.9L529.7 1223.3M542.1 1221.7L534.7 1217.1M542.9 1221.3L533.5 1219.9M552.5 1242L553.6 1225.2M553.6 1231.4L550 1222.2M551.3 1226L545.5 1223.8M550.3 1223L553 1218.1M553.4 1233.2L552.1 1221M552.3 1225.1L550 1217.8M552.6 1225.4L554.8 1218.5M552.7 1226.9L547.3 1219.8M570 1258L573.1 1230M572.3 1234L571.3 1214.8M571.6 1220.9L571.9 1208.7M571.8 1214.4L572.6 1207.3M571.8 1212.2L567.7 1205.6M571.9 1213.2L574.2 1206.2M571.4 1219.9L563.9 1210.4M567.7 1214.3L560.1 1210.7M565 1213.3L561.1 1205.8M572.3 1236.2L561.6 1224.2M567.4 1231.4L566.8 1222.4M567.1 1222.9L564.1 1218.6M567.1 1223.3L565 1217M564.3 1225.5L556.6 1217.5M559.8 1218.4L551.9 1216.9M560.4 1221.7L560.2 1214.7M558.6 1219.3L555.9 1213.1M572.9 1242.6L561.4 1225.2M567.6 1235.2L568.9 1221.9M568.3 1229.7L572.3 1221.1M568.9 1225.2L564.4 1216.5M568.9 1222.3L571 1212.8M561.4 1226.4L549.7 1223.9M552 1224L544.1 1228.2M550 1225.1L543.4 1221.9M551.1 1224.2L542.2 1224.7M564.8 1229.2L558.5 1214.9M559 1221.8L551.6 1214.9M558.8 1219.3L561.4 1211M561.4 1220.9L556.5 1212.2M470 1250L460.7 1222M462.6 1233.2L442.9 1224.8M446.1 1229.7L430.7 1226.8M436.4 1227.3L426.8 1229.5M436.6 1227.6L431.9 1218.9M433.4 1228.3L424.1 1229.1M452.5 1228.4L439.6 1233M441.1 1232.8L431.6 1229.8M447.1 1230.6L439 1229.6M465.3 1237.7L461.9 1220.4M462.2 1230.7L451.2 1224.7M456.8 1226L453.6 1218.6M452 1225.4L445 1226.9M462.5 1228.7L465 1219.1M464.6 1224.3L465.5 1217.5M463.8 1220.7L464.1 1214M465.2 1225.1L466.2 1206M465.9 1209L468.9 1195.5M467.4 1203.6L464.5 1196M467.3 1199.2L475.7 1194.7M468.3 1203L465.5 1195M466.2 1215.6L469.9 1203.3M468.8 1208.6L470.3 1199.5M469.4 1206.8L474.5 1198.8M468.3 1205.1L464.9 1198.8M598 1250L594.8 1220.8M596.6 1225L601 1209.4M599.2 1211.5L608.8 1205.7M606.3 1206.7L610.8 1201.4M607.7 1207.9L612.2 1202.2M599.8 1211.8L597.9 1202.5M598.6 1203.2L595.2 1197.4M597.9 1205.8L600.6 1200.4M598.9 1204L596 1197.6M595.1 1224.5L588.3 1204.4M590.7 1216.3L593.7 1202.1M592.2 1202.6L589.7 1194.9M592.7 1208.3L589.6 1199.5M591.7 1206.5L595.7 1194.2M594.5 1196.3L596.3 1186.9M593.7 1194.5L589.3 1186M596.6 1232.7L593.9 1215.1M594.7 1220.4L587.6 1211.3M589.2 1214.9L582.6 1210.7M589.2 1213.5L585.2 1207.6M590.3 1213L582.8 1211.2M594.8 1225.4L590.7 1215.5M591.5 1216.1L593.9 1209.3M591 1218.7L586.3 1214M591.2 1217.3L593.9 1209.8M1140 1262L1144.3 1243.1M1143.6 1247.5L1151.9 1239.3M1151.3 1242.7L1158.6 1242M1156.9 1242.4L1161.8 1241.8M1158.1 1242L1162.2 1239.7M1150.8 1240.3L1153.3 1234.1M1152.5 1237L1150.5 1233.3M1152.7 1235.7L1156.6 1232.6M1149.3 1242.7L1156.1 1242M1156 1242.2L1159.4 1238.8M1155.1 1242.3L1158.8 1244.1M1143.8 1249.6L1151.5 1242.1M1147.8 1245.3L1147.5 1238M1147.7 1240.4L1150.3 1237.1M1147.5 1240L1148.1 1234.9M1147.6 1241.2L1145.4 1236.7M1149 1245.9L1150 1238M1149.4 1241.2L1149.8 1236.6M1149.9 1241L1146.5 1237.2M1148.4 1245.8L1154.7 1241.8M1152.1 1242.4L1153 1237.5M1153.7 1242.5L1158.3 1239.5M1151.4 1244L1153.5 1239.1M1155 1264L1149.2 1246.8M1151.5 1252.9L1153 1241.2M1152.5 1243.7L1152.1 1236.9M1152.2 1239.1L1148.7 1235.5M1152.3 1240L1153.2 1235.5M1152.1 1242.3L1149.7 1236.1M1150.1 1236.3L1151.7 1232.9M1150.7 1238.4L1150.2 1234.3M1150.9 1254.1L1139.2 1249.4M1142.4 1252.1L1136 1248.2M1139.8 1248.9L1136.2 1246M1136.4 1250.2L1131.5 1250M1136.3 1248.8L1131.5 1248.1M1142.7 1251.8L1134.3 1253M1138.3 1253L1132.9 1254.9M1137 1252.6L1132.6 1248.9M1135.4 1252.4L1131.9 1256.4M1145.5 1249.6L1136.7 1250.8M1137.6 1250.6L1132.2 1247.3M1140.1 1250.1L1134.2 1249.6M1137.3 1250.3L1132 1250.9M1151.9 1255.3L1145 1245.7M1146.2 1248.8L1140.1 1243.2M1142 1244.5L1140.4 1239.1M1140.3 1246.3L1135.8 1246.1M1143.6 1246.4L1138.7 1247M1149.1 1248.9L1147.3 1240.3M1148.3 1244.3L1144.5 1240.3M1147.4 1245.1L1145.7 1240.5M1146 1246.3L1140 1242.3M1143.2 1243.2L1142.3 1238.2M1140.5 1242.5L1136.4 1242.5M1168 1260L1171.4 1241.6M1169.9 1244.9L1171.7 1231.9M1170.9 1236.6L1170.3 1229.4M1170.4 1231.9L1173.7 1228.5M1170.6 1233.4L1172.4 1229.4M1170.6 1231.6L1172.4 1228M1170.9 1232.9L1168.2 1225.1M1168.2 1229.6L1166.9 1223.7M1168.9 1226.5L1170 1220.8M1170.8 1249.5L1164.6 1239.6M1166.3 1243.3L1167.6 1235.3M1167.1 1237L1167.1 1231.6M1167.1 1235.4L1170 1231.6M1165.8 1240.2L1164.1 1233.1M1165 1236.3L1160.8 1232.9M1164.4 1235.4L1163.6 1230.4M1164.2 1235.9L1166.9 1231.1M1167.8 1243.5L1165.2 1235.7M1165.3 1236.7L1166.6 1231.7M1165.5 1236.3L1168.4 1231.7M1170.4 1246.3L1167.2 1234.3M1167.7 1236.6L1169.7 1228.8M1169.4 1229.8L1171.1 1225M1169.3 1231.7L1171.5 1226.5M1169.3 1228.9L1168.1 1223.6M1168.8 1236.5L1170.5 1228.1M1170 1228.5L1172.7 1224M1170.2 1231.6L1168.3 1226.1" fill="none" stroke="#4b1664" stroke-opacity="0.62" stroke-width="1.15" stroke-linecap="round"/>
<path d="M1289 1238Q1290 1252 1288 1262Q1286 1270 1281 1275L1304 1275Q1299 1268 1298.5 1258Q1298 1248 1299.5 1238ZM1379 1233Q1380 1246 1378.5 1254Q1377 1260 1374 1263L1397 1263Q1393.5 1258 1393 1250Q1392.5 1241 1394 1233Z" fill="#4b1664" fill-opacity="0.62"/>

</g>
<path d="M0,215C5.5,213.8 16.3,209.7 33,208C49.7,206.3 80.5,204.7 100,205C119.5,205.3 137.5,208.7 150,210C162.5,211.3 145,212.5 175,213C205,213.5 287.5,212.7 330,213C372.5,213.3 401.7,215.2 430,215C458.3,214.8 476.7,213 500,212C523.3,211 536.7,209.5 570,209C603.3,208.5 656.7,209 700,209C743.3,209 791.7,208.5 830,209C868.3,209.5 901.7,211 930,212C958.3,213 963.8,215.2 1000,215C1036.2,214.8 1122.5,211.7 1147,211L1148,215L1220,215L1221,213L1277,212L1278,215C1287.2,214.2 1312.7,211.7 1333,210C1353.3,208.3 1386.8,206 1400,205C1413.2,204 1410,204.2 1412,204L1413,205.5C1415,205.3 1417.2,203.9 1425,204.5C1432.8,205.1 1449.8,207.6 1460,209C1470.2,210.4 1481.7,212.3 1486,213L1500,218L1500,1123C1495.8,1124.5 1480.5,1129.5 1475,1132C1469.5,1134.5 1474,1135.5 1467,1138C1460,1140.5 1444.2,1145.2 1433,1147C1421.8,1148.8 1411,1149 1400,1149C1389,1149 1383.7,1148.2 1367,1147C1350.3,1145.8 1321.2,1144 1300,1142C1278.8,1140 1250,1136.2 1240,1135L1283,1147L1145,1146L1140,1143C1131.7,1143 1099.5,1142.7 1090,1143C1080.5,1143.3 1085.5,1143.2 1083,1145C1080.5,1146.8 1076.3,1152.5 1075,1154C1062.5,1154.2 1022.5,1154.9 1000,1155C977.5,1155.1 959,1154.8 940,1154.5C921,1154.2 895,1153.2 886,1153L906,1158C901.7,1157.5 891,1156.5 880,1155C869,1153.5 851.7,1150.8 840,1149C828.3,1147.2 828.3,1145.8 810,1144C791.7,1142.2 747.5,1139.5 730,1138C712.5,1136.5 709.2,1135.5 705,1135L714,1133.5L671,1129.5L682,1134C680,1133.5 678.2,1132.2 670,1131C661.8,1129.8 650.2,1127.7 633,1127C615.8,1126.3 589.2,1126.2 567,1127C544.8,1127.8 519.5,1130.7 500,1132C480.5,1133.3 466.7,1134.5 450,1135C433.3,1135.5 416.7,1135.5 400,1135C383.3,1134.5 366.7,1134 350,1132C333.3,1130 318.3,1124.8 300,1123C281.7,1121.2 256.7,1121 240,1121C223.3,1121 217.8,1121 200,1123C182.2,1125 152.5,1130.5 133,1133C113.5,1135.5 96.8,1138 83,1138C69.2,1138 60.5,1134.8 50,1133C39.5,1131.2 25,1128 20,1127L15,1129L0,1128Z" fill="#f3dab2"/>
<ellipse cx="1500.6" cy="1047.3" rx="3.2" ry="9.6" fill="#4a1d52"/>
<text class="title" y="114.2" font-size="100"><tspan x="136.56" textLength="699.11" lengthAdjust="spacingAndGlyphs">GUARANTEED</tspan><tspan x="866.40" textLength="481.83" lengthAdjust="spacingAndGlyphs">ANALYSIS</tspan></text>
<g class="ga">
<text x="107.64" y="291.4" textLength="279.42" lengthAdjust="spacingAndGlyphs">Crude Protein</text>
<text x="839.29" y="291.4" textLength="87.13" lengthAdjust="spacingAndGlyphs">Min.</text>
<text x="983.92" y="291.4" textLength="87.20" lengthAdjust="spacingAndGlyphs">23%</text>
<text x="107.66" y="352.7" textLength="198.34" lengthAdjust="spacingAndGlyphs">Crude Fat</text>
<text x="839.29" y="352.7" textLength="87.13" lengthAdjust="spacingAndGlyphs">Min.</text>
<text x="988.83" y="352.7" textLength="79.27" lengthAdjust="spacingAndGlyphs">12%</text>
<text x="107.65" y="414.0" textLength="238.36" lengthAdjust="spacingAndGlyphs">Crude Fiber</text>
<text x="839.35" y="414.0" textLength="99.01" lengthAdjust="spacingAndGlyphs">Max.</text>
<text x="997.96" y="414.0" textLength="59.07" lengthAdjust="spacingAndGlyphs">4%</text>
<text x="108.57" y="475.3" textLength="176.50" lengthAdjust="spacingAndGlyphs">Moisture</text>
<text x="839.35" y="475.3" textLength="99.01" lengthAdjust="spacingAndGlyphs">Max.</text>
<text x="988.83" y="475.3" textLength="80.22" lengthAdjust="spacingAndGlyphs">10%</text>
<text x="107.59" y="536.6" textLength="161.52" lengthAdjust="spacingAndGlyphs">Calcium</text>
<text x="839.29" y="536.6" textLength="87.13" lengthAdjust="spacingAndGlyphs">Min.</text>
<text x="988.85" y="536.6" textLength="89.26" lengthAdjust="spacingAndGlyphs">1.7%</text>
<text x="109.32" y="597.9" textLength="233.73" lengthAdjust="spacingAndGlyphs">Phosphorus</text>
<text x="839.29" y="597.9" textLength="87.13" lengthAdjust="spacingAndGlyphs">Min.</text>
<text x="988.84" y="597.9" textLength="84.21" lengthAdjust="spacingAndGlyphs">1.1%</text>
<text x="108.19" y="659.2" textLength="189.83" lengthAdjust="spacingAndGlyphs">Vitamin E</text>
<text x="839.29" y="659.2" textLength="87.13" lengthAdjust="spacingAndGlyphs">Min.</text>
<text x="988.90" y="659.2" textLength="186.21" lengthAdjust="spacingAndGlyphs">120 IU/kg</text>
<text x="107.68" y="720.5" textLength="445.33" lengthAdjust="spacingAndGlyphs">Omega-6 Fatty Acids*</text>
<text x="839.29" y="720.5" textLength="87.13" lengthAdjust="spacingAndGlyphs">Min.</text>
<text x="983.93" y="720.5" textLength="124.14" lengthAdjust="spacingAndGlyphs">2.25%</text>
<text x="107.68" y="781.8" textLength="445.33" lengthAdjust="spacingAndGlyphs">Omega-3 Fatty Acids*</text>
<text x="839.29" y="781.8" textLength="87.13" lengthAdjust="spacingAndGlyphs">Min.</text>
<text x="983.93" y="781.8" textLength="118.15" lengthAdjust="spacingAndGlyphs">0.75%</text>
<text x="107.66" y="843.1" textLength="273.35" lengthAdjust="spacingAndGlyphs">Glucosamine*</text>
<text x="839.29" y="843.1" textLength="87.13" lengthAdjust="spacingAndGlyphs">Min.</text>
<text x="984.95" y="843.1" textLength="219.12" lengthAdjust="spacingAndGlyphs">500 mg/kg</text>
<text x="107.67" y="904.4" textLength="400.34" lengthAdjust="spacingAndGlyphs">Chondroitin Sulfate*</text>
<text x="839.29" y="904.4" textLength="87.13" lengthAdjust="spacingAndGlyphs">Min.</text>
<text x="984.95" y="904.4" textLength="219.12" lengthAdjust="spacingAndGlyphs">500 mg/kg</text>
<text x="108.29" y="965.7" textLength="671.71" lengthAdjust="spacingAndGlyphs">Total Lactic Acid Microorganisms*</text>
<text x="839.29" y="965.7" textLength="87.13" lengthAdjust="spacingAndGlyphs">Min.</text>
<text x="985.98" y="965.7" textLength="372.04" lengthAdjust="spacingAndGlyphs">70,000,000 CFU/lb</text>
<text x="107.58" y="1027.0" textLength="1192.44" lengthAdjust="spacingAndGlyphs">(Enterococcus faecium, Bacillus licheniformis, Bacillus subtilis,</text>
<text x="107.98" y="1088.3" textLength="1246.04" lengthAdjust="spacingAndGlyphs">Lactobacillus acidophilus, Lactobacillus casei, in equal amounts)</text>
</g>
</svg>
</body>
</html>
